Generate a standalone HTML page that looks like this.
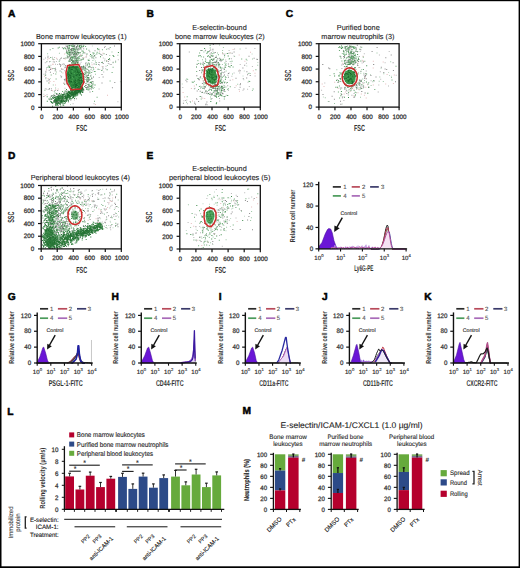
<!DOCTYPE html>
<html><head><meta charset="utf-8"><style>
html,body{margin:0;padding:0;background:#fff;width:520px;height:568px;overflow:hidden}
svg{display:block}
text{font-family:"Liberation Sans", sans-serif;stroke-width:0.1px;text-rendering:geometricPrecision}
</style></head><body>
<svg width="520" height="568" viewBox="0 0 520 568" font-family='"Liberation Sans", sans-serif'>
<rect x="0.00" y="0.00" width="520.00" height="568.00" fill="#fff"/>
<text x="7.90" y="17.30" font-size="10.2" font-weight="bold" fill="#000" stroke="#000" style="stroke-width:0.5px">A</text>
<text x="146.55" y="17.20" font-size="10.2" font-weight="bold" fill="#000" stroke="#000" style="stroke-width:0.5px">B</text>
<text x="285.70" y="17.30" font-size="10.2" font-weight="bold" fill="#000" stroke="#000" style="stroke-width:0.5px">C</text>
<text x="8.05" y="158.75" font-size="10.2" font-weight="bold" fill="#000" stroke="#000" style="stroke-width:0.5px">D</text>
<text x="146.55" y="158.75" font-size="10.2" font-weight="bold" fill="#000" stroke="#000" style="stroke-width:0.5px">E</text>
<text x="286.05" y="158.75" font-size="10.2" font-weight="bold" fill="#000" stroke="#000" style="stroke-width:0.5px">F</text>
<text x="7.80" y="299.80" font-size="10.2" font-weight="bold" fill="#000" stroke="#000" style="stroke-width:0.5px">G</text>
<text x="111.40" y="299.80" font-size="10.2" font-weight="bold" fill="#000" stroke="#000" style="stroke-width:0.5px">H</text>
<text x="218.80" y="299.80" font-size="10.2" font-weight="bold" fill="#000" stroke="#000" style="stroke-width:0.5px">I</text>
<text x="322.00" y="299.80" font-size="10.2" font-weight="bold" fill="#000" stroke="#000" style="stroke-width:0.5px">J</text>
<text x="424.20" y="299.80" font-size="10.2" font-weight="bold" fill="#000" stroke="#000" style="stroke-width:0.5px">K</text>
<text x="7.30" y="414.50" font-size="10.2" font-weight="bold" fill="#000" stroke="#000" style="stroke-width:0.5px">L</text>
<text x="242.50" y="414.40" font-size="10.2" font-weight="bold" fill="#000" stroke="#000" style="stroke-width:0.5px">M</text>
<text x="81.30" y="38.50" font-size="7.3" text-anchor="middle" fill="#222" stroke="#222" textLength="90.60" lengthAdjust="spacingAndGlyphs" >Bone marrow leukocytes (1)</text>
<path fill="#6aa874" d="M67.8 52.3h1v1h-1zM79.6 48.4h1v1h-1zM77.7 58.0h1v1h-1zM69.4 59.1h1v1h-1zM71.7 44.8h1v1h-1zM74.9 63.4h1v1h-1zM75.7 54.8h1v1h-1zM76.1 51.6h1v1h-1zM73.9 54.0h1v1h-1zM85.1 45.9h1v1h-1zM69.0 47.8h1v1h-1zM68.7 53.9h1v1h-1zM74.1 54.1h1v1h-1zM78.0 56.7h1v1h-1zM77.3 62.8h1v1h-1zM72.6 56.8h1v1h-1zM74.4 50.8h1v1h-1zM66.9 56.1h1v1h-1zM75.4 62.2h1v1h-1zM69.7 58.6h1v1h-1zM68.1 47.4h1v1h-1zM75.6 61.5h1v1h-1zM80.4 45.0h1v1h-1zM73.1 61.4h1v1h-1zM66.8 46.4h1v1h-1zM81.5 46.1h1v1h-1zM72.3 56.2h1v1h-1zM69.1 53.8h1v1h-1zM67.4 51.7h1v1h-1zM77.0 56.9h1v1h-1zM76.1 49.1h1v1h-1zM74.2 63.9h1v1h-1zM69.9 54.4h1v1h-1zM68.5 60.2h1v1h-1zM76.2 60.1h1v1h-1zM68.6 61.1h1v1h-1zM73.7 57.4h1v1h-1zM79.1 45.0h1v1h-1zM66.9 53.4h1v1h-1zM75.4 49.4h1v1h-1zM69.3 53.1h1v1h-1zM63.3 47.7h1v1h-1zM80.9 55.5h1v1h-1zM80.4 58.7h1v1h-1zM68.4 50.4h1v1h-1zM76.9 57.4h1v1h-1zM66.4 51.8h1v1h-1zM69.5 52.0h1v1h-1zM73.7 56.1h1v1h-1zM72.8 49.2h1v1h-1zM83.0 46.1h1v1h-1zM72.8 63.7h1v1h-1zM68.9 51.2h1v1h-1zM72.3 53.0h1v1h-1zM68.9 63.9h1v1h-1zM73.9 48.4h1v1h-1zM75.4 62.2h1v1h-1zM75.9 46.9h1v1h-1zM79.3 46.1h1v1h-1zM77.3 60.8h1v1h-1zM66.3 51.9h1v1h-1zM58.9 46.7h1v1h-1zM68.6 55.6h1v1h-1zM70.5 51.5h1v1h-1zM72.5 56.8h1v1h-1zM68.2 54.0h1v1h-1zM71.9 60.1h1v1h-1zM75.5 59.2h1v1h-1zM73.3 52.8h1v1h-1zM73.8 58.2h1v1h-1zM65.8 52.6h1v1h-1zM71.4 55.8h1v1h-1zM75.1 49.7h1v1h-1zM70.2 49.1h1v1h-1zM73.1 47.9h1v1h-1zM76.9 50.6h1v1h-1zM79.5 60.0h1v1h-1zM77.9 58.6h1v1h-1zM74.7 49.3h1v1h-1zM72.7 61.8h1v1h-1zM77.8 48.1h1v1h-1zM80.1 47.0h1v1h-1zM73.1 48.9h1v1h-1zM79.4 55.9h1v1h-1zM71.9 47.9h1v1h-1zM70.4 56.8h1v1h-1zM71.7 61.7h1v1h-1zM77.9 60.4h1v1h-1zM83.3 52.1h1v1h-1zM74.8 60.4h1v1h-1zM81.3 45.5h1v1h-1zM73.7 59.9h1v1h-1zM72.2 63.7h1v1h-1z"/>
<path fill="#a8a8a8" d="M67.1 47.0h1v1h-1zM83.1 47.7h1v1h-1zM77.4 50.2h1v1h-1zM72.2 61.3h1v1h-1zM68.1 52.0h1v1h-1zM72.1 56.7h1v1h-1zM73.6 60.7h1v1h-1zM71.1 63.7h1v1h-1zM71.0 49.6h1v1h-1zM73.6 55.8h1v1h-1zM65.0 47.6h1v1h-1zM75.4 61.1h1v1h-1zM73.6 55.9h1v1h-1zM73.7 51.8h1v1h-1zM78.0 48.2h1v1h-1zM73.1 49.9h1v1h-1zM75.9 47.4h1v1h-1zM72.2 52.6h1v1h-1zM80.7 44.6h1v1h-1zM77.0 54.7h1v1h-1zM74.2 63.3h1v1h-1zM73.1 53.0h1v1h-1zM73.6 48.4h1v1h-1zM75.4 48.2h1v1h-1zM77.9 61.9h1v1h-1zM81.4 47.1h1v1h-1zM75.3 57.6h1v1h-1zM74.2 55.1h1v1h-1zM74.7 47.6h1v1h-1zM76.6 49.0h1v1h-1zM72.5 50.0h1v1h-1zM67.8 55.9h1v1h-1zM70.4 57.0h1v1h-1zM78.0 53.1h1v1h-1zM74.6 50.0h1v1h-1z"/>
<path fill="#3d8a4a" d="M71.2 60.0h1v1h-1zM81.1 46.3h1v1h-1zM75.1 64.0h1v1h-1zM70.6 48.8h1v1h-1zM74.8 59.9h1v1h-1zM74.3 63.3h1v1h-1zM83.2 45.3h1v1h-1zM69.4 64.4h1v1h-1zM76.4 60.1h1v1h-1zM73.3 56.9h1v1h-1zM70.1 64.5h1v1h-1zM76.2 58.7h1v1h-1zM74.5 54.1h1v1h-1zM73.0 49.6h1v1h-1zM73.8 62.4h1v1h-1zM78.2 52.0h1v1h-1zM73.8 61.3h1v1h-1zM67.2 53.1h1v1h-1zM72.6 51.7h1v1h-1zM71.5 59.7h1v1h-1zM74.5 56.2h1v1h-1zM70.8 45.3h1v1h-1zM77.4 59.7h1v1h-1zM74.4 50.9h1v1h-1zM63.2 48.3h1v1h-1zM79.4 52.5h1v1h-1zM74.3 52.9h1v1h-1zM67.6 57.3h1v1h-1zM78.8 46.5h1v1h-1zM72.2 58.0h1v1h-1zM71.9 57.0h1v1h-1zM73.4 61.8h1v1h-1zM67.2 45.6h1v1h-1zM77.3 53.6h1v1h-1zM70.7 52.8h1v1h-1zM71.7 45.9h1v1h-1zM67.6 48.6h1v1h-1zM70.0 57.8h1v1h-1zM71.5 59.0h1v1h-1zM76.1 53.7h1v1h-1zM69.0 46.8h1v1h-1zM75.0 62.8h1v1h-1zM73.6 55.7h1v1h-1zM66.1 51.4h1v1h-1zM77.1 44.7h1v1h-1zM73.4 63.3h1v1h-1zM57.7 47.4h1v1h-1zM71.2 62.2h1v1h-1zM78.1 51.9h1v1h-1zM69.3 55.1h1v1h-1zM71.6 52.0h1v1h-1zM72.7 48.2h1v1h-1zM67.9 50.2h1v1h-1zM72.8 46.2h1v1h-1zM79.7 47.8h1v1h-1zM73.0 53.9h1v1h-1zM68.8 46.5h1v1h-1zM72.5 63.9h1v1h-1zM70.6 59.6h1v1h-1zM76.1 60.3h1v1h-1zM72.0 61.1h1v1h-1zM73.8 63.8h1v1h-1zM72.0 58.2h1v1h-1zM74.2 45.6h1v1h-1zM73.6 53.6h1v1h-1zM73.7 51.2h1v1h-1zM67.5 52.6h1v1h-1zM73.6 48.3h1v1h-1zM70.5 58.2h1v1h-1zM73.5 62.0h1v1h-1zM73.8 61.7h1v1h-1zM76.0 46.5h1v1h-1zM68.9 60.7h1v1h-1zM70.4 51.4h1v1h-1zM72.3 51.8h1v1h-1zM74.7 57.7h1v1h-1zM75.0 63.6h1v1h-1zM77.1 59.7h1v1h-1zM75.0 61.5h1v1h-1zM81.5 50.5h1v1h-1zM73.0 56.9h1v1h-1zM77.1 62.4h1v1h-1zM69.5 49.7h1v1h-1zM73.3 61.6h1v1h-1zM71.5 62.8h1v1h-1zM76.0 58.7h1v1h-1zM73.0 60.6h1v1h-1zM65.5 57.5h1v1h-1zM71.7 50.3h1v1h-1zM76.9 62.1h1v1h-1zM74.0 62.9h1v1h-1zM72.6 44.6h1v1h-1zM69.0 51.9h1v1h-1zM73.6 60.6h1v1h-1zM77.1 48.9h1v1h-1zM65.2 48.2h1v1h-1zM75.7 56.4h1v1h-1zM79.0 45.6h1v1h-1zM74.3 49.1h1v1h-1zM68.9 44.9h1v1h-1zM68.4 48.3h1v1h-1zM73.4 46.0h1v1h-1zM73.2 61.8h1v1h-1zM76.9 62.2h1v1h-1zM69.3 45.0h1v1h-1zM81.6 54.7h1v1h-1zM74.7 62.8h1v1h-1z"/>
<path fill="#9cc6a4" d="M76.0 47.8h1v1h-1zM72.9 55.0h1v1h-1zM71.9 58.4h1v1h-1zM74.2 59.2h1v1h-1zM77.6 53.9h1v1h-1zM68.0 45.0h1v1h-1zM74.8 51.8h1v1h-1zM75.1 61.0h1v1h-1zM66.7 55.0h1v1h-1zM75.4 59.2h1v1h-1zM77.2 61.0h1v1h-1zM77.1 50.8h1v1h-1zM77.3 59.2h1v1h-1zM75.1 54.9h1v1h-1zM74.3 63.7h1v1h-1zM73.9 57.4h1v1h-1zM68.8 51.1h1v1h-1zM71.5 54.1h1v1h-1zM68.8 46.6h1v1h-1zM75.2 55.3h1v1h-1zM68.3 45.2h1v1h-1zM71.2 46.1h1v1h-1zM74.3 53.9h1v1h-1zM67.9 48.7h1v1h-1zM67.4 52.3h1v1h-1zM70.2 56.6h1v1h-1zM69.7 60.5h1v1h-1zM78.6 59.6h1v1h-1zM70.5 58.4h1v1h-1zM68.3 61.0h1v1h-1zM73.3 63.1h1v1h-1zM74.1 62.0h1v1h-1zM73.9 59.2h1v1h-1zM72.7 52.6h1v1h-1zM66.2 48.8h1v1h-1zM72.3 47.4h1v1h-1zM73.2 63.3h1v1h-1zM72.6 57.6h1v1h-1zM71.0 52.0h1v1h-1zM74.3 47.1h1v1h-1zM75.5 52.7h1v1h-1zM72.9 53.1h1v1h-1zM73.5 56.8h1v1h-1zM76.0 62.5h1v1h-1zM75.4 61.5h1v1h-1zM64.1 47.0h1v1h-1zM68.4 47.1h1v1h-1zM63.6 57.7h1v1h-1zM74.0 60.6h1v1h-1zM82.4 50.8h1v1h-1zM72.3 49.3h1v1h-1zM78.3 49.6h1v1h-1zM77.7 56.4h1v1h-1zM73.0 62.0h1v1h-1zM73.6 49.4h1v1h-1zM75.5 54.7h1v1h-1z"/>
<path fill="#7a7a7a" d="M79.6 54.9h1v1h-1zM69.5 53.6h1v1h-1zM72.1 52.2h1v1h-1zM73.3 54.1h1v1h-1zM69.7 60.8h1v1h-1zM71.2 48.0h1v1h-1zM67.0 47.5h1v1h-1zM75.8 57.7h1v1h-1zM71.2 48.3h1v1h-1zM65.6 45.5h1v1h-1zM77.0 52.0h1v1h-1zM76.2 46.1h1v1h-1zM73.2 60.5h1v1h-1zM84.4 52.4h1v1h-1zM70.5 51.8h1v1h-1zM72.2 63.8h1v1h-1zM80.7 48.5h1v1h-1zM72.5 64.2h1v1h-1zM72.4 48.3h1v1h-1zM76.0 61.3h1v1h-1zM69.9 57.4h1v1h-1zM66.7 45.9h1v1h-1zM70.6 54.3h1v1h-1zM69.1 56.2h1v1h-1zM73.2 45.4h1v1h-1zM75.1 63.4h1v1h-1zM72.2 60.6h1v1h-1zM73.8 45.2h1v1h-1zM69.7 58.3h1v1h-1zM71.1 49.2h1v1h-1zM74.5 51.5h1v1h-1zM74.8 52.1h1v1h-1zM76.4 47.7h1v1h-1zM66.0 50.5h1v1h-1zM75.3 56.6h1v1h-1zM69.1 59.6h1v1h-1zM76.5 58.1h1v1h-1zM78.5 48.7h1v1h-1zM75.3 61.5h1v1h-1zM75.9 53.8h1v1h-1zM74.9 53.5h1v1h-1zM77.3 46.2h1v1h-1zM74.1 45.6h1v1h-1zM75.1 55.8h1v1h-1zM72.7 63.7h1v1h-1zM75.7 53.2h1v1h-1zM71.0 50.1h1v1h-1zM76.3 61.1h1v1h-1zM68.4 49.4h1v1h-1z"/>
<path fill="#6aa874" d="M82.7 88.9h1v1h-1zM86.6 81.7h1v1h-1zM84.8 68.3h1v1h-1zM86.7 64.8h1v1h-1zM82.5 65.9h1v1h-1zM85.1 70.2h1v1h-1zM85.6 72.7h1v1h-1zM86.2 78.4h1v1h-1zM88.5 79.9h1v1h-1zM89.5 85.7h1v1h-1zM85.6 74.6h1v1h-1zM87.4 78.6h1v1h-1zM88.4 89.5h1v1h-1zM85.7 83.3h1v1h-1zM81.0 70.6h1v1h-1zM89.5 71.4h1v1h-1zM87.3 88.4h1v1h-1zM87.1 88.8h1v1h-1zM89.6 78.9h1v1h-1zM84.0 69.8h1v1h-1zM87.1 71.9h1v1h-1zM84.5 73.4h1v1h-1zM81.8 68.8h1v1h-1zM86.4 75.9h1v1h-1zM82.8 69.2h1v1h-1zM87.6 77.2h1v1h-1zM87.8 78.1h1v1h-1zM91.0 82.1h1v1h-1zM85.1 87.1h1v1h-1zM89.3 65.7h1v1h-1zM88.4 78.7h1v1h-1zM91.4 81.2h1v1h-1zM85.7 71.3h1v1h-1zM88.3 72.0h1v1h-1zM86.5 79.6h1v1h-1zM92.0 86.7h1v1h-1zM80.6 66.4h1v1h-1zM87.8 73.2h1v1h-1zM84.9 66.9h1v1h-1zM81.1 67.3h1v1h-1zM83.6 76.6h1v1h-1zM86.2 79.5h1v1h-1zM82.1 77.9h1v1h-1zM88.4 70.8h1v1h-1zM82.6 81.4h1v1h-1zM83.8 78.4h1v1h-1zM83.4 67.4h1v1h-1zM85.0 72.6h1v1h-1z"/>
<path fill="#9cc6a4" d="M87.8 74.0h1v1h-1zM86.8 77.2h1v1h-1zM89.9 85.9h1v1h-1zM80.6 68.6h1v1h-1zM92.8 87.9h1v1h-1zM87.3 71.7h1v1h-1zM84.9 77.0h1v1h-1zM92.3 83.4h1v1h-1zM86.8 77.4h1v1h-1zM83.9 71.7h1v1h-1zM87.0 77.4h1v1h-1zM86.1 71.7h1v1h-1zM90.5 81.0h1v1h-1zM91.0 88.7h1v1h-1zM81.4 67.1h1v1h-1zM82.0 80.0h1v1h-1zM90.4 85.6h1v1h-1zM86.1 87.7h1v1h-1zM92.8 81.6h1v1h-1zM86.6 79.6h1v1h-1zM87.5 89.6h1v1h-1zM77.5 74.8h1v1h-1zM91.7 87.3h1v1h-1zM84.2 75.6h1v1h-1zM93.7 86.9h1v1h-1zM91.5 84.2h1v1h-1zM89.3 83.8h1v1h-1z"/>
<path fill="#3d8a4a" d="M88.5 88.6h1v1h-1zM86.3 68.4h1v1h-1zM83.1 67.5h1v1h-1zM87.8 66.5h1v1h-1zM84.2 86.0h1v1h-1zM84.4 68.4h1v1h-1zM88.0 74.8h1v1h-1zM89.9 82.1h1v1h-1zM85.3 84.9h1v1h-1zM90.9 86.7h1v1h-1zM82.9 66.1h1v1h-1zM87.1 76.9h1v1h-1zM89.3 72.8h1v1h-1zM92.5 83.6h1v1h-1zM86.1 88.8h1v1h-1zM91.2 77.4h1v1h-1zM86.9 81.1h1v1h-1zM82.5 73.2h1v1h-1zM87.6 83.9h1v1h-1zM91.4 85.3h1v1h-1zM88.2 84.2h1v1h-1zM86.3 80.6h1v1h-1zM88.5 84.9h1v1h-1zM88.3 76.9h1v1h-1zM82.4 77.6h1v1h-1zM89.6 86.1h1v1h-1zM87.6 79.4h1v1h-1zM83.8 73.9h1v1h-1zM83.5 81.2h1v1h-1zM88.3 86.7h1v1h-1zM88.5 84.8h1v1h-1zM90.3 75.5h1v1h-1zM79.5 69.8h1v1h-1zM81.6 73.5h1v1h-1zM91.0 85.6h1v1h-1zM79.5 69.8h1v1h-1zM94.5 84.6h1v1h-1z"/>
<path fill="#7a7a7a" d="M88.8 78.8h1v1h-1zM93.0 76.6h1v1h-1zM91.0 82.7h1v1h-1zM87.2 75.0h1v1h-1zM83.3 76.1h1v1h-1zM83.7 81.8h1v1h-1zM87.0 86.8h1v1h-1zM85.6 76.6h1v1h-1zM82.1 67.5h1v1h-1zM91.3 78.3h1v1h-1zM80.9 66.1h1v1h-1zM82.1 75.3h1v1h-1zM85.1 67.7h1v1h-1zM83.1 72.9h1v1h-1zM85.3 84.9h1v1h-1zM81.6 73.3h1v1h-1zM79.8 68.5h1v1h-1zM81.3 67.4h1v1h-1zM85.9 87.1h1v1h-1zM84.1 66.4h1v1h-1zM78.9 71.8h1v1h-1zM87.9 80.8h1v1h-1zM87.5 86.0h1v1h-1zM89.6 88.3h1v1h-1z"/>
<path fill="#a8a8a8" d="M88.0 66.6h1v1h-1zM88.6 82.2h1v1h-1zM89.9 75.2h1v1h-1zM85.8 75.1h1v1h-1zM91.2 87.7h1v1h-1zM83.3 77.2h1v1h-1zM92.4 85.4h1v1h-1zM85.2 69.6h1v1h-1zM84.7 79.1h1v1h-1zM87.6 83.7h1v1h-1zM82.2 75.6h1v1h-1zM88.8 78.7h1v1h-1zM85.1 83.1h1v1h-1zM82.8 67.1h1v1h-1z"/>
<path fill="#c0d8c6" d="M85.8 62.1h1v1h-1zM85.5 63.5h1v1h-1zM91.3 62.3h1v1h-1zM90.7 74.6h1v1h-1zM98.7 49.5h1v1h-1zM91.9 55.1h1v1h-1zM102.5 66.3h1v1h-1zM88.2 60.1h1v1h-1zM79.9 54.2h1v1h-1zM82.8 44.6h1v1h-1zM93.7 58.5h1v1h-1zM91.9 45.6h1v1h-1zM73.0 68.3h1v1h-1zM77.6 71.3h1v1h-1zM119.9 81.3h1v1h-1zM89.3 55.3h1v1h-1zM102.7 68.1h1v1h-1zM94.9 54.3h1v1h-1zM88.9 70.2h1v1h-1zM90.0 56.1h1v1h-1zM96.4 52.5h1v1h-1zM97.3 49.2h1v1h-1z"/>
<path fill="#8c8c8c" d="M60.3 64.7h1v1h-1zM81.3 75.9h1v1h-1zM85.1 62.7h1v1h-1zM82.3 57.4h1v1h-1zM89.5 66.8h1v1h-1zM87.8 79.3h1v1h-1zM102.7 62.9h1v1h-1zM101.5 73.9h1v1h-1zM91.6 57.6h1v1h-1zM81.6 59.0h1v1h-1zM114.0 45.6h1v1h-1zM85.6 56.4h1v1h-1zM98.6 61.9h1v1h-1zM85.3 65.4h1v1h-1zM95.4 57.3h1v1h-1zM107.8 60.9h1v1h-1zM100.4 54.0h1v1h-1zM105.9 54.0h1v1h-1zM98.2 64.0h1v1h-1zM110.5 64.1h1v1h-1zM79.1 70.4h1v1h-1zM112.7 61.8h1v1h-1zM78.2 67.9h1v1h-1zM93.6 63.5h1v1h-1zM108.8 58.9h1v1h-1zM92.2 81.0h1v1h-1zM102.6 76.4h1v1h-1zM101.5 54.7h1v1h-1zM108.6 48.4h1v1h-1zM93.9 55.0h1v1h-1zM101.9 61.7h1v1h-1zM94.5 50.2h1v1h-1zM88.2 70.1h1v1h-1zM89.3 51.2h1v1h-1zM79.6 63.6h1v1h-1zM78.7 71.3h1v1h-1zM90.9 67.3h1v1h-1zM81.2 70.1h1v1h-1z"/>
<path fill="#9cc6a4" d="M112.5 62.2h1v1h-1zM94.9 60.4h1v1h-1zM86.7 63.5h1v1h-1zM92.4 59.9h1v1h-1zM88.9 64.6h1v1h-1zM111.5 51.6h1v1h-1zM76.2 48.8h1v1h-1zM73.0 65.0h1v1h-1zM95.0 73.8h1v1h-1zM92.3 66.8h1v1h-1zM117.4 54.7h1v1h-1zM83.1 65.3h1v1h-1zM106.9 65.1h1v1h-1zM66.5 51.5h1v1h-1z"/>
<path fill="#6aa874" d="M95.7 63.9h1v1h-1zM91.1 55.2h1v1h-1zM96.3 53.5h1v1h-1zM94.6 71.1h1v1h-1zM96.7 51.7h1v1h-1zM78.6 56.3h1v1h-1zM109.6 80.4h1v1h-1zM81.1 59.5h1v1h-1zM93.2 68.8h1v1h-1zM82.8 58.7h1v1h-1zM88.5 49.7h1v1h-1zM79.0 57.7h1v1h-1zM79.0 68.0h1v1h-1zM109.0 58.1h1v1h-1zM89.2 66.0h1v1h-1zM92.5 52.2h1v1h-1zM111.6 72.0h1v1h-1zM91.2 72.1h1v1h-1zM88.2 62.5h1v1h-1zM82.5 52.8h1v1h-1zM101.9 49.3h1v1h-1zM112.6 66.8h1v1h-1zM92.8 67.2h1v1h-1zM93.6 52.8h1v1h-1zM79.7 51.9h1v1h-1zM85.4 71.4h1v1h-1zM93.9 70.9h1v1h-1zM103.5 53.3h1v1h-1zM93.1 57.6h1v1h-1zM109.7 47.1h1v1h-1zM87.3 69.0h1v1h-1zM83.1 58.3h1v1h-1zM82.7 50.7h1v1h-1z"/>
<path fill="#3d8a4a" d="M75.9 52.7h1v1h-1zM108.0 59.1h1v1h-1zM100.0 56.3h1v1h-1zM82.8 66.4h1v1h-1zM97.0 48.2h1v1h-1zM106.0 60.4h1v1h-1zM88.9 63.6h1v1h-1zM113.3 55.9h1v1h-1zM86.1 48.4h1v1h-1zM117.9 52.0h1v1h-1zM98.7 52.8h1v1h-1zM70.9 56.7h1v1h-1zM95.6 62.2h1v1h-1zM88.5 60.1h1v1h-1zM112.6 55.1h1v1h-1zM97.6 68.8h1v1h-1zM94.2 55.5h1v1h-1zM86.5 53.6h1v1h-1zM87.7 59.5h1v1h-1zM98.3 48.7h1v1h-1zM91.5 56.6h1v1h-1zM90.1 54.1h1v1h-1zM73.4 62.3h1v1h-1zM101.4 62.0h1v1h-1zM106.6 69.3h1v1h-1z"/>
<path fill="#b8b8b8" d="M99.2 68.9h1v1h-1zM70.7 53.6h1v1h-1zM92.9 56.0h1v1h-1zM87.5 62.7h1v1h-1zM99.7 53.6h1v1h-1zM115.1 60.5h1v1h-1zM103.2 71.5h1v1h-1zM102.2 68.5h1v1h-1zM107.7 48.0h1v1h-1zM102.8 57.4h1v1h-1zM92.3 70.2h1v1h-1zM104.4 58.4h1v1h-1zM61.8 64.1h1v1h-1zM80.6 61.8h1v1h-1zM105.2 68.2h1v1h-1zM87.8 71.6h1v1h-1zM101.6 69.7h1v1h-1zM98.7 77.0h1v1h-1zM85.1 64.6h1v1h-1zM83.3 48.6h1v1h-1z"/>
<path fill="#e6bcbc" d="M83.4 57.1h1v1h-1zM102.5 52.7h1v1h-1zM99.2 50.7h1v1h-1zM95.1 67.0h1v1h-1zM91.6 64.3h1v1h-1zM69.4 73.3h1v1h-1zM80.3 54.6h1v1h-1z"/>
<path fill="#3d8a4a" d="M58.6 101.3h1v1h-1zM55.1 98.4h1v1h-1zM61.2 98.9h1v1h-1zM67.4 93.1h1v1h-1zM81.6 90.1h1v1h-1zM70.3 93.9h1v1h-1zM64.6 98.4h1v1h-1zM56.9 100.2h1v1h-1zM77.1 92.2h1v1h-1zM72.9 94.1h1v1h-1zM80.5 88.9h1v1h-1zM68.2 95.5h1v1h-1zM56.6 97.4h1v1h-1zM66.0 89.1h1v1h-1zM57.5 105.0h1v1h-1zM82.8 89.2h1v1h-1zM64.2 96.0h1v1h-1zM74.8 95.3h1v1h-1zM78.7 90.0h1v1h-1zM61.0 100.1h1v1h-1zM56.4 97.4h1v1h-1zM60.4 100.9h1v1h-1zM75.4 89.9h1v1h-1zM73.9 94.2h1v1h-1zM57.8 100.4h1v1h-1zM57.3 99.9h1v1h-1zM80.9 89.3h1v1h-1zM77.9 90.9h1v1h-1zM71.1 91.5h1v1h-1zM78.4 90.4h1v1h-1zM76.8 94.2h1v1h-1zM59.3 102.6h1v1h-1zM69.9 97.4h1v1h-1zM74.1 89.5h1v1h-1zM61.5 100.6h1v1h-1zM57.6 101.8h1v1h-1zM57.8 95.8h1v1h-1zM68.3 96.7h1v1h-1zM71.1 91.1h1v1h-1zM67.5 93.9h1v1h-1zM63.1 94.7h1v1h-1zM73.8 91.6h1v1h-1zM62.4 95.3h1v1h-1zM65.0 96.6h1v1h-1zM79.8 93.5h1v1h-1zM66.4 98.6h1v1h-1zM75.6 92.7h1v1h-1zM75.1 89.7h1v1h-1zM80.6 86.8h1v1h-1zM66.0 100.6h1v1h-1zM81.9 87.0h1v1h-1zM77.2 94.4h1v1h-1zM67.0 92.9h1v1h-1zM65.2 97.8h1v1h-1zM76.7 92.0h1v1h-1zM81.0 89.1h1v1h-1zM80.6 89.7h1v1h-1zM65.3 97.6h1v1h-1zM78.8 87.4h1v1h-1zM61.4 101.8h1v1h-1zM70.9 94.5h1v1h-1zM62.4 97.9h1v1h-1zM75.7 90.1h1v1h-1zM71.8 94.2h1v1h-1zM75.3 90.0h1v1h-1zM57.9 96.7h1v1h-1zM66.9 92.9h1v1h-1zM80.2 88.6h1v1h-1zM79.1 89.6h1v1h-1zM79.5 88.8h1v1h-1zM60.6 96.5h1v1h-1zM61.4 97.6h1v1h-1zM81.0 88.0h1v1h-1zM67.0 98.5h1v1h-1zM70.5 92.1h1v1h-1zM79.1 90.3h1v1h-1zM72.1 96.9h1v1h-1zM81.6 87.3h1v1h-1zM56.6 98.7h1v1h-1zM60.8 101.1h1v1h-1zM59.1 97.6h1v1h-1zM77.5 88.0h1v1h-1zM55.0 101.1h1v1h-1zM55.4 98.6h1v1h-1zM74.1 88.5h1v1h-1zM75.2 88.6h1v1h-1zM81.3 87.9h1v1h-1zM74.5 94.1h1v1h-1zM63.3 95.8h1v1h-1zM80.8 88.5h1v1h-1zM81.1 86.1h1v1h-1zM55.3 100.2h1v1h-1zM58.5 102.4h1v1h-1zM64.2 98.2h1v1h-1zM80.0 87.4h1v1h-1zM72.9 93.1h1v1h-1zM74.2 91.9h1v1h-1zM59.0 101.3h1v1h-1zM62.3 96.3h1v1h-1zM78.4 91.2h1v1h-1zM78.4 84.7h1v1h-1zM56.5 102.6h1v1h-1zM60.3 94.6h1v1h-1zM61.0 102.3h1v1h-1zM59.8 96.7h1v1h-1zM62.5 99.8h1v1h-1zM68.0 97.3h1v1h-1zM61.6 97.2h1v1h-1zM62.0 96.0h1v1h-1zM57.4 98.5h1v1h-1zM79.2 88.4h1v1h-1zM72.6 92.2h1v1h-1zM68.8 98.0h1v1h-1zM63.2 99.7h1v1h-1zM54.1 99.6h1v1h-1zM58.5 99.1h1v1h-1zM67.2 94.2h1v1h-1zM78.3 88.7h1v1h-1zM79.1 88.0h1v1h-1zM78.8 89.6h1v1h-1zM62.8 98.3h1v1h-1zM61.6 99.1h1v1h-1zM79.4 90.4h1v1h-1zM66.8 95.1h1v1h-1zM71.2 95.5h1v1h-1zM61.8 100.9h1v1h-1zM69.8 96.3h1v1h-1zM57.8 101.3h1v1h-1zM72.6 93.2h1v1h-1zM68.2 90.7h1v1h-1zM58.2 100.6h1v1h-1zM77.7 89.9h1v1h-1zM77.9 89.0h1v1h-1zM55.4 101.5h1v1h-1zM67.4 91.6h1v1h-1zM70.2 90.8h1v1h-1zM72.7 91.6h1v1h-1zM62.9 101.1h1v1h-1zM53.5 95.2h1v1h-1zM72.5 92.7h1v1h-1zM73.0 96.5h1v1h-1zM54.9 100.3h1v1h-1zM71.5 92.9h1v1h-1zM73.0 95.9h1v1h-1zM76.3 95.3h1v1h-1zM76.1 95.2h1v1h-1zM72.7 94.0h1v1h-1zM55.6 102.4h1v1h-1zM55.4 99.5h1v1h-1zM78.5 88.5h1v1h-1zM61.0 101.1h1v1h-1zM53.4 94.4h1v1h-1zM61.2 97.9h1v1h-1zM72.6 96.9h1v1h-1zM72.0 93.2h1v1h-1zM70.9 90.5h1v1h-1zM61.9 94.5h1v1h-1zM60.9 102.1h1v1h-1zM75.9 91.2h1v1h-1zM70.2 93.9h1v1h-1zM69.0 95.0h1v1h-1zM69.1 91.5h1v1h-1zM60.2 105.6h1v1h-1zM72.8 92.3h1v1h-1zM65.9 98.1h1v1h-1z"/>
<path fill="#2b7a3a" d="M75.2 92.3h1v1h-1zM74.0 92.2h1v1h-1zM57.0 103.7h1v1h-1zM79.4 88.7h1v1h-1zM64.9 95.8h1v1h-1zM70.4 92.1h1v1h-1zM77.2 90.0h1v1h-1zM73.3 95.6h1v1h-1zM59.2 101.8h1v1h-1zM64.3 103.0h1v1h-1zM76.1 91.4h1v1h-1zM56.3 104.5h1v1h-1zM82.1 87.2h1v1h-1zM66.5 97.6h1v1h-1zM77.4 92.2h1v1h-1zM69.5 92.6h1v1h-1zM62.1 100.6h1v1h-1zM78.6 90.4h1v1h-1zM54.4 101.3h1v1h-1zM75.8 89.4h1v1h-1zM54.7 97.3h1v1h-1zM67.0 97.0h1v1h-1zM72.3 92.1h1v1h-1zM57.1 100.8h1v1h-1zM59.4 97.7h1v1h-1zM57.8 100.3h1v1h-1zM62.9 99.6h1v1h-1zM65.8 93.1h1v1h-1zM64.9 96.6h1v1h-1zM60.7 99.6h1v1h-1zM67.8 91.8h1v1h-1zM55.9 101.8h1v1h-1zM80.7 90.6h1v1h-1zM62.7 93.9h1v1h-1zM74.5 96.2h1v1h-1zM79.6 90.7h1v1h-1zM66.5 92.2h1v1h-1zM56.4 102.3h1v1h-1zM74.1 92.5h1v1h-1zM72.6 89.7h1v1h-1zM82.1 88.8h1v1h-1zM55.6 99.3h1v1h-1zM78.8 90.8h1v1h-1zM75.7 92.2h1v1h-1zM70.4 98.8h1v1h-1zM72.9 92.2h1v1h-1zM78.8 90.5h1v1h-1zM73.5 89.7h1v1h-1zM57.0 99.6h1v1h-1zM64.1 94.7h1v1h-1zM61.0 96.7h1v1h-1zM60.3 95.3h1v1h-1zM81.2 90.3h1v1h-1zM75.6 92.5h1v1h-1zM62.5 94.1h1v1h-1zM82.0 87.6h1v1h-1zM78.7 87.4h1v1h-1zM69.0 92.7h1v1h-1zM58.1 100.1h1v1h-1zM81.8 87.2h1v1h-1zM77.6 92.0h1v1h-1zM57.3 97.5h1v1h-1zM61.6 98.9h1v1h-1zM55.9 97.7h1v1h-1zM55.5 97.5h1v1h-1zM72.2 93.2h1v1h-1zM78.9 87.1h1v1h-1zM62.9 97.8h1v1h-1zM56.9 95.7h1v1h-1zM79.8 92.2h1v1h-1zM74.6 92.8h1v1h-1zM68.0 91.1h1v1h-1zM67.4 92.1h1v1h-1zM77.3 93.4h1v1h-1zM61.9 97.2h1v1h-1zM55.5 96.9h1v1h-1zM62.4 94.8h1v1h-1zM80.8 84.7h1v1h-1zM77.9 89.0h1v1h-1zM58.2 97.3h1v1h-1zM64.8 95.0h1v1h-1zM81.3 86.4h1v1h-1zM68.8 94.6h1v1h-1zM62.7 102.5h1v1h-1zM69.1 92.9h1v1h-1zM74.9 93.9h1v1h-1zM69.3 97.5h1v1h-1zM65.8 99.7h1v1h-1zM64.8 101.6h1v1h-1zM55.4 103.0h1v1h-1zM73.8 93.7h1v1h-1zM75.9 93.2h1v1h-1zM67.2 92.8h1v1h-1zM62.4 98.3h1v1h-1zM80.7 88.1h1v1h-1zM63.7 100.0h1v1h-1zM75.2 89.7h1v1h-1zM56.3 100.7h1v1h-1zM77.7 88.7h1v1h-1zM57.7 102.4h1v1h-1zM81.5 86.4h1v1h-1zM74.6 92.0h1v1h-1zM75.6 89.9h1v1h-1zM73.9 97.9h1v1h-1zM53.8 99.7h1v1h-1zM58.1 102.3h1v1h-1zM67.9 94.0h1v1h-1zM61.0 98.3h1v1h-1zM79.2 91.4h1v1h-1zM65.4 96.9h1v1h-1zM76.2 93.7h1v1h-1zM62.9 100.1h1v1h-1zM68.1 96.2h1v1h-1zM54.3 100.0h1v1h-1zM78.5 85.5h1v1h-1zM82.1 88.4h1v1h-1zM81.5 89.3h1v1h-1zM81.7 91.4h1v1h-1zM71.3 92.3h1v1h-1zM54.8 101.4h1v1h-1zM73.6 91.1h1v1h-1zM77.7 88.9h1v1h-1zM74.2 95.2h1v1h-1zM76.0 91.7h1v1h-1zM80.7 86.6h1v1h-1zM75.6 90.6h1v1h-1zM57.1 97.4h1v1h-1zM82.0 88.2h1v1h-1zM75.5 88.5h1v1h-1zM57.7 103.3h1v1h-1zM55.1 101.6h1v1h-1zM78.9 88.2h1v1h-1zM74.4 93.8h1v1h-1zM63.9 95.7h1v1h-1zM82.2 91.8h1v1h-1zM83.3 89.6h1v1h-1zM63.0 98.1h1v1h-1zM65.8 97.0h1v1h-1zM78.2 90.4h1v1h-1zM62.3 100.9h1v1h-1zM70.8 92.7h1v1h-1zM71.9 94.9h1v1h-1zM80.4 86.6h1v1h-1zM66.7 97.4h1v1h-1zM75.2 88.0h1v1h-1zM78.8 89.5h1v1h-1zM81.7 91.9h1v1h-1zM65.3 97.6h1v1h-1zM65.3 96.7h1v1h-1zM60.6 95.3h1v1h-1zM62.3 99.1h1v1h-1zM68.6 99.0h1v1h-1zM66.3 96.7h1v1h-1zM69.6 93.6h1v1h-1zM76.1 89.2h1v1h-1zM60.0 97.5h1v1h-1zM70.1 93.3h1v1h-1zM77.8 86.8h1v1h-1zM77.3 90.8h1v1h-1zM69.7 95.2h1v1h-1zM58.1 96.9h1v1h-1zM76.5 92.7h1v1h-1zM57.8 97.0h1v1h-1zM74.8 90.3h1v1h-1zM56.3 102.8h1v1h-1zM80.6 89.8h1v1h-1zM67.9 95.0h1v1h-1zM63.0 99.9h1v1h-1zM77.1 92.2h1v1h-1zM65.3 95.6h1v1h-1zM77.0 90.3h1v1h-1zM74.3 90.9h1v1h-1zM82.3 92.0h1v1h-1zM74.8 93.0h1v1h-1zM69.3 95.8h1v1h-1zM65.5 96.3h1v1h-1zM61.8 96.4h1v1h-1zM63.7 93.7h1v1h-1zM78.9 91.6h1v1h-1zM54.8 101.5h1v1h-1zM72.9 97.0h1v1h-1zM67.3 96.3h1v1h-1zM72.3 90.5h1v1h-1zM61.4 97.3h1v1h-1zM76.6 93.0h1v1h-1zM57.8 100.4h1v1h-1zM79.3 87.4h1v1h-1zM71.7 92.3h1v1h-1zM74.0 91.4h1v1h-1zM74.0 94.1h1v1h-1zM73.9 92.0h1v1h-1zM71.5 97.9h1v1h-1zM78.2 90.8h1v1h-1zM59.9 97.7h1v1h-1zM79.9 92.7h1v1h-1zM64.7 90.6h1v1h-1zM58.6 100.0h1v1h-1zM81.0 87.8h1v1h-1zM61.6 99.9h1v1h-1zM60.8 100.4h1v1h-1zM66.8 97.0h1v1h-1zM79.4 91.4h1v1h-1zM71.8 93.0h1v1h-1zM74.7 90.7h1v1h-1zM70.9 92.0h1v1h-1zM64.7 102.1h1v1h-1zM66.8 94.1h1v1h-1zM77.2 89.9h1v1h-1zM78.6 89.8h1v1h-1zM80.6 91.1h1v1h-1zM68.6 95.5h1v1h-1zM61.3 96.4h1v1h-1zM66.1 95.3h1v1h-1z"/>
<path fill="#1f6b2f" d="M67.8 92.0h1v1h-1zM71.3 91.6h1v1h-1zM59.2 97.2h1v1h-1zM76.3 89.6h1v1h-1zM69.4 93.3h1v1h-1zM74.6 94.8h1v1h-1zM58.6 99.0h1v1h-1zM72.8 96.1h1v1h-1zM64.4 96.6h1v1h-1zM57.0 101.5h1v1h-1zM62.9 96.7h1v1h-1zM61.4 100.9h1v1h-1zM61.2 100.5h1v1h-1zM77.9 89.9h1v1h-1zM60.0 100.0h1v1h-1zM62.2 94.5h1v1h-1zM73.5 93.1h1v1h-1zM54.6 100.5h1v1h-1zM74.1 89.6h1v1h-1zM61.7 94.3h1v1h-1zM67.4 92.6h1v1h-1zM75.9 93.3h1v1h-1zM71.8 93.9h1v1h-1zM74.4 92.6h1v1h-1zM71.8 90.7h1v1h-1zM75.4 91.7h1v1h-1zM65.0 95.5h1v1h-1zM70.7 93.5h1v1h-1zM81.3 86.1h1v1h-1zM75.0 92.0h1v1h-1zM63.2 98.9h1v1h-1zM56.6 98.4h1v1h-1zM76.8 92.0h1v1h-1zM68.2 92.5h1v1h-1zM65.3 99.9h1v1h-1zM72.5 93.2h1v1h-1zM68.7 95.0h1v1h-1zM59.5 103.4h1v1h-1zM78.1 90.6h1v1h-1zM71.6 95.5h1v1h-1zM71.0 94.6h1v1h-1zM70.0 95.6h1v1h-1zM64.2 98.1h1v1h-1zM67.1 94.2h1v1h-1zM56.3 103.5h1v1h-1zM74.8 89.9h1v1h-1zM67.4 96.5h1v1h-1zM81.0 94.5h1v1h-1zM69.4 96.0h1v1h-1zM72.8 94.1h1v1h-1zM58.0 98.2h1v1h-1zM69.3 91.1h1v1h-1zM75.9 91.9h1v1h-1zM68.8 96.9h1v1h-1zM74.3 91.1h1v1h-1zM73.2 93.1h1v1h-1zM76.3 87.2h1v1h-1zM70.1 92.8h1v1h-1zM59.1 100.6h1v1h-1zM65.9 98.9h1v1h-1zM80.1 87.4h1v1h-1zM73.8 91.2h1v1h-1zM77.2 88.4h1v1h-1zM78.4 89.1h1v1h-1zM58.4 98.3h1v1h-1zM59.0 97.9h1v1h-1zM60.6 97.1h1v1h-1zM54.8 100.9h1v1h-1zM68.3 95.6h1v1h-1zM56.1 101.5h1v1h-1zM62.9 98.0h1v1h-1zM79.1 87.5h1v1h-1zM66.8 94.9h1v1h-1zM56.8 101.9h1v1h-1zM56.0 101.3h1v1h-1zM74.9 91.6h1v1h-1zM76.4 90.4h1v1h-1zM59.6 96.4h1v1h-1zM74.9 93.0h1v1h-1zM82.4 89.7h1v1h-1zM72.5 90.1h1v1h-1zM71.2 89.9h1v1h-1zM79.0 88.1h1v1h-1zM70.1 95.9h1v1h-1zM58.7 102.3h1v1h-1zM66.2 98.4h1v1h-1zM65.4 100.1h1v1h-1zM71.5 87.7h1v1h-1zM72.9 89.4h1v1h-1zM73.6 93.5h1v1h-1zM75.2 91.0h1v1h-1zM74.8 90.1h1v1h-1zM56.8 100.4h1v1h-1zM62.7 99.7h1v1h-1zM68.5 92.4h1v1h-1zM56.5 99.5h1v1h-1zM63.3 95.5h1v1h-1zM76.5 89.2h1v1h-1zM56.4 98.6h1v1h-1zM69.1 91.8h1v1h-1zM60.8 93.5h1v1h-1zM57.1 102.5h1v1h-1zM62.8 98.1h1v1h-1zM67.1 97.2h1v1h-1zM71.9 92.1h1v1h-1zM60.0 97.2h1v1h-1zM75.4 91.9h1v1h-1zM60.4 98.1h1v1h-1zM68.1 94.1h1v1h-1zM61.4 99.1h1v1h-1zM70.3 97.8h1v1h-1zM78.6 92.5h1v1h-1zM56.6 100.4h1v1h-1zM58.1 97.1h1v1h-1zM73.1 95.1h1v1h-1zM64.2 92.3h1v1h-1zM75.1 89.7h1v1h-1zM68.5 92.5h1v1h-1zM59.1 98.9h1v1h-1zM77.9 90.7h1v1h-1zM70.2 95.9h1v1h-1zM73.3 93.8h1v1h-1zM58.9 99.9h1v1h-1zM56.2 100.6h1v1h-1zM74.7 92.0h1v1h-1zM64.5 97.7h1v1h-1zM75.7 89.6h1v1h-1zM70.2 90.1h1v1h-1zM79.0 88.1h1v1h-1zM67.9 101.3h1v1h-1zM58.9 92.9h1v1h-1zM80.1 91.9h1v1h-1zM56.2 103.4h1v1h-1zM59.3 98.7h1v1h-1zM74.5 92.4h1v1h-1zM63.5 93.5h1v1h-1zM74.6 91.6h1v1h-1zM62.0 96.1h1v1h-1zM79.3 91.2h1v1h-1zM75.4 91.2h1v1h-1zM60.8 100.8h1v1h-1zM81.2 86.3h1v1h-1zM67.4 96.6h1v1h-1zM76.9 92.4h1v1h-1zM67.5 95.2h1v1h-1zM75.4 89.9h1v1h-1zM75.1 94.3h1v1h-1zM80.5 88.2h1v1h-1zM58.0 94.8h1v1h-1zM61.7 97.9h1v1h-1zM78.2 89.7h1v1h-1zM64.0 93.4h1v1h-1zM63.0 100.1h1v1h-1zM75.3 88.8h1v1h-1zM58.1 96.8h1v1h-1zM56.8 96.7h1v1h-1zM69.9 93.2h1v1h-1zM77.7 85.8h1v1h-1zM75.1 88.2h1v1h-1zM77.7 90.0h1v1h-1zM73.7 92.7h1v1h-1zM59.6 100.8h1v1h-1zM65.7 91.2h1v1h-1zM73.8 91.4h1v1h-1zM76.0 88.5h1v1h-1zM71.9 89.9h1v1h-1zM67.8 99.9h1v1h-1zM79.4 87.3h1v1h-1zM65.7 97.6h1v1h-1zM78.8 88.1h1v1h-1zM73.8 91.8h1v1h-1zM62.5 94.2h1v1h-1zM60.7 100.6h1v1h-1zM79.8 90.7h1v1h-1zM80.2 88.8h1v1h-1zM65.1 93.6h1v1h-1zM64.5 96.9h1v1h-1zM68.0 94.5h1v1h-1zM61.3 99.8h1v1h-1zM66.6 96.0h1v1h-1zM71.6 91.7h1v1h-1zM77.1 90.1h1v1h-1zM72.0 90.4h1v1h-1zM61.5 97.8h1v1h-1zM80.4 87.4h1v1h-1zM60.1 100.3h1v1h-1zM81.6 88.6h1v1h-1zM78.7 89.9h1v1h-1zM71.0 92.2h1v1h-1zM77.4 90.3h1v1h-1zM78.1 85.7h1v1h-1zM61.4 98.4h1v1h-1zM59.1 95.8h1v1h-1zM77.4 91.3h1v1h-1zM66.4 95.9h1v1h-1zM82.5 88.5h1v1h-1zM74.5 92.1h1v1h-1zM81.9 90.5h1v1h-1zM72.8 94.3h1v1h-1zM79.7 89.7h1v1h-1zM65.6 93.9h1v1h-1zM61.7 99.2h1v1h-1zM61.7 97.9h1v1h-1zM69.2 94.8h1v1h-1zM78.0 87.3h1v1h-1zM81.4 87.8h1v1h-1zM79.8 90.4h1v1h-1zM60.7 95.7h1v1h-1zM78.1 91.8h1v1h-1zM61.7 100.7h1v1h-1zM79.0 90.8h1v1h-1zM82.4 87.8h1v1h-1zM59.1 98.5h1v1h-1zM79.7 87.7h1v1h-1zM77.7 91.5h1v1h-1zM66.8 97.4h1v1h-1zM75.9 90.4h1v1h-1zM68.9 92.0h1v1h-1zM64.4 93.4h1v1h-1zM58.9 97.0h1v1h-1z"/>
<path fill="#2b7a3a" d="M59.7 95.5h1v1h-1zM53.6 100.7h1v1h-1zM61.0 98.2h1v1h-1zM57.9 102.4h1v1h-1zM55.8 98.1h1v1h-1zM57.7 100.4h1v1h-1zM55.0 103.8h1v1h-1zM66.8 99.4h1v1h-1zM49.8 97.4h1v1h-1zM59.9 103.8h1v1h-1zM62.2 96.6h1v1h-1zM56.2 98.6h1v1h-1zM53.4 101.3h1v1h-1zM54.0 95.0h1v1h-1zM52.1 105.7h1v1h-1zM64.6 98.6h1v1h-1zM62.0 99.6h1v1h-1zM61.1 96.3h1v1h-1zM61.5 97.1h1v1h-1zM56.5 101.4h1v1h-1zM55.9 98.0h1v1h-1zM55.5 102.1h1v1h-1zM51.0 95.5h1v1h-1zM55.4 99.8h1v1h-1zM56.4 98.2h1v1h-1zM49.5 99.2h1v1h-1zM55.8 102.9h1v1h-1zM50.3 101.0h1v1h-1zM59.8 96.8h1v1h-1zM52.7 96.3h1v1h-1zM54.5 101.5h1v1h-1zM52.7 96.5h1v1h-1zM54.8 99.1h1v1h-1zM59.9 97.8h1v1h-1zM66.2 98.9h1v1h-1zM58.5 95.6h1v1h-1zM57.8 97.3h1v1h-1zM50.8 101.4h1v1h-1zM66.1 100.8h1v1h-1zM55.3 105.1h1v1h-1zM57.0 96.1h1v1h-1zM60.1 98.0h1v1h-1zM54.5 101.9h1v1h-1zM62.2 99.3h1v1h-1zM62.7 97.4h1v1h-1z"/>
<path fill="#1f6b2f" d="M52.0 97.2h1v1h-1zM62.1 98.9h1v1h-1zM55.9 101.6h1v1h-1zM48.5 98.4h1v1h-1zM58.9 100.0h1v1h-1zM59.4 98.4h1v1h-1zM60.0 103.4h1v1h-1zM54.5 98.7h1v1h-1zM51.5 102.3h1v1h-1zM61.6 97.9h1v1h-1zM59.2 103.3h1v1h-1zM58.5 99.9h1v1h-1zM58.6 96.6h1v1h-1zM58.6 97.9h1v1h-1zM59.1 102.4h1v1h-1zM55.7 96.7h1v1h-1zM62.8 94.6h1v1h-1zM58.4 100.2h1v1h-1zM56.7 97.4h1v1h-1zM60.3 102.5h1v1h-1zM54.7 97.1h1v1h-1zM60.2 101.5h1v1h-1zM54.9 95.8h1v1h-1zM59.2 94.6h1v1h-1zM62.5 104.5h1v1h-1zM63.8 100.9h1v1h-1zM58.1 97.1h1v1h-1zM58.2 99.2h1v1h-1zM57.9 101.6h1v1h-1zM60.3 99.7h1v1h-1zM59.8 100.1h1v1h-1zM62.0 100.0h1v1h-1zM55.6 99.3h1v1h-1zM64.6 101.0h1v1h-1zM56.3 92.9h1v1h-1zM58.3 101.1h1v1h-1zM58.5 98.0h1v1h-1zM61.0 99.7h1v1h-1zM57.1 101.9h1v1h-1zM55.9 100.6h1v1h-1zM62.4 99.9h1v1h-1zM57.9 98.3h1v1h-1zM53.7 97.1h1v1h-1zM53.6 100.5h1v1h-1zM51.0 101.8h1v1h-1zM52.2 102.7h1v1h-1zM55.7 99.6h1v1h-1zM57.7 96.6h1v1h-1z"/>
<path fill="#7a7a7a" d="M51.3 98.8h1v1h-1zM53.3 97.9h1v1h-1zM55.8 96.2h1v1h-1zM55.5 101.7h1v1h-1zM53.2 100.6h1v1h-1zM55.0 103.0h1v1h-1zM59.4 99.2h1v1h-1zM57.4 94.1h1v1h-1zM61.4 98.8h1v1h-1zM50.6 95.8h1v1h-1zM56.9 101.8h1v1h-1zM62.3 99.6h1v1h-1zM59.2 101.9h1v1h-1z"/>
<path fill="#3d8a4a" d="M62.4 102.8h1v1h-1zM54.5 101.1h1v1h-1zM53.7 96.7h1v1h-1zM60.6 98.1h1v1h-1zM50.8 98.8h1v1h-1zM46.8 100.8h1v1h-1zM58.9 100.1h1v1h-1zM52.9 97.9h1v1h-1zM56.1 95.9h1v1h-1zM56.0 98.5h1v1h-1zM59.4 97.4h1v1h-1zM46.7 96.3h1v1h-1zM55.1 98.0h1v1h-1zM57.5 101.5h1v1h-1zM55.3 98.6h1v1h-1zM59.9 99.7h1v1h-1zM59.1 97.0h1v1h-1zM61.9 99.3h1v1h-1zM57.0 97.4h1v1h-1zM52.5 101.9h1v1h-1zM64.4 93.8h1v1h-1zM63.2 104.8h1v1h-1zM51.3 98.3h1v1h-1zM61.4 98.5h1v1h-1zM61.8 102.3h1v1h-1zM58.6 98.9h1v1h-1zM55.6 103.3h1v1h-1zM61.2 97.2h1v1h-1zM57.6 100.1h1v1h-1zM62.5 100.4h1v1h-1zM60.4 97.0h1v1h-1zM58.6 96.5h1v1h-1zM63.0 101.1h1v1h-1zM59.4 102.4h1v1h-1z"/>
<path fill="#c0d8c6" d="M43.3 93.8h1v1h-1zM64.7 92.8h1v1h-1zM50.1 60.9h1v1h-1zM49.8 77.9h1v1h-1zM47.6 66.2h1v1h-1z"/>
<path fill="#9cc6a4" d="M60.9 93.5h1v1h-1zM55.1 87.6h1v1h-1zM64.3 91.2h1v1h-1zM55.0 69.3h1v1h-1zM53.8 90.9h1v1h-1zM46.4 61.0h1v1h-1zM46.4 67.0h1v1h-1zM64.7 94.2h1v1h-1zM46.7 67.1h1v1h-1zM63.5 92.2h1v1h-1zM52.8 84.5h1v1h-1zM45.3 78.2h1v1h-1zM64.8 79.3h1v1h-1z"/>
<path fill="#8c8c8c" d="M65.1 66.4h1v1h-1zM55.2 69.3h1v1h-1zM49.1 61.2h1v1h-1zM53.8 61.5h1v1h-1zM53.1 59.1h1v1h-1zM54.6 90.0h1v1h-1zM52.3 68.0h1v1h-1zM64.4 67.3h1v1h-1zM63.5 57.9h1v1h-1zM49.9 71.8h1v1h-1zM48.9 87.9h1v1h-1zM60.9 57.4h1v1h-1zM48.9 79.2h1v1h-1zM59.6 70.4h1v1h-1zM64.8 78.6h1v1h-1zM52.2 94.9h1v1h-1zM60.0 65.7h1v1h-1zM48.7 69.8h1v1h-1zM59.4 59.2h1v1h-1zM47.4 57.3h1v1h-1zM63.3 82.8h1v1h-1zM54.2 95.3h1v1h-1zM63.9 79.1h1v1h-1zM54.9 67.8h1v1h-1zM59.4 59.5h1v1h-1zM59.7 64.1h1v1h-1zM50.0 69.0h1v1h-1zM64.5 80.0h1v1h-1zM48.3 79.5h1v1h-1zM65.2 65.1h1v1h-1zM45.4 71.6h1v1h-1zM62.8 95.5h1v1h-1zM61.0 68.6h1v1h-1zM59.0 63.5h1v1h-1zM45.2 74.4h1v1h-1zM50.9 89.8h1v1h-1zM63.7 63.7h1v1h-1zM45.4 77.3h1v1h-1zM66.9 65.6h1v1h-1zM67.0 57.3h1v1h-1zM62.1 90.9h1v1h-1zM43.4 95.9h1v1h-1z"/>
<path fill="#6aa874" d="M44.4 89.8h1v1h-1zM48.3 82.6h1v1h-1zM48.3 66.5h1v1h-1zM52.2 58.6h1v1h-1zM49.2 66.2h1v1h-1zM50.7 74.4h1v1h-1zM54.5 92.5h1v1h-1zM58.7 60.7h1v1h-1zM55.3 73.4h1v1h-1zM55.6 78.4h1v1h-1zM49.0 66.9h1v1h-1zM64.2 95.3h1v1h-1zM53.6 67.9h1v1h-1zM44.9 74.7h1v1h-1zM62.0 90.9h1v1h-1z"/>
<path fill="#b8b8b8" d="M44.9 72.8h1v1h-1zM43.4 73.7h1v1h-1zM54.7 70.6h1v1h-1zM44.8 62.2h1v1h-1zM65.9 83.0h1v1h-1zM66.5 89.9h1v1h-1zM44.8 88.3h1v1h-1zM55.0 63.8h1v1h-1zM64.5 87.7h1v1h-1zM55.2 96.2h1v1h-1zM50.5 67.8h1v1h-1zM51.9 56.7h1v1h-1zM47.3 80.6h1v1h-1zM46.2 80.6h1v1h-1zM52.7 61.3h1v1h-1zM62.7 63.3h1v1h-1zM53.0 72.9h1v1h-1zM60.1 57.9h1v1h-1zM54.1 57.1h1v1h-1zM55.9 61.1h1v1h-1zM47.7 89.1h1v1h-1zM60.2 75.2h1v1h-1zM46.5 94.3h1v1h-1zM64.1 70.3h1v1h-1zM53.0 94.5h1v1h-1zM46.0 68.6h1v1h-1zM46.2 61.5h1v1h-1zM54.6 69.4h1v1h-1zM67.1 91.4h1v1h-1zM64.1 58.0h1v1h-1zM56.8 58.8h1v1h-1zM57.1 63.9h1v1h-1zM43.4 58.7h1v1h-1zM50.9 87.9h1v1h-1z"/>
<path fill="#e6bcbc" d="M51.9 90.3h1v1h-1zM57.7 88.6h1v1h-1zM56.0 57.8h1v1h-1zM55.3 89.3h1v1h-1zM67.2 84.2h1v1h-1zM43.9 75.8h1v1h-1zM47.2 59.2h1v1h-1zM55.0 84.5h1v1h-1zM51.4 68.7h1v1h-1zM63.4 82.7h1v1h-1zM48.8 82.4h1v1h-1zM62.4 72.4h1v1h-1zM52.9 59.3h1v1h-1zM50.1 67.6h1v1h-1zM60.9 68.1h1v1h-1zM48.7 58.0h1v1h-1zM49.5 81.1h1v1h-1zM53.4 81.1h1v1h-1zM52.1 63.7h1v1h-1zM46.1 69.5h1v1h-1zM44.7 95.1h1v1h-1z"/>
<path fill="#b8b8b8" d="M45.2 70.7h1v1h-1zM61.1 76.3h1v1h-1zM76.5 49.2h1v1h-1zM93.5 103.2h1v1h-1zM109.4 59.4h1v1h-1zM99.0 64.5h1v1h-1zM45.0 57.5h1v1h-1zM69.6 59.7h1v1h-1zM108.8 63.4h1v1h-1zM73.9 99.4h1v1h-1zM98.6 88.4h1v1h-1zM107.8 63.0h1v1h-1zM65.6 83.8h1v1h-1zM45.9 88.5h1v1h-1zM78.1 45.4h1v1h-1zM70.3 99.9h1v1h-1zM71.3 89.3h1v1h-1zM117.4 101.3h1v1h-1zM63.1 92.4h1v1h-1zM85.9 54.2h1v1h-1zM64.6 81.2h1v1h-1zM104.2 60.3h1v1h-1zM50.4 64.7h1v1h-1zM117.8 59.2h1v1h-1zM49.0 88.7h1v1h-1zM105.5 65.8h1v1h-1zM83.0 90.8h1v1h-1zM72.6 103.3h1v1h-1zM59.7 103.4h1v1h-1zM104.9 46.1h1v1h-1z"/>
<path fill="#8c8c8c" d="M60.8 76.5h1v1h-1zM101.5 82.5h1v1h-1zM102.3 66.4h1v1h-1zM104.0 46.7h1v1h-1zM66.2 50.5h1v1h-1zM61.9 47.3h1v1h-1zM56.1 94.0h1v1h-1zM82.4 89.7h1v1h-1zM89.5 91.4h1v1h-1zM62.4 68.7h1v1h-1zM47.5 55.7h1v1h-1zM57.9 100.9h1v1h-1zM71.9 71.9h1v1h-1zM114.3 81.9h1v1h-1zM57.2 89.9h1v1h-1zM75.9 98.3h1v1h-1zM111.9 87.3h1v1h-1zM48.4 65.2h1v1h-1z"/>
<path fill="#6aa874" d="M106.2 48.7h1v1h-1zM64.0 83.7h1v1h-1zM90.5 69.2h1v1h-1zM87.1 64.3h1v1h-1zM52.4 48.0h1v1h-1zM50.2 57.0h1v1h-1zM94.0 100.8h1v1h-1zM92.8 53.5h1v1h-1zM49.7 49.3h1v1h-1zM96.6 96.7h1v1h-1zM73.7 80.5h1v1h-1zM101.2 70.1h1v1h-1zM55.8 96.8h1v1h-1zM115.1 61.6h1v1h-1zM92.1 91.0h1v1h-1z"/>
<path fill="#e6bcbc" d="M106.6 60.2h1v1h-1zM101.7 66.0h1v1h-1zM94.9 104.0h1v1h-1zM64.1 53.6h1v1h-1zM47.6 77.9h1v1h-1zM107.0 94.8h1v1h-1zM52.8 63.7h1v1h-1zM86.1 55.6h1v1h-1zM64.7 58.5h1v1h-1z"/>
<path fill="#c0d8c6" d="M70.0 103.9h1v1h-1zM76.2 56.7h1v1h-1zM73.7 78.9h1v1h-1zM63.5 65.4h1v1h-1zM53.8 59.0h1v1h-1zM75.5 87.3h1v1h-1zM68.2 83.8h1v1h-1zM88.8 58.4h1v1h-1zM68.5 69.8h1v1h-1zM63.4 98.5h1v1h-1z"/>
<path fill="#9cc6a4" d="M63.8 95.1h1v1h-1zM58.9 52.7h1v1h-1zM47.1 53.2h1v1h-1zM58.8 101.5h1v1h-1zM55.9 71.4h1v1h-1zM109.3 54.9h1v1h-1zM75.4 83.6h1v1h-1zM61.0 71.5h1v1h-1z"/>
<polygon points="68.39,66.59 78.31,65.79 82.12,74.15 82.92,81.82 79.89,87.94 71.48,88.63 67.67,81.82 66.88,72.72" fill="#2f863e"/>
<path fill="#4aa656" d="M77.7 81.2h1v1h-1zM79.3 70.8h1v1h-1zM77.0 72.6h1v1h-1zM72.0 80.6h1v1h-1zM77.1 85.7h1v1h-1zM66.7 73.2h1v1h-1zM78.8 67.9h1v1h-1zM72.9 77.2h1v1h-1zM69.5 77.7h1v1h-1zM73.4 68.9h1v1h-1zM72.6 78.6h1v1h-1zM74.0 74.6h1v1h-1zM70.6 82.8h1v1h-1zM68.5 66.3h1v1h-1zM75.4 76.2h1v1h-1zM75.6 82.1h1v1h-1zM76.4 81.0h1v1h-1zM72.8 67.2h1v1h-1zM74.1 87.6h1v1h-1zM79.6 69.3h1v1h-1zM71.8 77.0h1v1h-1zM68.9 83.3h1v1h-1zM80.5 74.6h1v1h-1zM69.0 78.9h1v1h-1zM80.5 84.3h1v1h-1zM71.7 79.9h1v1h-1zM79.7 73.0h1v1h-1zM77.7 70.9h1v1h-1zM76.5 78.9h1v1h-1zM72.1 66.8h1v1h-1zM80.0 70.9h1v1h-1zM81.8 76.5h1v1h-1zM79.8 79.0h1v1h-1zM76.3 80.9h1v1h-1zM67.4 74.8h1v1h-1zM78.6 76.5h1v1h-1zM72.2 70.9h1v1h-1zM67.8 75.2h1v1h-1zM73.9 72.9h1v1h-1zM70.1 72.9h1v1h-1zM70.1 77.6h1v1h-1zM70.8 87.5h1v1h-1zM76.2 66.9h1v1h-1zM71.4 70.0h1v1h-1zM67.8 72.9h1v1h-1zM77.3 67.5h1v1h-1zM72.0 77.3h1v1h-1zM75.3 71.5h1v1h-1z"/>
<path fill="#3a9a48" d="M78.1 66.9h1v1h-1zM67.3 75.6h1v1h-1zM77.1 87.4h1v1h-1zM68.9 69.1h1v1h-1zM79.4 80.7h1v1h-1zM74.2 66.9h1v1h-1zM69.3 81.7h1v1h-1zM72.5 74.9h1v1h-1zM76.0 72.3h1v1h-1zM77.0 72.8h1v1h-1zM76.7 78.2h1v1h-1zM68.5 82.5h1v1h-1zM75.2 85.9h1v1h-1zM71.8 85.6h1v1h-1zM76.4 68.2h1v1h-1zM70.5 70.0h1v1h-1zM71.7 72.0h1v1h-1zM71.2 71.8h1v1h-1zM78.7 78.1h1v1h-1zM72.6 83.3h1v1h-1zM68.2 75.0h1v1h-1zM72.1 67.2h1v1h-1zM76.0 75.6h1v1h-1zM67.9 71.9h1v1h-1zM69.2 72.0h1v1h-1zM67.0 75.1h1v1h-1zM67.3 80.6h1v1h-1zM67.1 70.8h1v1h-1zM69.0 72.6h1v1h-1zM69.9 79.4h1v1h-1zM78.1 81.3h1v1h-1zM72.4 66.7h1v1h-1zM79.9 72.1h1v1h-1zM73.4 83.4h1v1h-1zM78.5 67.5h1v1h-1zM70.1 84.8h1v1h-1zM75.8 73.0h1v1h-1zM68.3 70.6h1v1h-1zM69.8 84.6h1v1h-1zM72.9 73.5h1v1h-1zM71.0 85.2h1v1h-1zM76.5 77.0h1v1h-1zM78.4 85.5h1v1h-1zM74.5 83.6h1v1h-1zM79.9 73.7h1v1h-1zM75.6 81.4h1v1h-1zM68.8 68.4h1v1h-1zM68.7 83.7h1v1h-1zM68.2 68.8h1v1h-1zM78.6 68.6h1v1h-1zM73.6 66.3h1v1h-1zM79.1 79.3h1v1h-1zM73.1 83.2h1v1h-1z"/>
<path fill="#1c6a2a" d="M77.0 70.5h1v1h-1zM69.1 68.1h1v1h-1zM80.8 82.5h1v1h-1zM78.9 77.7h1v1h-1zM75.6 72.3h1v1h-1zM76.7 82.9h1v1h-1zM78.7 72.0h1v1h-1zM73.1 66.7h1v1h-1zM68.0 72.3h1v1h-1zM77.8 79.5h1v1h-1zM75.1 82.1h1v1h-1zM73.3 84.4h1v1h-1zM75.4 85.3h1v1h-1zM76.7 84.9h1v1h-1zM70.9 81.4h1v1h-1zM73.2 76.4h1v1h-1zM77.5 87.4h1v1h-1zM75.9 68.4h1v1h-1zM80.0 77.3h1v1h-1zM74.2 67.1h1v1h-1zM80.9 77.0h1v1h-1zM77.3 73.9h1v1h-1zM75.0 79.5h1v1h-1zM76.9 85.0h1v1h-1zM71.1 88.0h1v1h-1zM69.2 66.3h1v1h-1zM73.0 65.9h1v1h-1zM69.8 80.7h1v1h-1zM73.9 83.2h1v1h-1zM79.1 79.8h1v1h-1zM78.4 77.2h1v1h-1zM78.2 82.2h1v1h-1zM71.7 66.8h1v1h-1zM70.5 73.0h1v1h-1zM78.4 81.2h1v1h-1zM70.8 85.5h1v1h-1zM73.8 80.8h1v1h-1zM69.1 78.6h1v1h-1zM69.6 70.4h1v1h-1zM69.6 82.4h1v1h-1zM71.5 66.9h1v1h-1zM67.8 73.5h1v1h-1zM77.8 79.0h1v1h-1zM77.0 79.4h1v1h-1zM78.1 85.9h1v1h-1zM76.5 69.2h1v1h-1zM79.3 80.1h1v1h-1zM79.4 83.8h1v1h-1zM77.8 72.7h1v1h-1zM77.1 71.9h1v1h-1zM81.8 80.7h1v1h-1zM76.6 81.1h1v1h-1zM74.5 86.9h1v1h-1zM74.8 84.3h1v1h-1zM72.3 87.2h1v1h-1zM77.1 71.2h1v1h-1zM75.7 66.8h1v1h-1zM68.5 74.5h1v1h-1zM78.7 80.6h1v1h-1zM70.3 77.1h1v1h-1zM67.4 73.0h1v1h-1zM73.9 81.3h1v1h-1zM72.5 84.7h1v1h-1zM75.3 85.9h1v1h-1z"/>
<path fill="#17602a" d="M68.5 66.9h1v1h-1zM71.0 72.9h1v1h-1zM81.6 82.6h1v1h-1zM79.9 85.8h1v1h-1zM76.2 74.4h1v1h-1zM78.9 79.8h1v1h-1zM70.0 76.5h1v1h-1zM75.1 86.1h1v1h-1zM75.3 67.5h1v1h-1zM68.5 74.6h1v1h-1zM74.9 80.2h1v1h-1zM76.2 84.9h1v1h-1zM68.5 80.4h1v1h-1zM79.6 86.4h1v1h-1zM81.4 79.9h1v1h-1zM70.5 66.3h1v1h-1zM71.7 69.1h1v1h-1zM79.3 73.9h1v1h-1zM75.9 84.1h1v1h-1zM71.9 66.2h1v1h-1zM71.0 81.0h1v1h-1zM81.3 73.4h1v1h-1zM79.1 75.0h1v1h-1zM67.9 76.1h1v1h-1zM69.1 67.1h1v1h-1zM66.7 74.4h1v1h-1zM74.8 70.7h1v1h-1zM69.7 74.9h1v1h-1zM80.8 79.5h1v1h-1zM80.1 84.0h1v1h-1zM76.6 66.9h1v1h-1zM74.9 85.8h1v1h-1zM77.9 71.6h1v1h-1zM79.9 70.7h1v1h-1zM67.6 77.2h1v1h-1zM81.4 82.0h1v1h-1zM70.7 69.3h1v1h-1zM78.8 82.6h1v1h-1zM80.4 73.1h1v1h-1zM73.5 74.5h1v1h-1zM77.2 87.3h1v1h-1zM79.9 73.2h1v1h-1zM79.8 76.9h1v1h-1zM70.4 72.2h1v1h-1zM73.1 76.6h1v1h-1zM74.8 82.1h1v1h-1zM75.7 75.3h1v1h-1zM67.4 77.7h1v1h-1zM69.8 77.7h1v1h-1zM79.6 70.8h1v1h-1zM68.6 68.5h1v1h-1zM74.8 83.8h1v1h-1zM68.7 79.7h1v1h-1zM81.5 82.3h1v1h-1zM69.4 81.2h1v1h-1z"/>
<polygon points="67.69,65.39 78.71,64.50 82.95,73.78 83.83,82.31 80.47,89.11 71.12,89.87 66.89,82.31 66.01,72.19" fill="none" stroke="#cc2a2a" stroke-width="1.5" stroke-linejoin="round"/>
<rect x="41.40" y="43.70" width="79.90" height="63.60" fill="none" stroke="#111" stroke-width="1.3"/>
<line x1="38.20" y1="107.30" x2="41.40" y2="107.30" stroke="#111" stroke-width="1.2" />
<text x="34.40" y="109.55" font-size="6.4" text-anchor="end" fill="#333" stroke="#333" textLength="3.50" lengthAdjust="spacingAndGlyphs" style="stroke-width:0.25px" >0</text>
<line x1="41.40" y1="107.30" x2="41.40" y2="110.50" stroke="#111" stroke-width="1.2" />
<text x="41.80" y="118.80" font-size="6.4" text-anchor="middle" fill="#333" stroke="#333" textLength="3.50" lengthAdjust="spacingAndGlyphs" style="stroke-width:0.25px" >0</text>
<line x1="38.20" y1="94.58" x2="41.40" y2="94.58" stroke="#111" stroke-width="1.2" />
<text x="34.40" y="96.83" font-size="6.4" text-anchor="end" fill="#333" stroke="#333" textLength="10.50" lengthAdjust="spacingAndGlyphs" style="stroke-width:0.25px" >200</text>
<line x1="57.38" y1="107.30" x2="57.38" y2="110.50" stroke="#111" stroke-width="1.2" />
<text x="57.78" y="118.80" font-size="6.4" text-anchor="middle" fill="#333" stroke="#333" textLength="10.50" lengthAdjust="spacingAndGlyphs" style="stroke-width:0.25px" >200</text>
<line x1="38.20" y1="81.86" x2="41.40" y2="81.86" stroke="#111" stroke-width="1.2" />
<text x="34.40" y="84.11" font-size="6.4" text-anchor="end" fill="#333" stroke="#333" textLength="10.50" lengthAdjust="spacingAndGlyphs" style="stroke-width:0.25px" >400</text>
<line x1="73.36" y1="107.30" x2="73.36" y2="110.50" stroke="#111" stroke-width="1.2" />
<text x="73.76" y="118.80" font-size="6.4" text-anchor="middle" fill="#333" stroke="#333" textLength="10.50" lengthAdjust="spacingAndGlyphs" style="stroke-width:0.25px" >400</text>
<line x1="38.20" y1="69.14" x2="41.40" y2="69.14" stroke="#111" stroke-width="1.2" />
<text x="34.40" y="71.39" font-size="6.4" text-anchor="end" fill="#333" stroke="#333" textLength="10.50" lengthAdjust="spacingAndGlyphs" style="stroke-width:0.25px" >600</text>
<line x1="89.34" y1="107.30" x2="89.34" y2="110.50" stroke="#111" stroke-width="1.2" />
<text x="89.74" y="118.80" font-size="6.4" text-anchor="middle" fill="#333" stroke="#333" textLength="10.50" lengthAdjust="spacingAndGlyphs" style="stroke-width:0.25px" >600</text>
<line x1="38.20" y1="56.42" x2="41.40" y2="56.42" stroke="#111" stroke-width="1.2" />
<text x="34.40" y="58.67" font-size="6.4" text-anchor="end" fill="#333" stroke="#333" textLength="10.50" lengthAdjust="spacingAndGlyphs" style="stroke-width:0.25px" >800</text>
<line x1="105.32" y1="107.30" x2="105.32" y2="110.50" stroke="#111" stroke-width="1.2" />
<text x="105.72" y="118.80" font-size="6.4" text-anchor="middle" fill="#333" stroke="#333" textLength="10.50" lengthAdjust="spacingAndGlyphs" style="stroke-width:0.25px" >800</text>
<line x1="38.20" y1="43.70" x2="41.40" y2="43.70" stroke="#111" stroke-width="1.2" />
<text x="34.40" y="45.95" font-size="6.4" text-anchor="end" fill="#333" stroke="#333" textLength="14.00" lengthAdjust="spacingAndGlyphs" style="stroke-width:0.25px" >1000</text>
<line x1="121.30" y1="107.30" x2="121.30" y2="110.50" stroke="#111" stroke-width="1.2" />
<text x="121.70" y="118.80" font-size="6.4" text-anchor="middle" fill="#333" stroke="#333" textLength="14.00" lengthAdjust="spacingAndGlyphs" style="stroke-width:0.25px" >1000</text>
<text x="81.85" y="131.10" font-size="8.8" text-anchor="middle" fill="#333" stroke="none" font-weight="bold" textLength="11.00" lengthAdjust="spacingAndGlyphs" >FSC</text>
<text x="14.00" y="75.50" font-size="8.8" text-anchor="middle" fill="#333" stroke="none" font-weight="bold" textLength="11.20" lengthAdjust="spacingAndGlyphs" transform="rotate(-90 14.00 75.50)" >SSC</text>
<text x="219.45" y="29.70" font-size="7.3" text-anchor="middle" fill="#222" stroke="#222" textLength="54.50" lengthAdjust="spacingAndGlyphs" >E-selectin-bound</text>
<text x="219.80" y="38.50" font-size="7.3" text-anchor="middle" fill="#222" stroke="#222" textLength="89.80" lengthAdjust="spacingAndGlyphs" >bone marrow leukocytes (2)</text>
<path fill="#3d8a4a" d="M225.1 66.7h1v1h-1zM201.6 92.1h1v1h-1zM213.3 87.3h1v1h-1zM218.0 84.1h1v1h-1zM209.5 75.4h1v1h-1zM208.6 71.7h1v1h-1zM210.7 58.7h1v1h-1zM215.8 103.2h1v1h-1zM209.3 56.2h1v1h-1zM201.4 50.1h1v1h-1zM211.7 55.8h1v1h-1zM217.1 86.3h1v1h-1zM209.5 71.9h1v1h-1zM215.2 69.7h1v1h-1zM212.8 63.8h1v1h-1zM210.6 76.8h1v1h-1zM214.4 69.1h1v1h-1zM212.2 77.6h1v1h-1zM213.0 66.9h1v1h-1zM207.0 51.4h1v1h-1zM219.7 59.4h1v1h-1zM215.6 70.4h1v1h-1zM215.7 57.1h1v1h-1zM212.8 87.4h1v1h-1zM200.1 76.4h1v1h-1zM213.2 74.1h1v1h-1zM204.7 73.0h1v1h-1zM196.0 66.4h1v1h-1zM213.4 72.8h1v1h-1zM219.1 76.9h1v1h-1zM217.9 61.9h1v1h-1zM224.9 76.4h1v1h-1zM224.9 78.8h1v1h-1zM216.3 59.7h1v1h-1zM209.5 60.6h1v1h-1zM207.9 63.2h1v1h-1zM214.8 62.1h1v1h-1zM221.0 86.6h1v1h-1zM219.7 66.6h1v1h-1zM209.6 44.8h1v1h-1zM214.6 64.5h1v1h-1zM216.1 102.2h1v1h-1zM212.1 75.0h1v1h-1zM217.6 63.2h1v1h-1zM208.0 92.9h1v1h-1zM229.5 66.6h1v1h-1zM202.9 66.7h1v1h-1zM203.1 64.4h1v1h-1zM229.1 58.3h1v1h-1zM213.4 52.4h1v1h-1zM210.6 98.6h1v1h-1zM209.4 94.0h1v1h-1zM203.6 86.5h1v1h-1zM214.5 87.9h1v1h-1zM215.9 85.9h1v1h-1zM211.8 62.3h1v1h-1zM214.8 66.8h1v1h-1zM202.5 88.1h1v1h-1zM226.8 52.9h1v1h-1zM209.9 83.4h1v1h-1zM211.4 58.9h1v1h-1zM203.7 76.1h1v1h-1zM211.7 86.0h1v1h-1zM199.9 76.4h1v1h-1zM208.3 89.9h1v1h-1zM199.7 96.0h1v1h-1zM214.4 71.8h1v1h-1zM227.7 55.5h1v1h-1zM221.1 85.7h1v1h-1zM198.2 55.4h1v1h-1zM206.4 52.7h1v1h-1zM210.3 101.0h1v1h-1zM208.1 67.7h1v1h-1zM220.7 87.8h1v1h-1zM220.2 58.8h1v1h-1zM200.1 63.5h1v1h-1zM199.6 54.9h1v1h-1zM208.1 51.3h1v1h-1zM230.8 65.0h1v1h-1zM204.1 48.0h1v1h-1zM219.0 75.4h1v1h-1zM219.8 67.4h1v1h-1zM219.2 64.0h1v1h-1zM213.2 68.5h1v1h-1zM215.8 92.9h1v1h-1zM214.6 70.2h1v1h-1zM216.0 78.4h1v1h-1zM221.7 76.8h1v1h-1zM201.4 86.4h1v1h-1zM221.4 67.6h1v1h-1zM211.9 82.6h1v1h-1zM213.8 66.4h1v1h-1zM219.6 81.3h1v1h-1zM215.8 94.2h1v1h-1zM204.4 82.2h1v1h-1zM196.6 63.7h1v1h-1zM208.7 68.8h1v1h-1zM215.1 78.2h1v1h-1zM205.5 70.2h1v1h-1zM210.4 85.0h1v1h-1zM214.2 68.7h1v1h-1zM216.4 75.6h1v1h-1zM202.5 69.5h1v1h-1zM204.1 78.7h1v1h-1zM227.2 95.0h1v1h-1zM211.9 70.0h1v1h-1zM224.1 54.8h1v1h-1zM221.5 76.8h1v1h-1zM220.5 73.1h1v1h-1zM212.6 68.1h1v1h-1zM219.9 94.4h1v1h-1zM207.8 55.2h1v1h-1z"/>
<path fill="#a8a8a8" d="M214.1 79.6h1v1h-1zM214.9 82.9h1v1h-1zM215.9 77.1h1v1h-1zM215.5 74.9h1v1h-1zM223.1 72.3h1v1h-1zM222.1 90.1h1v1h-1zM228.3 52.7h1v1h-1zM220.9 68.8h1v1h-1zM205.3 68.8h1v1h-1zM203.4 63.0h1v1h-1zM210.1 77.0h1v1h-1zM218.3 93.6h1v1h-1zM219.2 60.1h1v1h-1zM205.1 49.8h1v1h-1zM201.7 63.2h1v1h-1zM216.5 75.8h1v1h-1zM209.0 68.5h1v1h-1zM218.5 82.9h1v1h-1zM213.3 82.2h1v1h-1zM229.7 79.7h1v1h-1zM215.0 75.5h1v1h-1zM208.3 73.9h1v1h-1zM199.5 77.4h1v1h-1zM209.6 74.7h1v1h-1zM208.6 63.7h1v1h-1zM209.6 56.2h1v1h-1zM214.0 61.5h1v1h-1zM204.9 58.2h1v1h-1zM217.0 78.3h1v1h-1zM201.2 96.6h1v1h-1zM218.0 75.1h1v1h-1zM225.6 61.0h1v1h-1zM218.5 70.8h1v1h-1zM217.6 78.5h1v1h-1zM226.0 82.4h1v1h-1zM217.3 62.0h1v1h-1zM210.4 62.7h1v1h-1zM215.7 63.5h1v1h-1zM224.1 85.3h1v1h-1zM219.2 100.5h1v1h-1zM216.8 74.8h1v1h-1zM227.4 74.7h1v1h-1zM220.0 79.5h1v1h-1zM212.4 50.6h1v1h-1zM196.9 64.1h1v1h-1zM224.2 66.7h1v1h-1zM221.2 78.8h1v1h-1zM213.2 68.1h1v1h-1zM204.8 50.3h1v1h-1zM214.4 92.2h1v1h-1zM221.0 60.5h1v1h-1zM217.8 87.9h1v1h-1zM228.0 65.7h1v1h-1zM203.7 92.6h1v1h-1zM207.8 72.0h1v1h-1zM208.2 70.6h1v1h-1zM212.9 88.1h1v1h-1zM222.6 53.5h1v1h-1zM208.2 81.7h1v1h-1zM205.0 77.5h1v1h-1zM213.8 68.9h1v1h-1zM215.7 56.5h1v1h-1zM210.8 52.0h1v1h-1zM217.4 69.0h1v1h-1zM218.7 63.3h1v1h-1zM219.9 60.4h1v1h-1zM215.7 80.9h1v1h-1zM210.7 88.7h1v1h-1zM188.8 51.6h1v1h-1zM208.1 75.1h1v1h-1zM219.2 89.6h1v1h-1zM211.4 72.2h1v1h-1zM216.8 80.1h1v1h-1zM210.0 87.0h1v1h-1zM217.1 69.0h1v1h-1z"/>
<path fill="#6aa874" d="M211.6 55.2h1v1h-1zM203.1 56.6h1v1h-1zM217.9 54.2h1v1h-1zM216.4 70.4h1v1h-1zM204.1 79.3h1v1h-1zM216.2 70.4h1v1h-1zM220.7 78.6h1v1h-1zM207.6 71.4h1v1h-1zM205.0 82.1h1v1h-1zM214.6 84.6h1v1h-1zM195.9 84.2h1v1h-1zM211.8 75.2h1v1h-1zM204.5 77.9h1v1h-1zM204.3 68.0h1v1h-1zM223.7 68.4h1v1h-1zM206.8 73.5h1v1h-1zM212.6 75.4h1v1h-1zM227.8 88.3h1v1h-1zM208.5 68.3h1v1h-1zM208.7 63.8h1v1h-1zM210.8 78.9h1v1h-1zM203.4 71.2h1v1h-1zM209.9 61.6h1v1h-1zM217.9 64.1h1v1h-1zM218.7 95.2h1v1h-1zM214.1 83.9h1v1h-1zM204.1 63.0h1v1h-1zM200.7 98.4h1v1h-1zM214.2 72.7h1v1h-1zM213.3 59.0h1v1h-1zM224.4 62.4h1v1h-1zM197.3 78.0h1v1h-1zM205.2 59.6h1v1h-1zM212.1 59.9h1v1h-1zM213.4 72.3h1v1h-1zM206.5 64.8h1v1h-1zM216.8 73.8h1v1h-1zM213.5 58.1h1v1h-1zM214.9 68.8h1v1h-1zM223.8 98.5h1v1h-1zM222.2 81.8h1v1h-1zM207.0 73.9h1v1h-1zM209.2 76.1h1v1h-1zM222.0 52.5h1v1h-1zM211.4 53.2h1v1h-1zM211.5 53.3h1v1h-1zM200.7 56.2h1v1h-1zM196.2 71.0h1v1h-1zM198.2 63.1h1v1h-1zM199.1 52.5h1v1h-1zM209.0 79.8h1v1h-1zM216.1 68.6h1v1h-1zM209.1 68.9h1v1h-1zM208.4 65.5h1v1h-1zM207.5 77.3h1v1h-1zM202.1 69.8h1v1h-1zM209.7 71.5h1v1h-1zM207.1 56.0h1v1h-1zM209.9 64.3h1v1h-1zM203.5 79.9h1v1h-1zM215.1 78.4h1v1h-1zM215.3 61.4h1v1h-1zM205.1 80.6h1v1h-1zM210.5 73.1h1v1h-1zM225.1 64.3h1v1h-1zM211.8 73.5h1v1h-1zM212.7 79.2h1v1h-1zM210.7 81.6h1v1h-1zM211.6 81.8h1v1h-1zM208.9 62.1h1v1h-1zM205.7 90.5h1v1h-1zM206.3 64.7h1v1h-1zM210.7 54.9h1v1h-1zM211.0 72.9h1v1h-1zM190.0 101.6h1v1h-1zM226.9 82.1h1v1h-1zM216.8 91.5h1v1h-1zM217.8 64.8h1v1h-1zM222.1 59.6h1v1h-1zM213.2 62.1h1v1h-1zM198.9 85.9h1v1h-1zM209.7 47.4h1v1h-1zM214.0 78.0h1v1h-1zM205.8 84.5h1v1h-1zM214.0 64.2h1v1h-1zM213.5 66.8h1v1h-1zM213.4 71.7h1v1h-1zM212.5 73.2h1v1h-1zM222.8 58.7h1v1h-1zM208.1 81.3h1v1h-1zM201.1 72.3h1v1h-1zM209.5 59.7h1v1h-1zM211.1 89.9h1v1h-1zM208.4 61.9h1v1h-1zM219.3 75.8h1v1h-1zM217.8 66.6h1v1h-1zM207.2 62.0h1v1h-1zM209.5 71.2h1v1h-1zM204.9 60.9h1v1h-1zM204.9 78.2h1v1h-1zM205.9 61.9h1v1h-1zM203.4 83.4h1v1h-1zM214.1 74.6h1v1h-1zM215.4 95.3h1v1h-1zM228.4 66.0h1v1h-1z"/>
<path fill="#9cc6a4" d="M201.5 69.3h1v1h-1zM219.6 90.3h1v1h-1zM209.1 80.7h1v1h-1zM210.0 74.9h1v1h-1zM212.3 86.3h1v1h-1zM218.2 76.1h1v1h-1zM197.4 77.9h1v1h-1zM214.2 78.4h1v1h-1zM207.8 82.2h1v1h-1zM210.0 96.6h1v1h-1zM212.5 67.6h1v1h-1zM197.3 60.1h1v1h-1zM199.8 85.7h1v1h-1zM209.9 88.9h1v1h-1zM217.8 76.8h1v1h-1zM209.7 56.8h1v1h-1zM220.7 59.9h1v1h-1zM212.6 75.5h1v1h-1zM217.0 83.8h1v1h-1zM209.9 83.8h1v1h-1zM223.5 67.8h1v1h-1zM215.0 66.7h1v1h-1zM222.7 96.0h1v1h-1zM213.1 90.5h1v1h-1zM205.4 90.2h1v1h-1zM207.5 76.4h1v1h-1zM212.4 86.0h1v1h-1zM220.9 69.9h1v1h-1zM212.9 58.9h1v1h-1zM206.1 74.7h1v1h-1zM224.5 65.3h1v1h-1zM217.0 52.5h1v1h-1zM219.3 81.4h1v1h-1zM206.8 67.2h1v1h-1zM213.2 83.2h1v1h-1zM216.9 76.8h1v1h-1zM218.6 71.7h1v1h-1zM214.7 72.6h1v1h-1zM215.3 68.0h1v1h-1zM215.8 65.3h1v1h-1zM219.7 75.2h1v1h-1zM203.4 51.6h1v1h-1zM213.1 68.8h1v1h-1zM214.8 81.4h1v1h-1zM223.0 75.7h1v1h-1zM225.7 77.0h1v1h-1zM207.0 83.4h1v1h-1zM212.2 53.0h1v1h-1zM207.0 65.1h1v1h-1zM225.6 63.3h1v1h-1zM202.8 73.8h1v1h-1zM220.6 82.4h1v1h-1zM209.6 79.5h1v1h-1zM219.1 44.6h1v1h-1zM209.2 60.9h1v1h-1zM216.5 76.5h1v1h-1zM214.8 78.5h1v1h-1zM214.6 68.9h1v1h-1zM197.5 60.2h1v1h-1zM209.5 82.4h1v1h-1zM210.4 61.8h1v1h-1zM209.3 73.9h1v1h-1zM211.5 85.5h1v1h-1zM224.5 81.7h1v1h-1zM214.9 77.0h1v1h-1zM202.1 64.1h1v1h-1zM215.8 55.5h1v1h-1zM212.1 80.2h1v1h-1zM212.5 58.4h1v1h-1zM201.7 78.3h1v1h-1zM208.3 63.8h1v1h-1zM218.0 83.7h1v1h-1zM212.4 86.3h1v1h-1zM200.1 62.8h1v1h-1zM203.3 84.5h1v1h-1zM220.7 78.7h1v1h-1zM212.9 76.9h1v1h-1zM213.2 59.3h1v1h-1zM225.7 64.9h1v1h-1zM215.5 91.1h1v1h-1zM210.6 87.0h1v1h-1zM205.0 73.3h1v1h-1zM223.0 80.5h1v1h-1zM208.2 73.1h1v1h-1zM210.2 62.7h1v1h-1zM221.9 64.1h1v1h-1zM225.5 86.6h1v1h-1zM213.7 86.3h1v1h-1zM221.3 82.1h1v1h-1zM213.6 83.0h1v1h-1zM202.0 59.3h1v1h-1zM210.5 82.9h1v1h-1zM220.3 59.8h1v1h-1zM205.6 75.4h1v1h-1zM215.3 66.3h1v1h-1zM216.2 76.0h1v1h-1z"/>
<path fill="#7a7a7a" d="M203.9 88.3h1v1h-1zM212.2 87.4h1v1h-1zM214.7 52.0h1v1h-1zM202.7 61.8h1v1h-1zM214.8 84.9h1v1h-1zM209.9 69.4h1v1h-1zM211.4 92.9h1v1h-1zM215.3 62.0h1v1h-1zM206.4 77.9h1v1h-1zM216.8 89.6h1v1h-1zM220.8 75.5h1v1h-1zM219.8 69.9h1v1h-1zM215.6 88.2h1v1h-1zM212.4 48.8h1v1h-1zM212.1 63.4h1v1h-1zM198.0 78.4h1v1h-1zM203.8 86.2h1v1h-1zM206.6 76.0h1v1h-1zM212.9 72.2h1v1h-1zM208.9 63.6h1v1h-1zM213.5 79.5h1v1h-1zM206.7 91.3h1v1h-1zM218.1 70.5h1v1h-1zM213.6 61.9h1v1h-1zM209.4 73.6h1v1h-1zM201.5 70.4h1v1h-1zM207.4 93.3h1v1h-1zM208.7 62.3h1v1h-1zM196.3 75.3h1v1h-1zM198.8 79.2h1v1h-1zM211.5 64.7h1v1h-1zM227.9 72.9h1v1h-1zM211.1 75.8h1v1h-1zM205.0 76.9h1v1h-1zM219.2 57.7h1v1h-1zM209.6 53.4h1v1h-1zM212.6 79.2h1v1h-1zM224.0 74.6h1v1h-1zM210.2 49.6h1v1h-1zM205.9 67.3h1v1h-1zM220.5 59.5h1v1h-1zM213.4 66.1h1v1h-1zM207.3 78.6h1v1h-1zM220.6 74.0h1v1h-1zM209.0 50.4h1v1h-1zM208.6 79.6h1v1h-1zM223.4 90.6h1v1h-1zM210.3 78.7h1v1h-1zM216.2 61.0h1v1h-1zM210.9 74.3h1v1h-1zM200.4 50.1h1v1h-1zM199.2 69.9h1v1h-1zM212.5 69.9h1v1h-1zM212.9 85.2h1v1h-1zM215.7 61.4h1v1h-1zM211.3 68.6h1v1h-1zM210.1 67.6h1v1h-1zM216.0 64.2h1v1h-1zM212.8 43.9h1v1h-1zM220.2 83.1h1v1h-1zM221.3 71.7h1v1h-1zM212.0 82.5h1v1h-1zM214.8 81.4h1v1h-1zM212.9 59.2h1v1h-1zM208.9 76.6h1v1h-1zM213.1 73.3h1v1h-1zM212.7 55.5h1v1h-1zM220.4 73.4h1v1h-1zM218.6 65.2h1v1h-1zM214.3 66.2h1v1h-1zM209.7 56.9h1v1h-1zM212.0 75.7h1v1h-1zM201.8 91.7h1v1h-1zM214.2 74.1h1v1h-1zM207.7 81.2h1v1h-1zM209.4 68.2h1v1h-1zM217.3 58.3h1v1h-1zM219.7 87.3h1v1h-1zM201.0 67.1h1v1h-1zM214.9 56.9h1v1h-1zM213.9 80.0h1v1h-1zM211.9 75.3h1v1h-1zM212.8 70.8h1v1h-1zM217.6 71.6h1v1h-1zM221.5 86.2h1v1h-1zM214.1 78.5h1v1h-1z"/>
<path fill="#9cc6a4" d="M221.5 93.2h1v1h-1zM214.4 95.3h1v1h-1zM216.6 92.1h1v1h-1zM217.0 90.5h1v1h-1zM218.3 88.2h1v1h-1zM212.0 93.2h1v1h-1zM219.1 88.0h1v1h-1zM225.7 94.7h1v1h-1zM227.0 89.1h1v1h-1zM216.9 87.8h1v1h-1zM208.1 89.7h1v1h-1zM222.7 84.7h1v1h-1zM216.9 87.7h1v1h-1zM215.7 82.0h1v1h-1zM223.3 86.8h1v1h-1zM222.5 88.7h1v1h-1zM211.7 84.1h1v1h-1z"/>
<path fill="#6aa874" d="M229.8 86.3h1v1h-1zM216.1 96.1h1v1h-1zM213.8 90.4h1v1h-1zM212.8 91.9h1v1h-1zM220.1 80.9h1v1h-1zM217.7 92.3h1v1h-1zM222.4 87.2h1v1h-1zM224.4 91.1h1v1h-1zM220.9 94.8h1v1h-1zM216.1 97.1h1v1h-1zM224.2 86.8h1v1h-1zM218.3 93.4h1v1h-1zM212.5 77.8h1v1h-1zM208.2 85.3h1v1h-1zM219.0 81.6h1v1h-1zM215.2 87.5h1v1h-1zM215.5 90.1h1v1h-1zM204.8 85.9h1v1h-1zM220.7 80.6h1v1h-1zM216.8 90.9h1v1h-1zM217.2 82.8h1v1h-1zM218.5 80.3h1v1h-1zM211.6 87.0h1v1h-1zM214.3 90.0h1v1h-1zM210.8 88.9h1v1h-1zM219.6 91.8h1v1h-1zM220.8 89.1h1v1h-1zM219.2 85.4h1v1h-1zM218.0 95.9h1v1h-1zM215.5 85.7h1v1h-1zM218.5 86.4h1v1h-1zM211.0 87.0h1v1h-1zM205.1 83.1h1v1h-1zM214.1 83.6h1v1h-1z"/>
<path fill="#a8a8a8" d="M224.7 95.9h1v1h-1zM214.4 93.5h1v1h-1zM219.7 92.5h1v1h-1zM213.2 81.3h1v1h-1zM209.5 79.1h1v1h-1zM213.8 83.4h1v1h-1zM210.7 94.6h1v1h-1zM214.4 91.1h1v1h-1zM217.3 93.0h1v1h-1zM214.8 95.7h1v1h-1zM218.9 98.1h1v1h-1zM227.9 89.8h1v1h-1zM227.2 85.2h1v1h-1zM211.5 98.0h1v1h-1zM212.0 93.6h1v1h-1zM215.3 82.4h1v1h-1zM219.2 85.9h1v1h-1zM212.2 87.1h1v1h-1zM212.0 80.7h1v1h-1zM212.9 85.1h1v1h-1zM217.0 92.1h1v1h-1zM208.1 79.5h1v1h-1zM215.9 90.4h1v1h-1z"/>
<path fill="#3d8a4a" d="M211.3 94.2h1v1h-1zM214.8 85.9h1v1h-1zM216.7 89.9h1v1h-1zM224.0 82.2h1v1h-1zM216.9 88.1h1v1h-1zM217.3 92.6h1v1h-1zM214.7 95.7h1v1h-1zM214.9 88.4h1v1h-1zM217.7 92.3h1v1h-1zM215.6 84.0h1v1h-1zM221.3 82.1h1v1h-1zM217.7 92.3h1v1h-1zM216.5 93.9h1v1h-1zM220.1 80.2h1v1h-1zM212.8 87.8h1v1h-1zM219.9 94.3h1v1h-1zM223.9 96.2h1v1h-1zM223.9 89.1h1v1h-1zM222.0 87.8h1v1h-1zM214.7 84.3h1v1h-1zM221.1 90.1h1v1h-1zM212.3 82.2h1v1h-1zM221.3 95.3h1v1h-1zM221.5 85.9h1v1h-1zM220.9 91.6h1v1h-1zM211.4 94.3h1v1h-1zM218.0 86.2h1v1h-1zM210.3 85.8h1v1h-1zM217.0 85.0h1v1h-1z"/>
<path fill="#7a7a7a" d="M214.9 87.5h1v1h-1zM218.5 89.2h1v1h-1zM222.5 93.3h1v1h-1zM222.0 92.8h1v1h-1zM209.6 92.4h1v1h-1zM215.7 90.1h1v1h-1zM209.7 86.5h1v1h-1zM209.1 88.7h1v1h-1zM212.6 87.8h1v1h-1zM222.7 87.4h1v1h-1zM213.5 81.0h1v1h-1zM215.3 84.5h1v1h-1zM214.0 82.8h1v1h-1zM221.9 82.5h1v1h-1zM216.9 89.3h1v1h-1zM213.6 94.9h1v1h-1zM219.7 93.5h1v1h-1z"/>
<path fill="#b8b8b8" d="M239.7 64.0h1v1h-1zM247.5 81.8h1v1h-1zM245.9 62.7h1v1h-1zM247.1 88.8h1v1h-1zM254.6 75.4h1v1h-1zM230.7 62.8h1v1h-1zM231.4 75.8h1v1h-1zM234.4 87.1h1v1h-1zM233.6 72.4h1v1h-1zM248.7 72.7h1v1h-1zM248.6 72.8h1v1h-1zM225.2 59.6h1v1h-1zM231.0 58.2h1v1h-1zM245.5 47.7h1v1h-1zM224.5 53.5h1v1h-1zM251.9 66.1h1v1h-1zM234.1 48.4h1v1h-1zM239.2 72.5h1v1h-1zM238.6 89.0h1v1h-1zM233.5 55.6h1v1h-1zM228.7 72.4h1v1h-1zM254.4 48.0h1v1h-1zM248.8 86.0h1v1h-1zM242.5 89.7h1v1h-1zM228.6 50.1h1v1h-1z"/>
<path fill="#8c8c8c" d="M246.4 71.3h1v1h-1zM242.4 67.6h1v1h-1zM238.4 70.6h1v1h-1zM253.6 57.8h1v1h-1zM248.5 55.7h1v1h-1zM231.6 52.7h1v1h-1zM256.4 58.8h1v1h-1zM244.2 64.7h1v1h-1zM249.7 75.0h1v1h-1zM233.6 51.5h1v1h-1zM223.6 89.8h1v1h-1zM243.4 88.4h1v1h-1zM256.9 59.1h1v1h-1zM223.9 69.1h1v1h-1zM239.6 86.8h1v1h-1zM246.2 77.5h1v1h-1zM242.8 78.2h1v1h-1zM227.9 76.8h1v1h-1zM235.5 77.7h1v1h-1zM239.6 84.2h1v1h-1zM240.0 83.2h1v1h-1zM247.1 74.2h1v1h-1zM227.9 63.4h1v1h-1zM219.8 76.3h1v1h-1zM239.7 70.3h1v1h-1zM224.2 71.5h1v1h-1z"/>
<path fill="#9cc6a4" d="M222.9 47.1h1v1h-1zM225.1 76.6h1v1h-1zM257.2 64.8h1v1h-1zM234.1 56.1h1v1h-1zM224.1 56.6h1v1h-1zM223.1 75.7h1v1h-1zM252.0 58.5h1v1h-1zM229.6 52.6h1v1h-1zM228.5 58.5h1v1h-1zM225.7 70.4h1v1h-1zM222.1 50.0h1v1h-1zM229.7 61.0h1v1h-1zM239.6 48.5h1v1h-1zM219.9 72.7h1v1h-1zM232.0 73.6h1v1h-1zM246.5 59.8h1v1h-1zM247.8 73.0h1v1h-1zM249.7 73.0h1v1h-1zM237.2 83.7h1v1h-1zM251.9 89.9h1v1h-1z"/>
<path fill="#e6bcbc" d="M222.3 52.9h1v1h-1zM232.6 49.1h1v1h-1zM250.0 51.8h1v1h-1zM229.6 52.2h1v1h-1zM244.4 60.7h1v1h-1zM252.8 70.3h1v1h-1zM232.3 79.3h1v1h-1zM238.9 69.5h1v1h-1zM239.0 90.7h1v1h-1zM235.7 85.3h1v1h-1zM238.7 54.6h1v1h-1zM254.5 72.8h1v1h-1z"/>
<path fill="#c0d8c6" d="M243.3 79.3h1v1h-1zM222.0 72.1h1v1h-1zM224.3 81.3h1v1h-1zM243.8 70.6h1v1h-1zM251.6 53.4h1v1h-1zM257.3 61.9h1v1h-1zM242.5 75.5h1v1h-1zM246.3 65.5h1v1h-1zM219.8 77.5h1v1h-1z"/>
<path fill="#6aa874" d="M232.6 66.4h1v1h-1zM248.4 80.8h1v1h-1zM231.5 60.7h1v1h-1zM252.6 88.6h1v1h-1zM255.4 69.3h1v1h-1zM249.2 81.1h1v1h-1zM241.2 58.4h1v1h-1zM245.7 58.8h1v1h-1z"/>
<path fill="#9cc6a4" d="M186.0 101.8h1v1h-1zM193.6 81.1h1v1h-1zM204.5 92.2h1v1h-1zM187.2 79.1h1v1h-1zM194.0 80.8h1v1h-1z"/>
<path fill="#8c8c8c" d="M205.3 104.3h1v1h-1zM199.7 90.7h1v1h-1zM193.9 88.3h1v1h-1zM200.1 87.5h1v1h-1zM202.9 81.6h1v1h-1zM196.1 98.2h1v1h-1zM194.9 103.7h1v1h-1zM205.0 90.7h1v1h-1zM194.2 102.8h1v1h-1zM206.4 101.5h1v1h-1zM201.9 82.9h1v1h-1zM205.6 103.4h1v1h-1zM186.4 81.3h1v1h-1zM196.7 90.5h1v1h-1zM185.4 79.8h1v1h-1zM205.9 92.7h1v1h-1zM182.9 102.7h1v1h-1zM198.1 101.0h1v1h-1zM206.9 78.9h1v1h-1zM204.9 86.7h1v1h-1z"/>
<path fill="#c0d8c6" d="M194.6 87.7h1v1h-1zM181.8 83.6h1v1h-1z"/>
<path fill="#6aa874" d="M186.4 78.6h1v1h-1zM191.7 81.4h1v1h-1zM198.0 89.1h1v1h-1zM186.7 96.2h1v1h-1zM192.6 81.9h1v1h-1z"/>
<path fill="#b8b8b8" d="M183.4 100.2h1v1h-1zM207.0 78.7h1v1h-1zM189.6 100.9h1v1h-1zM186.9 103.2h1v1h-1zM185.0 100.0h1v1h-1zM182.3 86.9h1v1h-1zM186.3 99.5h1v1h-1zM194.1 101.5h1v1h-1zM196.5 98.9h1v1h-1zM206.8 104.2h1v1h-1z"/>
<path fill="#e6bcbc" d="M193.8 85.5h1v1h-1zM182.6 92.0h1v1h-1zM190.9 88.1h1v1h-1zM184.1 96.4h1v1h-1zM204.2 97.9h1v1h-1zM202.3 97.7h1v1h-1zM192.0 100.4h1v1h-1zM202.6 80.1h1v1h-1z"/>
<polygon points="206.63,69.59 212.29,68.32 215.38,70.86 217.29,77.10 216.04,82.73 212.29,83.99 207.94,81.55 205.97,76.49" fill="#2f863e"/>
<path fill="#3a9a48" d="M212.1 78.8h1v1h-1zM207.5 80.7h1v1h-1zM214.7 70.7h1v1h-1zM214.6 73.8h1v1h-1zM212.2 77.4h1v1h-1zM208.5 77.9h1v1h-1zM213.1 71.0h1v1h-1zM212.8 75.9h1v1h-1zM209.0 79.5h1v1h-1zM207.4 78.9h1v1h-1zM208.6 69.4h1v1h-1zM207.7 70.5h1v1h-1zM209.4 79.5h1v1h-1zM208.6 73.1h1v1h-1zM210.0 78.6h1v1h-1zM209.8 78.0h1v1h-1zM212.3 82.9h1v1h-1zM212.6 78.6h1v1h-1zM209.9 73.9h1v1h-1zM212.5 73.2h1v1h-1zM213.5 77.3h1v1h-1zM213.7 73.4h1v1h-1zM213.3 79.7h1v1h-1zM206.1 71.2h1v1h-1zM212.6 78.7h1v1h-1zM211.1 80.6h1v1h-1zM209.9 76.1h1v1h-1zM209.8 69.4h1v1h-1zM208.5 77.6h1v1h-1z"/>
<path fill="#17602a" d="M208.0 69.3h1v1h-1zM211.3 69.4h1v1h-1zM208.2 70.0h1v1h-1zM212.8 72.9h1v1h-1zM211.1 72.2h1v1h-1zM208.9 72.7h1v1h-1zM209.4 76.6h1v1h-1zM212.9 79.8h1v1h-1zM212.7 77.1h1v1h-1zM209.3 81.2h1v1h-1zM210.4 82.0h1v1h-1zM207.2 70.0h1v1h-1zM207.4 70.9h1v1h-1zM206.7 78.7h1v1h-1zM214.4 79.1h1v1h-1zM214.7 75.3h1v1h-1zM209.5 73.6h1v1h-1zM212.5 78.8h1v1h-1zM208.8 70.8h1v1h-1zM212.0 68.2h1v1h-1zM211.5 70.6h1v1h-1zM206.2 75.7h1v1h-1zM216.1 76.6h1v1h-1zM208.3 75.4h1v1h-1zM208.3 81.4h1v1h-1zM211.4 80.9h1v1h-1zM209.9 69.1h1v1h-1zM214.4 79.6h1v1h-1z"/>
<path fill="#1c6a2a" d="M209.3 70.3h1v1h-1zM208.3 71.8h1v1h-1zM210.2 80.2h1v1h-1zM206.7 72.4h1v1h-1zM212.3 77.5h1v1h-1zM213.9 79.4h1v1h-1zM206.5 71.7h1v1h-1zM214.6 72.8h1v1h-1zM211.5 74.3h1v1h-1zM210.9 76.5h1v1h-1zM213.0 73.2h1v1h-1zM210.5 73.1h1v1h-1zM209.6 74.6h1v1h-1zM206.4 70.0h1v1h-1zM208.8 71.8h1v1h-1zM211.7 82.6h1v1h-1zM216.0 76.0h1v1h-1zM212.0 78.6h1v1h-1zM210.7 73.9h1v1h-1z"/>
<path fill="#4aa656" d="M214.5 72.8h1v1h-1zM212.8 80.2h1v1h-1zM209.3 74.5h1v1h-1zM211.2 80.9h1v1h-1zM206.2 76.3h1v1h-1zM214.8 77.4h1v1h-1zM215.7 80.9h1v1h-1zM209.3 75.0h1v1h-1zM210.3 72.4h1v1h-1zM207.6 77.0h1v1h-1zM214.8 74.7h1v1h-1zM210.2 79.2h1v1h-1zM213.4 75.6h1v1h-1zM210.2 75.7h1v1h-1zM213.5 81.3h1v1h-1zM211.4 73.3h1v1h-1zM210.6 82.1h1v1h-1zM212.1 79.4h1v1h-1zM213.1 72.7h1v1h-1zM208.0 71.3h1v1h-1zM206.0 71.9h1v1h-1zM206.2 77.7h1v1h-1zM207.8 77.9h1v1h-1zM206.1 75.4h1v1h-1zM206.9 69.8h1v1h-1zM207.3 70.1h1v1h-1zM212.4 83.3h1v1h-1zM210.7 79.7h1v1h-1zM213.5 77.8h1v1h-1zM213.5 78.3h1v1h-1zM215.0 80.0h1v1h-1zM214.9 80.7h1v1h-1zM210.1 78.4h1v1h-1zM209.6 77.7h1v1h-1z"/>
<polygon points="204.84,67.22 212.48,65.51 216.67,68.93 219.25,77.37 217.55,84.97 212.48,86.69 206.61,83.39 203.95,76.54" fill="none" stroke="#cc2a2a" stroke-width="1.5" stroke-linejoin="round"/>
<rect x="179.80" y="43.70" width="80.50" height="63.40" fill="none" stroke="#111" stroke-width="1.3"/>
<line x1="176.60" y1="107.10" x2="179.80" y2="107.10" stroke="#111" stroke-width="1.2" />
<text x="172.80" y="109.35" font-size="6.4" text-anchor="end" fill="#333" stroke="#333" textLength="3.50" lengthAdjust="spacingAndGlyphs" style="stroke-width:0.25px" >0</text>
<line x1="179.80" y1="107.10" x2="179.80" y2="110.30" stroke="#111" stroke-width="1.2" />
<text x="180.20" y="118.60" font-size="6.4" text-anchor="middle" fill="#333" stroke="#333" textLength="3.50" lengthAdjust="spacingAndGlyphs" style="stroke-width:0.25px" >0</text>
<line x1="176.60" y1="94.42" x2="179.80" y2="94.42" stroke="#111" stroke-width="1.2" />
<text x="172.80" y="96.67" font-size="6.4" text-anchor="end" fill="#333" stroke="#333" textLength="10.50" lengthAdjust="spacingAndGlyphs" style="stroke-width:0.25px" >200</text>
<line x1="195.90" y1="107.10" x2="195.90" y2="110.30" stroke="#111" stroke-width="1.2" />
<text x="196.30" y="118.60" font-size="6.4" text-anchor="middle" fill="#333" stroke="#333" textLength="10.50" lengthAdjust="spacingAndGlyphs" style="stroke-width:0.25px" >200</text>
<line x1="176.60" y1="81.74" x2="179.80" y2="81.74" stroke="#111" stroke-width="1.2" />
<text x="172.80" y="83.99" font-size="6.4" text-anchor="end" fill="#333" stroke="#333" textLength="10.50" lengthAdjust="spacingAndGlyphs" style="stroke-width:0.25px" >400</text>
<line x1="212.00" y1="107.10" x2="212.00" y2="110.30" stroke="#111" stroke-width="1.2" />
<text x="212.40" y="118.60" font-size="6.4" text-anchor="middle" fill="#333" stroke="#333" textLength="10.50" lengthAdjust="spacingAndGlyphs" style="stroke-width:0.25px" >400</text>
<line x1="176.60" y1="69.06" x2="179.80" y2="69.06" stroke="#111" stroke-width="1.2" />
<text x="172.80" y="71.31" font-size="6.4" text-anchor="end" fill="#333" stroke="#333" textLength="10.50" lengthAdjust="spacingAndGlyphs" style="stroke-width:0.25px" >600</text>
<line x1="228.10" y1="107.10" x2="228.10" y2="110.30" stroke="#111" stroke-width="1.2" />
<text x="228.50" y="118.60" font-size="6.4" text-anchor="middle" fill="#333" stroke="#333" textLength="10.50" lengthAdjust="spacingAndGlyphs" style="stroke-width:0.25px" >600</text>
<line x1="176.60" y1="56.38" x2="179.80" y2="56.38" stroke="#111" stroke-width="1.2" />
<text x="172.80" y="58.63" font-size="6.4" text-anchor="end" fill="#333" stroke="#333" textLength="10.50" lengthAdjust="spacingAndGlyphs" style="stroke-width:0.25px" >800</text>
<line x1="244.20" y1="107.10" x2="244.20" y2="110.30" stroke="#111" stroke-width="1.2" />
<text x="244.60" y="118.60" font-size="6.4" text-anchor="middle" fill="#333" stroke="#333" textLength="10.50" lengthAdjust="spacingAndGlyphs" style="stroke-width:0.25px" >800</text>
<line x1="176.60" y1="43.70" x2="179.80" y2="43.70" stroke="#111" stroke-width="1.2" />
<text x="172.80" y="45.95" font-size="6.4" text-anchor="end" fill="#333" stroke="#333" textLength="14.00" lengthAdjust="spacingAndGlyphs" style="stroke-width:0.25px" >1000</text>
<line x1="260.30" y1="107.10" x2="260.30" y2="110.30" stroke="#111" stroke-width="1.2" />
<text x="260.70" y="118.60" font-size="6.4" text-anchor="middle" fill="#333" stroke="#333" textLength="14.00" lengthAdjust="spacingAndGlyphs" style="stroke-width:0.25px" >1000</text>
<text x="220.55" y="130.90" font-size="8.8" text-anchor="middle" fill="#333" stroke="none" font-weight="bold" textLength="11.00" lengthAdjust="spacingAndGlyphs" >FSC</text>
<text x="152.40" y="75.40" font-size="8.8" text-anchor="middle" fill="#333" stroke="none" font-weight="bold" textLength="11.20" lengthAdjust="spacingAndGlyphs" transform="rotate(-90 152.40 75.40)" >SSC</text>
<text x="358.25" y="29.70" font-size="7.3" text-anchor="middle" fill="#222" stroke="#222" textLength="42.90" lengthAdjust="spacingAndGlyphs" >Purified bone</text>
<text x="357.90" y="38.50" font-size="7.3" text-anchor="middle" fill="#222" stroke="#222" textLength="73.20" lengthAdjust="spacingAndGlyphs" >marrow neutrophils (3)</text>
<path fill="#9cc6a4" d="M350.8 62.4h1v1h-1zM349.2 51.8h1v1h-1zM350.0 62.3h1v1h-1zM350.7 54.9h1v1h-1zM347.3 57.0h1v1h-1zM349.4 61.0h1v1h-1zM346.2 51.0h1v1h-1zM353.7 56.9h1v1h-1zM353.2 47.2h1v1h-1zM357.2 63.3h1v1h-1zM357.5 56.2h1v1h-1zM341.8 53.1h1v1h-1zM349.1 56.8h1v1h-1zM349.4 59.8h1v1h-1zM350.9 53.8h1v1h-1zM348.9 48.3h1v1h-1zM353.3 60.3h1v1h-1zM350.7 45.4h1v1h-1zM349.0 62.8h1v1h-1zM346.6 45.9h1v1h-1zM350.7 50.1h1v1h-1zM349.2 56.8h1v1h-1zM350.9 56.5h1v1h-1zM349.3 63.4h1v1h-1zM352.8 46.2h1v1h-1zM348.7 62.7h1v1h-1zM352.5 53.3h1v1h-1zM346.6 62.3h1v1h-1zM344.3 54.3h1v1h-1zM352.1 46.8h1v1h-1zM350.8 52.0h1v1h-1zM340.6 57.9h1v1h-1zM351.8 55.7h1v1h-1zM347.6 48.4h1v1h-1zM340.4 47.4h1v1h-1zM344.1 54.2h1v1h-1zM348.5 53.1h1v1h-1zM352.0 59.6h1v1h-1zM348.4 52.8h1v1h-1z"/>
<path fill="#7a7a7a" d="M350.2 51.4h1v1h-1zM342.9 50.6h1v1h-1zM349.6 58.9h1v1h-1zM350.4 60.8h1v1h-1zM357.0 51.3h1v1h-1zM352.0 61.0h1v1h-1zM343.9 57.1h1v1h-1zM351.2 51.2h1v1h-1zM352.3 63.8h1v1h-1zM356.8 44.8h1v1h-1zM352.6 56.0h1v1h-1zM348.2 49.2h1v1h-1zM345.0 47.6h1v1h-1zM353.7 63.5h1v1h-1zM351.9 55.5h1v1h-1zM346.5 50.6h1v1h-1zM348.8 58.7h1v1h-1zM345.8 61.7h1v1h-1zM350.6 57.9h1v1h-1zM350.7 46.8h1v1h-1zM349.3 54.6h1v1h-1zM350.9 51.8h1v1h-1zM350.0 60.4h1v1h-1zM342.7 63.7h1v1h-1zM340.3 56.5h1v1h-1zM347.5 47.6h1v1h-1zM358.4 58.9h1v1h-1zM348.3 55.7h1v1h-1zM353.9 60.7h1v1h-1zM345.2 46.8h1v1h-1zM350.9 56.8h1v1h-1zM350.2 63.5h1v1h-1zM356.0 48.5h1v1h-1zM343.2 56.0h1v1h-1zM347.8 55.9h1v1h-1zM350.3 47.6h1v1h-1zM351.6 59.4h1v1h-1zM349.8 62.3h1v1h-1zM358.1 61.0h1v1h-1zM354.0 57.5h1v1h-1zM348.0 61.2h1v1h-1zM349.8 59.0h1v1h-1zM353.0 52.8h1v1h-1zM355.5 50.9h1v1h-1zM350.1 45.9h1v1h-1zM344.0 62.8h1v1h-1zM351.2 62.8h1v1h-1z"/>
<path fill="#a8a8a8" d="M353.4 51.3h1v1h-1zM351.0 49.0h1v1h-1zM338.9 49.9h1v1h-1zM345.0 59.7h1v1h-1zM351.2 62.7h1v1h-1zM345.5 49.4h1v1h-1zM348.8 46.5h1v1h-1zM348.1 61.8h1v1h-1zM344.0 56.1h1v1h-1zM348.3 47.7h1v1h-1zM349.1 45.3h1v1h-1zM347.9 59.1h1v1h-1zM355.8 47.3h1v1h-1zM349.1 49.3h1v1h-1zM347.3 64.0h1v1h-1zM349.5 45.7h1v1h-1zM346.8 61.2h1v1h-1zM360.0 46.6h1v1h-1zM349.3 49.6h1v1h-1zM347.9 49.2h1v1h-1zM346.7 64.3h1v1h-1zM348.0 53.7h1v1h-1zM341.3 64.4h1v1h-1zM350.4 58.1h1v1h-1zM347.1 45.4h1v1h-1z"/>
<path fill="#3d8a4a" d="M350.4 51.5h1v1h-1zM348.0 64.1h1v1h-1zM345.2 63.4h1v1h-1zM353.8 55.0h1v1h-1zM348.0 60.3h1v1h-1zM354.8 61.8h1v1h-1zM354.9 55.3h1v1h-1zM353.2 62.2h1v1h-1zM345.3 49.7h1v1h-1zM352.9 56.2h1v1h-1zM343.5 51.5h1v1h-1zM341.0 48.1h1v1h-1zM354.7 47.6h1v1h-1zM351.6 46.1h1v1h-1zM357.7 59.0h1v1h-1zM354.1 60.0h1v1h-1zM353.5 52.0h1v1h-1zM353.4 58.6h1v1h-1zM343.9 60.6h1v1h-1zM339.2 46.2h1v1h-1zM343.2 50.4h1v1h-1zM352.8 61.0h1v1h-1zM354.7 53.7h1v1h-1zM353.5 52.4h1v1h-1zM350.7 53.0h1v1h-1zM349.6 45.8h1v1h-1zM351.8 57.5h1v1h-1zM349.3 62.0h1v1h-1zM352.2 52.9h1v1h-1zM349.2 63.8h1v1h-1zM351.2 56.0h1v1h-1zM347.6 61.9h1v1h-1zM351.0 58.1h1v1h-1zM339.6 55.8h1v1h-1zM353.1 46.7h1v1h-1zM351.0 61.4h1v1h-1zM345.9 57.5h1v1h-1zM347.5 48.6h1v1h-1zM347.8 51.0h1v1h-1zM356.8 60.2h1v1h-1zM352.3 58.4h1v1h-1zM345.8 46.1h1v1h-1zM359.4 48.8h1v1h-1zM341.0 45.5h1v1h-1zM344.5 62.5h1v1h-1zM344.4 60.2h1v1h-1zM350.3 52.4h1v1h-1zM349.3 53.4h1v1h-1zM357.1 54.1h1v1h-1zM342.9 53.6h1v1h-1zM349.3 56.3h1v1h-1zM343.5 53.6h1v1h-1zM353.5 47.7h1v1h-1zM345.6 54.1h1v1h-1zM362.8 56.6h1v1h-1zM353.0 57.1h1v1h-1zM338.4 47.1h1v1h-1zM342.1 46.8h1v1h-1zM348.8 60.4h1v1h-1zM342.1 47.3h1v1h-1zM358.0 57.8h1v1h-1zM357.2 60.2h1v1h-1zM354.7 62.5h1v1h-1zM349.5 56.7h1v1h-1z"/>
<path fill="#6aa874" d="M355.6 58.0h1v1h-1zM354.6 57.5h1v1h-1zM341.4 60.6h1v1h-1zM345.0 48.3h1v1h-1zM345.3 63.7h1v1h-1zM340.5 47.0h1v1h-1zM343.9 47.5h1v1h-1zM347.7 62.5h1v1h-1zM348.1 47.4h1v1h-1zM351.4 62.0h1v1h-1zM352.8 57.6h1v1h-1zM352.2 49.3h1v1h-1zM351.7 46.5h1v1h-1zM351.0 60.4h1v1h-1zM345.5 59.7h1v1h-1zM347.2 63.9h1v1h-1zM353.5 46.3h1v1h-1zM352.7 63.7h1v1h-1zM353.7 47.9h1v1h-1zM350.9 62.6h1v1h-1zM352.1 61.6h1v1h-1zM351.1 55.6h1v1h-1zM345.8 48.7h1v1h-1zM347.8 47.1h1v1h-1zM357.2 51.1h1v1h-1zM355.6 50.7h1v1h-1zM346.8 48.2h1v1h-1zM349.6 63.6h1v1h-1zM344.2 55.0h1v1h-1zM350.9 58.2h1v1h-1zM345.8 52.4h1v1h-1zM349.7 56.8h1v1h-1zM350.0 57.6h1v1h-1zM351.5 57.3h1v1h-1zM348.7 62.0h1v1h-1zM351.3 50.9h1v1h-1zM352.2 58.6h1v1h-1zM354.7 46.8h1v1h-1zM339.0 49.9h1v1h-1zM349.2 47.2h1v1h-1zM355.4 49.6h1v1h-1zM352.9 56.5h1v1h-1zM353.5 55.6h1v1h-1zM347.9 49.8h1v1h-1zM361.2 46.7h1v1h-1zM351.5 60.8h1v1h-1zM350.9 61.4h1v1h-1zM345.3 46.0h1v1h-1zM349.0 46.4h1v1h-1zM348.0 52.1h1v1h-1zM352.8 53.7h1v1h-1zM355.7 56.4h1v1h-1zM347.6 57.2h1v1h-1zM347.2 60.2h1v1h-1zM350.8 60.3h1v1h-1z"/>
<path fill="#6aa874" d="M363.0 69.1h1v1h-1zM344.0 88.5h1v1h-1zM340.2 81.0h1v1h-1zM339.8 73.5h1v1h-1zM354.6 75.9h1v1h-1zM344.1 60.6h1v1h-1zM358.9 79.6h1v1h-1zM350.3 72.6h1v1h-1zM350.4 87.7h1v1h-1zM349.6 76.1h1v1h-1zM345.6 70.8h1v1h-1zM352.3 86.1h1v1h-1zM349.3 81.6h1v1h-1zM359.3 82.9h1v1h-1zM360.1 87.6h1v1h-1zM353.6 89.9h1v1h-1zM347.3 86.8h1v1h-1zM350.6 85.0h1v1h-1zM352.9 84.7h1v1h-1zM343.9 66.1h1v1h-1zM355.8 75.4h1v1h-1zM349.0 80.4h1v1h-1zM338.0 80.1h1v1h-1zM338.9 85.5h1v1h-1zM360.3 60.4h1v1h-1zM338.3 81.3h1v1h-1zM350.3 90.2h1v1h-1zM340.6 93.2h1v1h-1zM341.0 73.4h1v1h-1zM348.6 89.3h1v1h-1zM350.4 81.4h1v1h-1zM350.9 57.0h1v1h-1zM356.1 85.1h1v1h-1zM338.3 75.3h1v1h-1zM362.5 85.4h1v1h-1zM353.9 81.2h1v1h-1zM352.3 72.8h1v1h-1zM339.1 97.4h1v1h-1zM346.0 72.0h1v1h-1zM360.5 70.7h1v1h-1zM337.9 91.5h1v1h-1zM352.6 80.0h1v1h-1zM354.4 72.6h1v1h-1zM344.4 46.3h1v1h-1zM354.6 95.2h1v1h-1zM354.9 67.1h1v1h-1zM348.0 69.8h1v1h-1zM364.3 60.7h1v1h-1zM367.3 83.7h1v1h-1zM350.1 88.0h1v1h-1zM355.0 94.2h1v1h-1zM351.8 88.0h1v1h-1zM357.8 72.4h1v1h-1zM344.6 77.1h1v1h-1zM361.4 83.9h1v1h-1zM344.7 86.7h1v1h-1zM352.4 76.0h1v1h-1zM352.3 79.6h1v1h-1zM352.1 84.4h1v1h-1zM374.3 88.9h1v1h-1z"/>
<path fill="#7a7a7a" d="M355.6 73.3h1v1h-1zM357.3 64.9h1v1h-1zM356.5 85.5h1v1h-1zM328.2 67.4h1v1h-1zM350.9 79.1h1v1h-1zM365.7 78.2h1v1h-1zM351.4 76.1h1v1h-1zM356.2 88.5h1v1h-1zM364.6 92.5h1v1h-1zM348.0 82.8h1v1h-1zM354.4 68.3h1v1h-1zM344.3 87.2h1v1h-1zM363.2 86.8h1v1h-1zM351.6 83.2h1v1h-1zM322.3 64.0h1v1h-1zM373.2 64.1h1v1h-1zM341.2 94.0h1v1h-1zM354.4 84.5h1v1h-1zM361.1 88.0h1v1h-1zM329.3 68.2h1v1h-1zM364.7 75.7h1v1h-1zM365.2 74.9h1v1h-1zM351.2 72.8h1v1h-1zM350.6 88.6h1v1h-1zM350.7 74.6h1v1h-1zM368.0 86.8h1v1h-1zM354.1 71.1h1v1h-1zM359.7 81.1h1v1h-1zM364.1 76.4h1v1h-1zM345.8 71.2h1v1h-1zM360.8 79.8h1v1h-1zM356.0 83.9h1v1h-1zM337.5 82.0h1v1h-1zM349.9 75.4h1v1h-1zM351.4 86.2h1v1h-1zM351.2 66.2h1v1h-1zM356.1 87.0h1v1h-1zM359.4 80.0h1v1h-1zM356.0 81.2h1v1h-1zM354.3 59.4h1v1h-1zM347.0 82.4h1v1h-1zM354.0 84.7h1v1h-1zM344.2 83.9h1v1h-1zM360.4 86.4h1v1h-1zM340.4 103.7h1v1h-1zM350.3 81.2h1v1h-1zM354.1 79.8h1v1h-1zM351.7 85.5h1v1h-1zM354.1 96.6h1v1h-1zM356.4 74.9h1v1h-1zM361.3 91.0h1v1h-1zM346.4 76.3h1v1h-1zM356.4 73.1h1v1h-1zM364.9 73.2h1v1h-1z"/>
<path fill="#9cc6a4" d="M363.3 72.7h1v1h-1zM358.6 87.3h1v1h-1zM336.3 69.3h1v1h-1zM352.5 77.6h1v1h-1zM362.2 78.6h1v1h-1zM359.8 79.8h1v1h-1zM363.7 82.2h1v1h-1zM350.8 68.3h1v1h-1zM357.5 82.9h1v1h-1zM364.0 79.9h1v1h-1zM337.9 81.9h1v1h-1zM358.7 89.2h1v1h-1zM356.7 73.6h1v1h-1zM355.5 69.1h1v1h-1zM370.6 84.9h1v1h-1zM355.7 80.7h1v1h-1zM350.7 89.8h1v1h-1zM360.0 96.7h1v1h-1zM355.0 76.6h1v1h-1zM356.4 83.4h1v1h-1zM359.2 67.1h1v1h-1zM360.3 72.8h1v1h-1zM357.4 74.0h1v1h-1zM351.7 83.7h1v1h-1zM360.7 84.5h1v1h-1zM354.8 86.6h1v1h-1zM353.4 81.5h1v1h-1zM356.6 73.5h1v1h-1zM343.3 58.3h1v1h-1zM329.5 75.0h1v1h-1zM347.5 90.6h1v1h-1zM348.5 73.2h1v1h-1zM351.1 78.3h1v1h-1zM356.9 75.7h1v1h-1zM361.3 69.1h1v1h-1zM344.4 67.8h1v1h-1zM362.5 87.8h1v1h-1zM378.7 80.7h1v1h-1zM348.6 80.4h1v1h-1zM372.3 81.2h1v1h-1zM346.1 84.9h1v1h-1zM360.1 88.4h1v1h-1zM355.7 59.2h1v1h-1zM346.7 68.0h1v1h-1zM349.6 76.9h1v1h-1zM356.1 92.3h1v1h-1zM351.1 70.8h1v1h-1zM340.1 88.8h1v1h-1zM350.7 79.9h1v1h-1zM349.2 78.6h1v1h-1zM338.9 74.4h1v1h-1zM339.3 72.0h1v1h-1zM350.9 80.8h1v1h-1z"/>
<path fill="#e6bcbc" d="M353.5 88.8h1v1h-1zM349.6 90.9h1v1h-1zM344.9 91.6h1v1h-1zM345.3 67.0h1v1h-1zM358.4 89.0h1v1h-1zM365.7 97.5h1v1h-1zM349.1 88.8h1v1h-1zM362.5 55.7h1v1h-1zM354.5 70.1h1v1h-1zM352.9 95.5h1v1h-1zM341.9 62.7h1v1h-1zM364.9 77.4h1v1h-1zM367.0 84.2h1v1h-1zM348.6 79.8h1v1h-1zM362.8 83.2h1v1h-1zM355.1 82.2h1v1h-1zM353.2 82.9h1v1h-1zM345.7 72.0h1v1h-1zM358.3 88.5h1v1h-1zM357.5 92.2h1v1h-1zM351.3 88.2h1v1h-1zM351.6 71.9h1v1h-1zM343.7 93.4h1v1h-1zM362.6 60.7h1v1h-1zM341.9 72.2h1v1h-1zM352.0 87.3h1v1h-1zM350.8 74.8h1v1h-1zM357.6 62.7h1v1h-1zM360.8 93.5h1v1h-1zM346.5 84.7h1v1h-1zM363.9 94.7h1v1h-1zM357.4 81.8h1v1h-1zM358.2 67.1h1v1h-1z"/>
<path fill="#a8a8a8" d="M339.5 80.7h1v1h-1zM342.1 80.5h1v1h-1zM365.7 70.4h1v1h-1zM344.1 83.1h1v1h-1zM354.1 80.7h1v1h-1zM337.7 81.6h1v1h-1zM350.5 75.2h1v1h-1zM350.2 75.3h1v1h-1zM358.1 84.2h1v1h-1zM350.2 80.0h1v1h-1zM357.0 63.5h1v1h-1zM377.7 91.4h1v1h-1zM343.8 71.4h1v1h-1zM341.4 68.0h1v1h-1zM346.6 85.9h1v1h-1zM342.2 72.3h1v1h-1zM353.6 92.9h1v1h-1zM352.9 86.2h1v1h-1zM362.3 82.3h1v1h-1zM348.3 86.9h1v1h-1zM347.7 72.2h1v1h-1zM353.2 71.5h1v1h-1zM348.5 84.6h1v1h-1zM351.5 82.1h1v1h-1zM346.9 79.8h1v1h-1zM355.4 73.8h1v1h-1zM350.9 78.6h1v1h-1zM350.1 79.2h1v1h-1zM358.5 81.7h1v1h-1zM351.4 94.7h1v1h-1zM345.9 77.0h1v1h-1zM344.5 78.2h1v1h-1zM359.5 82.6h1v1h-1zM340.1 78.6h1v1h-1zM345.4 69.7h1v1h-1zM353.4 96.9h1v1h-1zM347.8 94.4h1v1h-1zM354.9 84.3h1v1h-1zM353.9 71.9h1v1h-1zM364.0 78.1h1v1h-1zM359.8 80.0h1v1h-1zM346.6 81.6h1v1h-1zM336.7 79.0h1v1h-1zM342.6 77.9h1v1h-1zM356.0 61.8h1v1h-1zM360.5 84.6h1v1h-1z"/>
<path fill="#3d8a4a" d="M345.7 65.9h1v1h-1zM354.7 75.4h1v1h-1zM337.1 86.8h1v1h-1zM356.5 87.4h1v1h-1zM366.1 73.4h1v1h-1zM343.1 76.7h1v1h-1zM340.5 72.5h1v1h-1zM345.3 84.7h1v1h-1zM359.0 84.4h1v1h-1zM352.8 71.6h1v1h-1zM356.4 75.5h1v1h-1zM343.0 76.1h1v1h-1zM350.9 86.4h1v1h-1zM348.0 96.9h1v1h-1zM351.0 71.6h1v1h-1zM336.2 79.9h1v1h-1zM353.2 68.0h1v1h-1zM348.1 92.3h1v1h-1zM340.4 95.3h1v1h-1zM368.4 86.8h1v1h-1zM351.5 75.4h1v1h-1zM365.9 81.6h1v1h-1zM354.7 91.7h1v1h-1zM346.7 72.4h1v1h-1zM352.6 64.3h1v1h-1zM347.4 86.8h1v1h-1zM350.4 63.0h1v1h-1zM351.6 72.1h1v1h-1zM367.3 92.8h1v1h-1zM340.0 78.4h1v1h-1zM338.6 75.4h1v1h-1zM346.7 65.8h1v1h-1zM352.6 74.5h1v1h-1zM354.1 67.2h1v1h-1zM339.5 78.0h1v1h-1zM360.9 80.7h1v1h-1zM334.1 75.6h1v1h-1zM358.6 82.5h1v1h-1zM343.9 96.8h1v1h-1zM349.6 68.2h1v1h-1zM348.6 71.0h1v1h-1zM340.9 90.9h1v1h-1zM335.4 86.8h1v1h-1zM366.2 65.2h1v1h-1zM349.2 63.9h1v1h-1zM345.5 83.4h1v1h-1zM351.5 78.7h1v1h-1zM348.8 79.4h1v1h-1zM333.6 73.3h1v1h-1zM351.7 68.3h1v1h-1zM344.8 80.7h1v1h-1zM354.9 60.4h1v1h-1z"/>
<path fill="#8c8c8c" d="M392.6 62.2h1v1h-1zM373.6 80.6h1v1h-1zM360.3 49.2h1v1h-1zM363.0 61.6h1v1h-1zM363.5 74.4h1v1h-1zM383.3 72.1h1v1h-1zM392.9 70.1h1v1h-1zM375.5 76.5h1v1h-1zM384.6 68.4h1v1h-1zM371.6 51.0h1v1h-1zM380.8 66.8h1v1h-1zM385.3 57.3h1v1h-1zM370.4 75.1h1v1h-1zM390.7 54.6h1v1h-1zM363.1 85.4h1v1h-1zM386.2 69.1h1v1h-1zM395.0 81.3h1v1h-1zM376.6 46.9h1v1h-1z"/>
<path fill="#b8b8b8" d="M361.6 62.5h1v1h-1zM378.9 54.5h1v1h-1zM363.8 53.3h1v1h-1zM380.2 78.7h1v1h-1zM388.7 50.9h1v1h-1zM384.6 62.3h1v1h-1zM360.1 71.1h1v1h-1zM359.7 51.1h1v1h-1zM370.6 80.3h1v1h-1zM388.0 85.5h1v1h-1zM395.7 74.7h1v1h-1zM379.8 71.2h1v1h-1zM359.0 55.9h1v1h-1zM378.3 84.5h1v1h-1z"/>
<path fill="#9cc6a4" d="M390.2 61.2h1v1h-1zM382.8 80.9h1v1h-1zM379.3 76.6h1v1h-1zM383.3 73.3h1v1h-1zM391.0 77.1h1v1h-1zM367.7 83.4h1v1h-1zM376.5 52.6h1v1h-1z"/>
<path fill="#c0d8c6" d="M390.9 75.8h1v1h-1zM361.5 59.7h1v1h-1zM380.6 68.1h1v1h-1zM388.1 71.9h1v1h-1zM370.0 74.1h1v1h-1zM360.3 60.9h1v1h-1zM389.0 74.9h1v1h-1z"/>
<path fill="#e6bcbc" d="M386.6 74.0h1v1h-1zM385.2 83.6h1v1h-1zM362.3 60.2h1v1h-1zM372.7 67.4h1v1h-1zM392.9 82.9h1v1h-1zM382.7 61.6h1v1h-1zM372.8 84.6h1v1h-1zM372.8 60.8h1v1h-1zM393.8 74.5h1v1h-1zM365.3 86.8h1v1h-1z"/>
<path fill="#6aa874" d="M368.2 82.2h1v1h-1zM373.2 79.9h1v1h-1zM395.5 65.8h1v1h-1zM391.5 79.5h1v1h-1z"/>
<path fill="#8c8c8c" d="M322.5 94.0h1v1h-1zM345.4 88.4h1v1h-1zM341.9 97.2h1v1h-1zM333.9 98.8h1v1h-1zM346.3 92.9h1v1h-1zM345.9 90.3h1v1h-1zM339.7 87.6h1v1h-1zM340.0 100.8h1v1h-1zM328.4 100.9h1v1h-1zM331.6 95.8h1v1h-1zM333.7 91.3h1v1h-1zM341.2 87.6h1v1h-1z"/>
<path fill="#e6bcbc" d="M323.5 86.0h1v1h-1zM321.7 83.5h1v1h-1zM337.6 88.1h1v1h-1zM334.2 81.7h1v1h-1z"/>
<path fill="#b8b8b8" d="M321.1 89.8h1v1h-1zM343.4 100.0h1v1h-1zM324.3 82.4h1v1h-1zM342.3 95.9h1v1h-1z"/>
<path fill="#9cc6a4" d="M334.0 102.9h1v1h-1zM327.8 101.1h1v1h-1zM324.8 97.2h1v1h-1z"/>
<path fill="#c0d8c6" d="M341.8 103.4h1v1h-1zM322.9 96.5h1v1h-1z"/>
<polygon points="355.58,77.05 355.29,79.28 354.45,81.29 353.15,82.89 351.51,83.92 349.70,84.27 347.88,83.92 346.24,82.89 344.94,81.29 344.10,79.28 343.82,77.05 344.10,74.82 344.94,72.80 346.24,71.21 347.88,70.18 349.70,69.83 351.51,70.18 353.15,71.21 354.45,72.80 355.29,74.82" fill="#3a8e48"/>
<path fill="#1c6a2a" d="M347.5 70.9h1v1h-1zM343.8 78.3h1v1h-1zM348.5 80.2h1v1h-1zM347.6 74.2h1v1h-1zM350.7 70.5h1v1h-1zM353.8 74.1h1v1h-1zM352.0 79.0h1v1h-1zM352.1 82.7h1v1h-1zM346.4 73.3h1v1h-1zM351.1 80.8h1v1h-1zM350.9 73.8h1v1h-1zM344.5 74.2h1v1h-1zM348.9 79.2h1v1h-1zM347.6 71.7h1v1h-1zM344.2 73.9h1v1h-1zM345.5 72.8h1v1h-1zM347.2 80.0h1v1h-1zM350.0 74.8h1v1h-1zM351.2 83.1h1v1h-1zM346.3 80.6h1v1h-1zM347.8 80.7h1v1h-1zM353.5 72.3h1v1h-1zM348.2 80.5h1v1h-1z"/>
<path fill="#4aa656" d="M352.0 75.0h1v1h-1zM345.4 78.9h1v1h-1zM351.7 78.3h1v1h-1zM346.3 72.0h1v1h-1zM345.8 75.7h1v1h-1zM352.2 82.5h1v1h-1zM351.0 70.5h1v1h-1zM353.2 74.5h1v1h-1zM346.7 80.5h1v1h-1zM352.8 71.3h1v1h-1zM354.3 79.4h1v1h-1zM353.4 79.9h1v1h-1zM346.4 71.1h1v1h-1zM346.2 81.3h1v1h-1zM347.2 78.1h1v1h-1zM345.2 71.5h1v1h-1zM347.7 77.9h1v1h-1zM348.4 69.9h1v1h-1zM350.6 80.4h1v1h-1zM348.8 70.8h1v1h-1zM347.4 75.1h1v1h-1zM345.7 71.7h1v1h-1zM349.1 70.9h1v1h-1zM354.5 78.4h1v1h-1zM344.3 72.8h1v1h-1z"/>
<path fill="#3a9a48" d="M352.1 80.2h1v1h-1zM350.9 75.3h1v1h-1zM349.4 75.3h1v1h-1zM349.2 71.2h1v1h-1zM350.3 72.9h1v1h-1zM351.2 75.7h1v1h-1zM348.9 73.7h1v1h-1zM352.9 79.5h1v1h-1zM349.3 82.4h1v1h-1zM350.2 81.8h1v1h-1zM346.0 78.1h1v1h-1zM352.7 78.4h1v1h-1zM346.8 80.2h1v1h-1zM352.0 79.4h1v1h-1zM350.8 82.0h1v1h-1zM350.9 70.6h1v1h-1zM345.7 71.2h1v1h-1zM353.3 81.1h1v1h-1zM349.3 75.0h1v1h-1zM349.2 80.0h1v1h-1z"/>
<path fill="#17602a" d="M352.1 75.5h1v1h-1zM352.5 81.6h1v1h-1zM347.6 80.3h1v1h-1zM349.9 78.3h1v1h-1zM351.0 78.4h1v1h-1zM345.4 73.1h1v1h-1zM354.9 75.6h1v1h-1zM348.8 71.9h1v1h-1zM347.3 73.4h1v1h-1zM351.6 80.5h1v1h-1zM350.0 72.9h1v1h-1zM352.5 82.1h1v1h-1zM348.0 75.7h1v1h-1zM353.7 72.1h1v1h-1zM352.1 81.7h1v1h-1zM347.7 70.0h1v1h-1zM345.7 77.9h1v1h-1zM347.6 77.0h1v1h-1zM352.0 82.6h1v1h-1zM349.1 79.6h1v1h-1zM348.6 69.5h1v1h-1zM350.2 78.4h1v1h-1z"/>
<polygon points="357.24,77.05 356.87,79.91 355.80,82.49 354.13,84.54 352.03,85.85 349.70,86.30 347.37,85.85 345.27,84.54 343.60,82.49 342.53,79.91 342.16,77.05 342.53,74.19 343.60,71.61 345.27,69.56 347.37,68.25 349.70,67.79 352.03,68.25 354.13,69.56 355.80,71.61 356.87,74.19" fill="none" stroke="#cc2a2a" stroke-width="1.5" stroke-linejoin="round"/>
<rect x="318.90" y="43.70" width="80.20" height="63.40" fill="none" stroke="#111" stroke-width="1.3"/>
<line x1="315.70" y1="107.10" x2="318.90" y2="107.10" stroke="#111" stroke-width="1.2" />
<text x="311.90" y="109.35" font-size="6.4" text-anchor="end" fill="#333" stroke="#333" textLength="3.50" lengthAdjust="spacingAndGlyphs" style="stroke-width:0.25px" >0</text>
<line x1="318.90" y1="107.10" x2="318.90" y2="110.30" stroke="#111" stroke-width="1.2" />
<text x="319.30" y="118.60" font-size="6.4" text-anchor="middle" fill="#333" stroke="#333" textLength="3.50" lengthAdjust="spacingAndGlyphs" style="stroke-width:0.25px" >0</text>
<line x1="315.70" y1="94.42" x2="318.90" y2="94.42" stroke="#111" stroke-width="1.2" />
<text x="311.90" y="96.67" font-size="6.4" text-anchor="end" fill="#333" stroke="#333" textLength="10.50" lengthAdjust="spacingAndGlyphs" style="stroke-width:0.25px" >200</text>
<line x1="334.94" y1="107.10" x2="334.94" y2="110.30" stroke="#111" stroke-width="1.2" />
<text x="335.34" y="118.60" font-size="6.4" text-anchor="middle" fill="#333" stroke="#333" textLength="10.50" lengthAdjust="spacingAndGlyphs" style="stroke-width:0.25px" >200</text>
<line x1="315.70" y1="81.74" x2="318.90" y2="81.74" stroke="#111" stroke-width="1.2" />
<text x="311.90" y="83.99" font-size="6.4" text-anchor="end" fill="#333" stroke="#333" textLength="10.50" lengthAdjust="spacingAndGlyphs" style="stroke-width:0.25px" >400</text>
<line x1="350.98" y1="107.10" x2="350.98" y2="110.30" stroke="#111" stroke-width="1.2" />
<text x="351.38" y="118.60" font-size="6.4" text-anchor="middle" fill="#333" stroke="#333" textLength="10.50" lengthAdjust="spacingAndGlyphs" style="stroke-width:0.25px" >400</text>
<line x1="315.70" y1="69.06" x2="318.90" y2="69.06" stroke="#111" stroke-width="1.2" />
<text x="311.90" y="71.31" font-size="6.4" text-anchor="end" fill="#333" stroke="#333" textLength="10.50" lengthAdjust="spacingAndGlyphs" style="stroke-width:0.25px" >600</text>
<line x1="367.02" y1="107.10" x2="367.02" y2="110.30" stroke="#111" stroke-width="1.2" />
<text x="367.42" y="118.60" font-size="6.4" text-anchor="middle" fill="#333" stroke="#333" textLength="10.50" lengthAdjust="spacingAndGlyphs" style="stroke-width:0.25px" >600</text>
<line x1="315.70" y1="56.38" x2="318.90" y2="56.38" stroke="#111" stroke-width="1.2" />
<text x="311.90" y="58.63" font-size="6.4" text-anchor="end" fill="#333" stroke="#333" textLength="10.50" lengthAdjust="spacingAndGlyphs" style="stroke-width:0.25px" >800</text>
<line x1="383.06" y1="107.10" x2="383.06" y2="110.30" stroke="#111" stroke-width="1.2" />
<text x="383.46" y="118.60" font-size="6.4" text-anchor="middle" fill="#333" stroke="#333" textLength="10.50" lengthAdjust="spacingAndGlyphs" style="stroke-width:0.25px" >800</text>
<line x1="315.70" y1="43.70" x2="318.90" y2="43.70" stroke="#111" stroke-width="1.2" />
<text x="311.90" y="45.95" font-size="6.4" text-anchor="end" fill="#333" stroke="#333" textLength="14.00" lengthAdjust="spacingAndGlyphs" style="stroke-width:0.25px" >1000</text>
<line x1="399.10" y1="107.10" x2="399.10" y2="110.30" stroke="#111" stroke-width="1.2" />
<text x="399.50" y="118.60" font-size="6.4" text-anchor="middle" fill="#333" stroke="#333" textLength="14.00" lengthAdjust="spacingAndGlyphs" style="stroke-width:0.25px" >1000</text>
<text x="359.50" y="130.90" font-size="8.8" text-anchor="middle" fill="#333" stroke="none" font-weight="bold" textLength="11.00" lengthAdjust="spacingAndGlyphs" >FSC</text>
<text x="291.50" y="75.40" font-size="8.8" text-anchor="middle" fill="#333" stroke="none" font-weight="bold" textLength="11.20" lengthAdjust="spacingAndGlyphs" transform="rotate(-90 291.50 75.40)" >SSC</text>
<text x="80.30" y="179.80" font-size="7.3" text-anchor="middle" fill="#222" stroke="#222" textLength="99.20" lengthAdjust="spacingAndGlyphs" >Peripheral blood leukocytes (4)</text>
<path fill="#6aa874" d="M76.1 201.7h1v1h-1zM69.4 194.6h1v1h-1zM59.6 205.6h1v1h-1zM72.7 202.5h1v1h-1zM72.9 223.3h1v1h-1zM57.1 202.6h1v1h-1zM78.7 202.4h1v1h-1zM61.7 217.6h1v1h-1zM74.6 206.9h1v1h-1zM60.9 210.0h1v1h-1zM51.2 211.3h1v1h-1zM89.7 204.0h1v1h-1zM63.3 192.1h1v1h-1zM61.7 187.3h1v1h-1zM74.6 213.6h1v1h-1zM71.5 211.5h1v1h-1zM88.8 217.3h1v1h-1zM66.7 218.7h1v1h-1zM54.7 218.2h1v1h-1zM59.0 198.5h1v1h-1zM43.9 190.8h1v1h-1zM63.9 191.5h1v1h-1zM59.2 206.9h1v1h-1zM44.4 209.6h1v1h-1zM80.0 204.0h1v1h-1zM66.4 207.3h1v1h-1zM72.6 210.2h1v1h-1zM62.3 208.6h1v1h-1zM76.5 227.8h1v1h-1zM79.6 227.3h1v1h-1zM62.8 197.3h1v1h-1zM45.8 215.8h1v1h-1zM72.4 208.7h1v1h-1zM60.6 208.7h1v1h-1zM71.2 207.3h1v1h-1zM68.0 206.3h1v1h-1zM45.3 233.3h1v1h-1zM85.2 204.8h1v1h-1zM50.0 204.5h1v1h-1zM55.7 218.8h1v1h-1zM75.1 216.2h1v1h-1zM84.0 219.8h1v1h-1zM71.3 204.6h1v1h-1zM59.8 201.9h1v1h-1zM67.3 208.5h1v1h-1zM60.0 200.7h1v1h-1zM60.4 203.8h1v1h-1zM92.7 221.4h1v1h-1zM74.4 225.5h1v1h-1zM56.4 188.9h1v1h-1zM61.6 205.7h1v1h-1zM59.8 224.0h1v1h-1zM60.2 211.1h1v1h-1zM47.8 201.7h1v1h-1zM42.6 199.6h1v1h-1zM42.4 217.4h1v1h-1zM76.2 225.2h1v1h-1zM67.3 192.7h1v1h-1zM75.4 217.2h1v1h-1zM51.5 202.1h1v1h-1zM84.4 221.6h1v1h-1zM61.4 192.0h1v1h-1zM65.1 202.7h1v1h-1zM65.8 225.7h1v1h-1zM67.1 190.1h1v1h-1zM61.8 212.4h1v1h-1zM66.2 209.4h1v1h-1zM64.7 190.3h1v1h-1zM66.8 201.1h1v1h-1zM55.4 208.2h1v1h-1zM67.2 195.9h1v1h-1zM70.3 191.3h1v1h-1zM82.8 204.4h1v1h-1zM52.6 192.7h1v1h-1zM75.9 196.9h1v1h-1zM51.6 206.4h1v1h-1zM63.3 210.2h1v1h-1zM87.7 194.0h1v1h-1zM70.4 225.6h1v1h-1zM48.7 228.1h1v1h-1zM68.3 219.8h1v1h-1zM52.7 204.2h1v1h-1zM48.5 233.1h1v1h-1zM51.6 211.4h1v1h-1zM77.6 200.6h1v1h-1zM67.1 210.5h1v1h-1zM77.2 216.4h1v1h-1zM54.5 206.1h1v1h-1zM68.1 213.7h1v1h-1zM66.2 242.7h1v1h-1zM53.7 210.9h1v1h-1zM54.2 203.2h1v1h-1z"/>
<path fill="#7a7a7a" d="M55.9 215.6h1v1h-1zM52.5 201.7h1v1h-1zM64.5 224.6h1v1h-1zM51.7 212.4h1v1h-1zM60.0 207.7h1v1h-1zM48.5 207.5h1v1h-1zM57.6 211.8h1v1h-1zM45.7 208.1h1v1h-1zM77.6 193.8h1v1h-1zM71.4 199.4h1v1h-1zM78.1 220.0h1v1h-1zM57.1 210.2h1v1h-1zM77.0 212.7h1v1h-1zM47.6 219.8h1v1h-1zM44.7 203.1h1v1h-1zM51.1 200.4h1v1h-1zM59.9 201.6h1v1h-1zM64.4 198.1h1v1h-1zM66.6 205.0h1v1h-1zM84.0 210.7h1v1h-1zM77.9 212.3h1v1h-1zM55.0 201.0h1v1h-1zM61.3 212.0h1v1h-1zM69.1 209.1h1v1h-1zM56.7 219.6h1v1h-1zM68.1 202.1h1v1h-1zM70.7 203.9h1v1h-1zM44.7 199.9h1v1h-1zM63.1 197.3h1v1h-1zM67.6 212.2h1v1h-1zM44.4 223.0h1v1h-1zM66.7 199.4h1v1h-1zM58.4 200.8h1v1h-1zM51.8 203.4h1v1h-1zM60.9 204.3h1v1h-1zM58.1 213.0h1v1h-1zM70.1 224.3h1v1h-1zM46.7 203.1h1v1h-1zM68.2 196.9h1v1h-1zM56.8 230.9h1v1h-1zM60.2 228.2h1v1h-1zM58.9 200.9h1v1h-1zM64.4 210.1h1v1h-1zM70.0 188.4h1v1h-1zM78.4 223.1h1v1h-1zM83.8 217.6h1v1h-1zM71.4 203.2h1v1h-1zM57.1 207.0h1v1h-1zM66.8 204.3h1v1h-1zM91.8 193.8h1v1h-1zM47.5 208.6h1v1h-1zM70.3 196.3h1v1h-1zM51.5 206.9h1v1h-1zM54.9 205.5h1v1h-1zM50.9 186.8h1v1h-1zM71.3 212.6h1v1h-1zM55.2 192.6h1v1h-1zM81.3 204.4h1v1h-1zM74.5 208.3h1v1h-1zM62.2 193.1h1v1h-1zM65.3 209.3h1v1h-1zM59.0 202.6h1v1h-1zM79.2 197.2h1v1h-1zM44.7 209.0h1v1h-1zM59.8 213.9h1v1h-1zM43.4 200.3h1v1h-1zM86.9 214.8h1v1h-1zM77.2 230.3h1v1h-1zM74.2 213.1h1v1h-1zM55.0 203.3h1v1h-1zM55.9 202.7h1v1h-1zM71.4 211.7h1v1h-1zM60.7 222.1h1v1h-1zM57.7 214.7h1v1h-1zM56.4 196.4h1v1h-1zM65.5 228.2h1v1h-1zM61.6 194.9h1v1h-1zM80.6 231.3h1v1h-1zM70.4 197.4h1v1h-1zM61.1 218.9h1v1h-1zM64.0 200.6h1v1h-1zM73.3 214.0h1v1h-1zM72.6 212.7h1v1h-1zM92.0 195.7h1v1h-1zM63.6 221.5h1v1h-1zM53.4 221.4h1v1h-1zM68.5 209.6h1v1h-1zM69.8 208.5h1v1h-1zM56.5 203.9h1v1h-1zM61.6 187.8h1v1h-1zM77.4 213.8h1v1h-1zM60.6 198.6h1v1h-1zM49.4 203.2h1v1h-1zM63.4 226.1h1v1h-1zM46.3 195.1h1v1h-1zM72.7 191.3h1v1h-1zM58.5 199.3h1v1h-1zM67.1 207.0h1v1h-1zM51.9 199.9h1v1h-1zM66.9 212.4h1v1h-1zM69.0 223.8h1v1h-1zM64.4 195.4h1v1h-1zM67.0 216.8h1v1h-1zM67.9 211.6h1v1h-1zM58.2 197.6h1v1h-1zM59.9 208.5h1v1h-1zM57.4 207.3h1v1h-1zM73.3 188.1h1v1h-1z"/>
<path fill="#3d8a4a" d="M58.5 205.6h1v1h-1zM71.1 217.9h1v1h-1zM48.5 229.1h1v1h-1zM46.4 220.1h1v1h-1zM63.4 211.8h1v1h-1zM54.2 230.3h1v1h-1zM63.6 196.0h1v1h-1zM66.3 216.0h1v1h-1zM48.3 216.2h1v1h-1zM60.5 213.1h1v1h-1zM77.2 218.6h1v1h-1zM69.4 205.3h1v1h-1zM84.0 203.7h1v1h-1zM58.1 208.8h1v1h-1zM84.4 201.1h1v1h-1zM61.7 225.6h1v1h-1zM65.7 203.9h1v1h-1zM78.3 191.7h1v1h-1zM62.7 213.3h1v1h-1zM53.0 211.6h1v1h-1zM46.4 209.8h1v1h-1zM56.4 190.5h1v1h-1zM69.1 209.6h1v1h-1zM55.2 185.8h1v1h-1zM66.4 225.3h1v1h-1zM55.3 206.0h1v1h-1zM51.8 197.9h1v1h-1zM60.0 196.2h1v1h-1zM41.8 215.3h1v1h-1zM46.6 220.3h1v1h-1zM73.9 194.4h1v1h-1zM74.4 230.0h1v1h-1zM65.6 193.1h1v1h-1zM52.7 197.0h1v1h-1zM75.2 220.8h1v1h-1zM72.2 215.1h1v1h-1zM65.1 210.4h1v1h-1zM61.6 217.7h1v1h-1zM53.0 200.5h1v1h-1zM58.2 205.8h1v1h-1zM62.0 208.6h1v1h-1zM80.2 193.7h1v1h-1zM58.1 204.2h1v1h-1zM81.6 211.9h1v1h-1zM76.8 203.0h1v1h-1zM56.8 211.4h1v1h-1zM83.0 209.9h1v1h-1zM67.7 212.5h1v1h-1zM82.5 221.3h1v1h-1zM48.3 188.1h1v1h-1zM58.3 196.3h1v1h-1zM65.5 218.3h1v1h-1zM63.9 198.3h1v1h-1zM77.2 195.7h1v1h-1zM64.1 216.8h1v1h-1zM60.5 193.4h1v1h-1zM56.0 208.0h1v1h-1zM62.9 206.6h1v1h-1zM64.3 217.0h1v1h-1zM48.9 210.4h1v1h-1zM81.6 201.8h1v1h-1zM60.2 197.8h1v1h-1zM58.5 209.9h1v1h-1zM66.3 200.8h1v1h-1zM52.9 206.8h1v1h-1zM92.4 225.3h1v1h-1zM61.8 198.2h1v1h-1zM58.9 198.2h1v1h-1zM63.4 210.9h1v1h-1zM62.8 212.4h1v1h-1zM71.6 201.0h1v1h-1zM54.9 198.0h1v1h-1zM61.0 193.8h1v1h-1zM66.1 208.8h1v1h-1zM69.1 223.2h1v1h-1zM51.6 203.9h1v1h-1zM56.5 218.0h1v1h-1zM58.8 207.7h1v1h-1zM46.1 197.2h1v1h-1z"/>
<path fill="#a8a8a8" d="M58.0 213.5h1v1h-1zM68.9 213.5h1v1h-1zM70.3 202.5h1v1h-1zM62.7 200.7h1v1h-1zM53.2 198.6h1v1h-1zM88.7 213.7h1v1h-1zM77.1 207.6h1v1h-1zM59.3 213.1h1v1h-1zM64.7 207.9h1v1h-1zM53.3 199.7h1v1h-1zM69.2 228.2h1v1h-1zM83.3 217.9h1v1h-1zM66.9 186.1h1v1h-1zM47.1 193.5h1v1h-1zM103.7 208.3h1v1h-1zM41.8 222.4h1v1h-1zM62.6 221.9h1v1h-1zM80.1 197.8h1v1h-1zM78.5 196.1h1v1h-1zM77.9 223.3h1v1h-1zM65.8 201.2h1v1h-1zM66.7 216.5h1v1h-1zM51.2 218.2h1v1h-1zM106.8 212.1h1v1h-1zM72.8 193.8h1v1h-1zM69.6 198.2h1v1h-1zM57.9 206.2h1v1h-1zM63.2 192.2h1v1h-1zM56.5 202.9h1v1h-1zM79.1 232.2h1v1h-1zM57.1 201.9h1v1h-1zM63.1 188.9h1v1h-1zM80.9 193.0h1v1h-1zM53.7 228.1h1v1h-1zM50.0 216.3h1v1h-1zM61.1 206.6h1v1h-1zM74.3 206.0h1v1h-1zM49.6 199.0h1v1h-1zM43.1 192.6h1v1h-1zM45.5 213.9h1v1h-1zM61.3 224.9h1v1h-1zM74.6 194.2h1v1h-1zM43.6 203.7h1v1h-1zM66.6 217.6h1v1h-1zM77.8 189.4h1v1h-1zM88.0 214.4h1v1h-1zM72.7 197.2h1v1h-1zM59.5 228.3h1v1h-1zM58.2 208.0h1v1h-1zM52.9 213.7h1v1h-1zM65.0 196.2h1v1h-1zM50.4 187.2h1v1h-1z"/>
<path fill="#9cc6a4" d="M65.7 208.0h1v1h-1zM81.4 203.6h1v1h-1zM76.5 217.7h1v1h-1zM49.7 196.5h1v1h-1zM46.5 196.9h1v1h-1zM75.2 224.5h1v1h-1zM78.1 233.1h1v1h-1zM60.3 197.4h1v1h-1zM72.7 202.8h1v1h-1zM60.0 188.2h1v1h-1zM61.0 205.9h1v1h-1zM61.5 211.3h1v1h-1zM63.8 192.6h1v1h-1zM68.8 208.8h1v1h-1zM75.0 200.6h1v1h-1zM63.8 204.2h1v1h-1zM64.2 209.0h1v1h-1zM49.2 211.6h1v1h-1zM61.2 208.9h1v1h-1zM64.2 210.0h1v1h-1zM70.5 190.2h1v1h-1zM80.9 209.0h1v1h-1zM73.5 190.5h1v1h-1zM55.8 226.4h1v1h-1zM45.5 210.7h1v1h-1zM65.0 206.7h1v1h-1zM70.3 205.2h1v1h-1zM61.7 222.0h1v1h-1zM70.2 221.1h1v1h-1zM74.3 211.6h1v1h-1zM64.8 197.8h1v1h-1zM75.8 238.7h1v1h-1zM56.9 223.5h1v1h-1zM76.6 213.4h1v1h-1zM47.0 214.5h1v1h-1zM59.6 198.7h1v1h-1zM79.4 221.9h1v1h-1zM68.8 190.9h1v1h-1zM72.3 197.1h1v1h-1zM51.9 195.3h1v1h-1zM79.9 217.8h1v1h-1zM60.1 222.9h1v1h-1zM76.6 216.2h1v1h-1zM42.1 202.8h1v1h-1zM75.0 199.8h1v1h-1zM59.0 195.0h1v1h-1zM85.9 201.0h1v1h-1zM57.0 214.6h1v1h-1zM47.3 196.6h1v1h-1zM59.1 193.7h1v1h-1zM73.1 221.6h1v1h-1zM65.2 199.1h1v1h-1zM59.3 200.5h1v1h-1zM79.3 216.1h1v1h-1z"/>
<path fill="#6aa874" d="M55.6 195.8h1v1h-1zM43.0 201.5h1v1h-1zM51.0 228.0h1v1h-1zM60.7 204.5h1v1h-1zM47.3 205.9h1v1h-1zM49.9 218.5h1v1h-1zM42.4 195.0h1v1h-1zM47.9 212.3h1v1h-1zM56.9 196.6h1v1h-1zM57.0 221.0h1v1h-1zM44.9 215.1h1v1h-1zM55.2 197.1h1v1h-1z"/>
<path fill="#7a7a7a" d="M48.4 190.4h1v1h-1zM46.3 227.7h1v1h-1zM59.9 214.8h1v1h-1zM47.3 213.1h1v1h-1zM52.0 195.3h1v1h-1zM59.7 189.2h1v1h-1zM53.1 219.6h1v1h-1zM48.2 195.1h1v1h-1zM54.2 208.8h1v1h-1zM47.0 192.8h1v1h-1zM53.7 212.1h1v1h-1zM60.4 219.4h1v1h-1zM57.4 217.0h1v1h-1zM53.8 227.8h1v1h-1zM47.7 195.2h1v1h-1zM56.3 229.1h1v1h-1zM49.3 194.5h1v1h-1zM52.4 221.3h1v1h-1zM49.3 210.6h1v1h-1zM53.4 220.7h1v1h-1zM58.2 220.9h1v1h-1zM52.8 194.0h1v1h-1zM56.4 189.5h1v1h-1zM43.1 193.3h1v1h-1zM49.2 196.4h1v1h-1zM59.3 214.9h1v1h-1zM60.2 216.6h1v1h-1zM60.5 230.5h1v1h-1zM51.0 189.5h1v1h-1zM58.1 218.5h1v1h-1zM44.7 214.2h1v1h-1zM49.6 224.3h1v1h-1zM57.6 210.1h1v1h-1z"/>
<path fill="#a8a8a8" d="M53.6 226.7h1v1h-1zM56.1 189.2h1v1h-1zM52.1 205.6h1v1h-1zM57.3 202.0h1v1h-1zM45.0 210.1h1v1h-1zM47.0 199.9h1v1h-1zM56.6 215.4h1v1h-1zM42.7 209.8h1v1h-1zM59.6 226.9h1v1h-1zM59.1 205.4h1v1h-1zM48.2 205.0h1v1h-1zM59.0 198.3h1v1h-1zM59.6 216.9h1v1h-1zM55.4 219.7h1v1h-1zM44.1 211.1h1v1h-1zM48.8 232.2h1v1h-1zM52.8 224.4h1v1h-1zM51.8 202.8h1v1h-1zM56.8 227.4h1v1h-1zM60.7 228.5h1v1h-1zM55.7 209.9h1v1h-1zM53.0 188.8h1v1h-1zM58.3 219.6h1v1h-1zM46.5 226.5h1v1h-1zM46.0 220.8h1v1h-1zM46.3 228.0h1v1h-1zM59.0 201.2h1v1h-1zM50.5 196.2h1v1h-1zM59.9 212.9h1v1h-1zM50.3 222.4h1v1h-1zM46.9 194.9h1v1h-1z"/>
<path fill="#3d8a4a" d="M46.5 205.7h1v1h-1zM45.2 213.9h1v1h-1zM51.4 228.2h1v1h-1zM45.7 229.2h1v1h-1zM48.0 196.0h1v1h-1zM52.9 198.8h1v1h-1zM50.2 207.5h1v1h-1zM43.9 195.5h1v1h-1zM56.7 189.6h1v1h-1zM56.6 211.1h1v1h-1zM50.9 198.7h1v1h-1zM47.6 230.9h1v1h-1zM49.9 230.0h1v1h-1zM48.2 216.7h1v1h-1zM58.9 230.3h1v1h-1zM46.5 206.7h1v1h-1zM47.0 215.5h1v1h-1zM60.5 199.6h1v1h-1zM43.4 226.4h1v1h-1zM49.6 205.1h1v1h-1z"/>
<path fill="#9cc6a4" d="M51.2 194.6h1v1h-1zM51.9 229.0h1v1h-1zM55.5 192.7h1v1h-1zM44.9 219.1h1v1h-1zM49.4 221.9h1v1h-1zM44.0 224.4h1v1h-1zM57.9 191.7h1v1h-1zM57.1 207.0h1v1h-1zM54.9 207.8h1v1h-1zM49.6 211.6h1v1h-1zM44.9 215.5h1v1h-1zM56.6 198.8h1v1h-1zM49.5 232.5h1v1h-1zM47.7 215.3h1v1h-1zM46.5 210.1h1v1h-1zM47.5 195.1h1v1h-1zM46.4 214.6h1v1h-1zM46.3 200.4h1v1h-1zM59.1 221.3h1v1h-1zM52.5 193.4h1v1h-1zM44.6 198.6h1v1h-1zM50.1 230.7h1v1h-1zM54.2 213.1h1v1h-1zM44.1 209.1h1v1h-1z"/>
<path fill="#1f6b2f" d="M52.7 216.2h1v1h-1zM52.1 226.6h1v1h-1zM49.1 212.1h1v1h-1zM49.4 207.6h1v1h-1zM46.3 244.1h1v1h-1zM55.5 212.0h1v1h-1zM49.9 237.3h1v1h-1zM50.2 232.9h1v1h-1zM55.5 216.5h1v1h-1zM46.7 243.9h1v1h-1zM47.6 217.3h1v1h-1zM51.8 222.7h1v1h-1zM53.0 232.0h1v1h-1zM53.6 206.5h1v1h-1zM50.9 212.9h1v1h-1zM50.6 212.3h1v1h-1zM49.1 221.4h1v1h-1zM58.0 215.9h1v1h-1zM49.2 214.3h1v1h-1zM51.4 239.8h1v1h-1zM48.2 239.5h1v1h-1zM53.3 238.6h1v1h-1zM46.5 229.7h1v1h-1zM45.8 221.9h1v1h-1zM50.4 228.9h1v1h-1zM48.6 228.3h1v1h-1zM52.2 206.3h1v1h-1zM48.5 229.7h1v1h-1zM49.5 218.2h1v1h-1zM45.7 242.1h1v1h-1zM53.3 206.6h1v1h-1zM54.3 214.0h1v1h-1zM50.3 214.9h1v1h-1zM45.9 244.8h1v1h-1zM46.8 225.9h1v1h-1zM46.5 229.3h1v1h-1zM46.0 205.6h1v1h-1zM50.0 219.8h1v1h-1zM52.0 219.1h1v1h-1zM49.0 229.9h1v1h-1zM52.2 210.7h1v1h-1zM55.6 213.4h1v1h-1zM48.6 237.6h1v1h-1zM48.2 215.7h1v1h-1zM52.3 239.6h1v1h-1zM54.4 234.2h1v1h-1zM44.3 229.3h1v1h-1zM47.3 209.7h1v1h-1zM48.8 231.6h1v1h-1zM42.7 210.8h1v1h-1zM48.2 228.7h1v1h-1zM50.2 224.7h1v1h-1zM62.5 204.7h1v1h-1zM55.8 209.9h1v1h-1zM50.9 215.4h1v1h-1zM52.0 226.9h1v1h-1zM51.9 228.9h1v1h-1zM49.3 235.9h1v1h-1zM54.7 233.9h1v1h-1zM52.8 238.3h1v1h-1zM52.3 214.4h1v1h-1zM51.9 223.1h1v1h-1zM49.9 222.9h1v1h-1zM50.7 243.8h1v1h-1zM48.6 203.9h1v1h-1zM48.3 217.6h1v1h-1zM54.9 226.9h1v1h-1zM47.4 207.6h1v1h-1zM48.8 240.3h1v1h-1zM51.5 242.8h1v1h-1zM43.7 220.0h1v1h-1zM52.1 231.1h1v1h-1zM50.3 242.9h1v1h-1zM49.7 241.4h1v1h-1zM48.5 223.5h1v1h-1zM47.2 234.5h1v1h-1zM47.0 212.3h1v1h-1zM50.1 208.6h1v1h-1zM44.4 219.2h1v1h-1zM55.6 237.2h1v1h-1zM52.8 221.2h1v1h-1zM54.0 241.0h1v1h-1zM51.5 205.6h1v1h-1zM47.3 235.6h1v1h-1zM49.3 234.5h1v1h-1zM51.3 239.5h1v1h-1zM44.9 207.2h1v1h-1zM51.4 212.8h1v1h-1zM46.6 237.2h1v1h-1zM55.0 208.1h1v1h-1zM53.9 216.7h1v1h-1zM51.8 217.4h1v1h-1zM46.6 232.9h1v1h-1zM47.3 234.1h1v1h-1zM48.8 235.6h1v1h-1zM47.7 222.5h1v1h-1zM50.6 219.3h1v1h-1zM52.2 219.8h1v1h-1zM53.6 222.9h1v1h-1zM51.0 207.7h1v1h-1zM50.6 241.6h1v1h-1zM52.3 205.1h1v1h-1zM52.2 227.9h1v1h-1zM48.5 223.2h1v1h-1zM49.6 210.0h1v1h-1zM52.3 223.8h1v1h-1zM50.3 216.2h1v1h-1zM48.8 205.0h1v1h-1zM41.7 234.4h1v1h-1zM50.0 240.0h1v1h-1zM49.1 218.8h1v1h-1zM51.1 241.5h1v1h-1zM50.7 218.4h1v1h-1zM51.0 233.7h1v1h-1z"/>
<path fill="#6aa874" d="M51.4 240.3h1v1h-1zM46.9 214.3h1v1h-1zM50.1 221.2h1v1h-1zM48.4 241.9h1v1h-1zM50.2 235.8h1v1h-1zM47.7 224.0h1v1h-1zM47.7 235.9h1v1h-1zM49.6 232.3h1v1h-1zM52.9 217.3h1v1h-1zM48.8 239.3h1v1h-1zM49.7 225.2h1v1h-1zM44.0 222.7h1v1h-1zM44.5 235.2h1v1h-1zM50.5 219.3h1v1h-1zM49.1 220.4h1v1h-1zM52.9 229.0h1v1h-1zM50.7 205.7h1v1h-1zM48.0 207.2h1v1h-1zM45.2 205.6h1v1h-1zM53.0 230.8h1v1h-1zM50.9 217.5h1v1h-1zM53.1 216.6h1v1h-1zM48.1 220.2h1v1h-1zM51.4 242.4h1v1h-1zM47.2 209.5h1v1h-1zM50.2 243.7h1v1h-1zM48.1 244.3h1v1h-1zM53.7 206.4h1v1h-1zM50.6 207.6h1v1h-1zM46.5 213.4h1v1h-1zM55.9 210.0h1v1h-1zM53.4 244.7h1v1h-1zM50.8 243.0h1v1h-1zM56.5 205.1h1v1h-1zM49.8 216.9h1v1h-1zM56.8 213.9h1v1h-1zM52.5 233.3h1v1h-1zM48.3 230.1h1v1h-1zM48.2 241.9h1v1h-1zM46.1 240.7h1v1h-1zM47.5 229.8h1v1h-1zM49.0 229.9h1v1h-1zM51.2 215.9h1v1h-1zM51.1 233.8h1v1h-1zM47.3 227.8h1v1h-1zM49.2 239.1h1v1h-1zM52.2 212.8h1v1h-1zM43.2 221.5h1v1h-1zM48.1 211.9h1v1h-1zM52.1 237.4h1v1h-1zM46.9 217.0h1v1h-1zM51.4 222.4h1v1h-1zM48.5 225.9h1v1h-1zM50.1 237.2h1v1h-1zM47.0 232.9h1v1h-1zM43.6 211.9h1v1h-1zM49.4 209.0h1v1h-1zM50.5 235.9h1v1h-1zM50.0 236.6h1v1h-1zM53.3 213.9h1v1h-1zM53.3 211.4h1v1h-1zM48.8 208.4h1v1h-1zM55.7 211.7h1v1h-1zM47.6 241.1h1v1h-1zM48.9 240.5h1v1h-1zM54.5 221.5h1v1h-1zM48.6 236.5h1v1h-1zM50.7 220.9h1v1h-1zM50.2 206.9h1v1h-1zM53.0 209.9h1v1h-1zM53.1 229.1h1v1h-1zM51.0 236.8h1v1h-1zM53.6 212.2h1v1h-1zM43.4 243.2h1v1h-1zM53.3 226.3h1v1h-1zM50.1 218.6h1v1h-1zM52.8 226.2h1v1h-1zM51.4 244.2h1v1h-1zM49.7 214.8h1v1h-1zM54.6 212.9h1v1h-1z"/>
<path fill="#2b7a3a" d="M44.4 242.0h1v1h-1zM48.2 211.9h1v1h-1zM54.6 204.7h1v1h-1zM54.7 220.7h1v1h-1zM51.4 228.6h1v1h-1zM50.2 213.9h1v1h-1zM47.7 225.3h1v1h-1zM44.7 207.1h1v1h-1zM51.2 240.2h1v1h-1zM46.0 230.8h1v1h-1zM52.7 212.3h1v1h-1zM51.2 215.6h1v1h-1zM46.0 231.3h1v1h-1zM47.7 227.6h1v1h-1zM47.4 244.5h1v1h-1zM51.4 220.1h1v1h-1zM55.6 205.2h1v1h-1zM47.3 229.9h1v1h-1zM47.7 239.5h1v1h-1zM55.4 213.0h1v1h-1zM50.1 217.2h1v1h-1zM46.8 221.5h1v1h-1zM48.5 218.5h1v1h-1zM50.4 223.8h1v1h-1zM53.9 206.2h1v1h-1zM44.9 223.9h1v1h-1zM50.7 212.7h1v1h-1zM51.6 212.8h1v1h-1zM47.3 230.0h1v1h-1zM50.5 245.3h1v1h-1zM51.8 207.8h1v1h-1zM50.8 229.4h1v1h-1zM55.6 214.9h1v1h-1zM51.3 239.5h1v1h-1zM47.9 207.8h1v1h-1zM45.3 244.7h1v1h-1zM51.0 222.8h1v1h-1zM48.0 245.1h1v1h-1zM51.8 233.0h1v1h-1zM47.1 228.1h1v1h-1zM47.0 229.0h1v1h-1zM48.9 236.2h1v1h-1zM49.9 216.0h1v1h-1zM50.2 244.1h1v1h-1zM53.3 222.1h1v1h-1zM49.5 235.5h1v1h-1zM51.7 214.9h1v1h-1zM51.9 218.6h1v1h-1zM49.0 219.7h1v1h-1zM49.7 225.9h1v1h-1zM52.6 240.5h1v1h-1zM47.7 238.8h1v1h-1zM50.5 244.9h1v1h-1zM54.6 215.9h1v1h-1zM50.7 229.1h1v1h-1zM51.1 216.7h1v1h-1zM52.0 237.9h1v1h-1zM45.8 219.9h1v1h-1zM47.5 222.2h1v1h-1zM45.5 209.7h1v1h-1zM53.4 204.8h1v1h-1zM44.3 215.4h1v1h-1zM48.3 224.0h1v1h-1zM52.0 217.3h1v1h-1zM50.8 236.7h1v1h-1zM54.9 211.0h1v1h-1zM52.9 217.3h1v1h-1zM53.4 216.1h1v1h-1zM50.2 205.0h1v1h-1zM52.7 214.7h1v1h-1zM49.1 229.9h1v1h-1zM51.6 228.8h1v1h-1zM53.2 206.9h1v1h-1zM50.9 232.0h1v1h-1zM50.6 230.2h1v1h-1zM52.7 243.9h1v1h-1zM52.9 219.3h1v1h-1zM48.3 233.5h1v1h-1zM50.6 226.3h1v1h-1zM45.3 231.2h1v1h-1zM48.6 244.1h1v1h-1zM45.8 240.9h1v1h-1zM53.9 209.4h1v1h-1zM52.1 230.1h1v1h-1zM51.5 210.6h1v1h-1zM46.4 208.8h1v1h-1zM50.0 242.1h1v1h-1zM46.6 227.8h1v1h-1zM49.4 230.9h1v1h-1zM46.4 244.0h1v1h-1zM48.4 211.3h1v1h-1zM48.9 213.1h1v1h-1zM57.4 214.5h1v1h-1zM50.4 236.9h1v1h-1zM53.3 205.8h1v1h-1zM50.9 227.0h1v1h-1zM41.6 236.3h1v1h-1zM45.9 225.0h1v1h-1z"/>
<path fill="#3d8a4a" d="M52.8 205.6h1v1h-1zM52.2 243.7h1v1h-1zM49.1 217.2h1v1h-1zM45.5 241.5h1v1h-1zM48.1 240.6h1v1h-1zM49.0 230.9h1v1h-1zM47.3 222.1h1v1h-1zM57.4 214.4h1v1h-1zM50.7 240.6h1v1h-1zM50.2 228.5h1v1h-1zM47.5 244.0h1v1h-1zM44.8 214.7h1v1h-1zM44.8 218.0h1v1h-1zM45.0 230.8h1v1h-1zM54.9 233.4h1v1h-1zM52.6 239.9h1v1h-1zM50.8 231.1h1v1h-1zM51.9 237.1h1v1h-1zM56.6 214.7h1v1h-1zM52.6 208.8h1v1h-1zM59.9 206.4h1v1h-1zM55.6 210.3h1v1h-1zM48.4 233.2h1v1h-1zM50.2 220.3h1v1h-1zM52.3 240.1h1v1h-1zM47.9 222.4h1v1h-1zM51.2 221.1h1v1h-1zM51.3 220.1h1v1h-1zM46.1 233.7h1v1h-1zM48.1 219.3h1v1h-1zM46.0 232.6h1v1h-1zM49.4 243.8h1v1h-1zM43.8 226.3h1v1h-1zM51.4 244.5h1v1h-1zM50.5 230.1h1v1h-1zM49.5 232.2h1v1h-1zM46.5 216.2h1v1h-1zM48.4 242.7h1v1h-1zM52.5 234.0h1v1h-1zM53.3 232.8h1v1h-1zM48.1 219.2h1v1h-1zM54.5 206.4h1v1h-1zM50.2 212.1h1v1h-1zM46.8 243.6h1v1h-1zM53.5 215.8h1v1h-1zM42.3 227.5h1v1h-1zM52.3 220.3h1v1h-1zM51.5 235.3h1v1h-1zM50.4 215.8h1v1h-1zM47.7 244.9h1v1h-1zM48.2 230.7h1v1h-1zM50.8 230.9h1v1h-1zM48.0 224.9h1v1h-1zM48.6 236.7h1v1h-1zM56.3 207.8h1v1h-1zM46.2 215.7h1v1h-1zM48.1 225.5h1v1h-1zM50.1 222.1h1v1h-1zM50.3 230.4h1v1h-1zM50.5 235.0h1v1h-1zM53.1 212.7h1v1h-1zM49.7 233.4h1v1h-1zM51.5 242.5h1v1h-1zM50.3 234.4h1v1h-1zM56.4 230.0h1v1h-1zM44.7 215.8h1v1h-1zM50.2 233.8h1v1h-1zM46.9 240.1h1v1h-1zM48.1 235.7h1v1h-1zM44.7 243.9h1v1h-1zM48.8 227.6h1v1h-1zM49.1 210.5h1v1h-1zM48.7 209.0h1v1h-1zM49.1 230.0h1v1h-1zM51.2 223.4h1v1h-1zM54.2 208.5h1v1h-1zM49.4 230.7h1v1h-1zM50.7 228.6h1v1h-1zM52.4 213.0h1v1h-1zM49.7 235.3h1v1h-1zM49.7 236.6h1v1h-1zM45.3 232.0h1v1h-1zM47.3 244.0h1v1h-1zM52.0 228.5h1v1h-1zM57.6 205.1h1v1h-1zM52.6 225.5h1v1h-1zM49.5 229.8h1v1h-1zM53.6 242.0h1v1h-1zM50.9 209.3h1v1h-1zM47.4 233.1h1v1h-1zM49.1 243.2h1v1h-1zM47.0 211.4h1v1h-1zM50.2 206.3h1v1h-1zM54.5 209.9h1v1h-1zM47.1 231.8h1v1h-1zM47.3 205.8h1v1h-1zM50.6 227.0h1v1h-1zM49.9 216.5h1v1h-1zM50.8 211.4h1v1h-1zM51.2 223.9h1v1h-1zM55.8 222.7h1v1h-1zM49.3 228.2h1v1h-1zM56.7 204.9h1v1h-1zM53.4 208.2h1v1h-1zM48.5 213.3h1v1h-1zM56.0 217.9h1v1h-1zM48.5 212.8h1v1h-1zM49.6 219.8h1v1h-1zM54.8 206.5h1v1h-1zM53.4 221.0h1v1h-1zM48.4 233.4h1v1h-1zM50.6 242.2h1v1h-1zM47.9 217.2h1v1h-1zM46.3 234.3h1v1h-1zM52.3 229.3h1v1h-1zM52.3 233.3h1v1h-1zM51.9 235.6h1v1h-1zM49.4 242.6h1v1h-1zM53.4 207.0h1v1h-1zM44.9 224.7h1v1h-1zM53.3 233.8h1v1h-1zM53.4 242.3h1v1h-1zM47.3 242.0h1v1h-1zM55.9 210.9h1v1h-1zM47.2 234.7h1v1h-1zM51.3 214.2h1v1h-1zM48.7 244.3h1v1h-1zM48.2 211.2h1v1h-1z"/>
<path fill="#2b7a3a" d="M44.4 231.4h1v1h-1zM49.5 240.1h1v1h-1zM52.0 231.2h1v1h-1zM56.7 238.5h1v1h-1zM44.2 237.1h1v1h-1zM54.5 238.4h1v1h-1zM46.7 234.3h1v1h-1zM45.2 237.9h1v1h-1zM48.7 237.7h1v1h-1zM46.2 234.6h1v1h-1zM57.1 237.4h1v1h-1zM48.8 235.2h1v1h-1zM52.7 236.2h1v1h-1zM49.3 237.5h1v1h-1zM50.6 228.6h1v1h-1zM48.6 237.9h1v1h-1zM50.3 230.4h1v1h-1zM46.7 232.0h1v1h-1zM48.4 241.8h1v1h-1zM44.3 237.4h1v1h-1zM48.6 234.8h1v1h-1zM50.6 242.7h1v1h-1zM43.3 236.8h1v1h-1zM54.0 234.5h1v1h-1zM53.3 236.2h1v1h-1zM49.5 244.0h1v1h-1zM47.6 239.0h1v1h-1zM49.8 237.1h1v1h-1zM48.9 227.5h1v1h-1zM47.4 240.5h1v1h-1zM49.7 232.4h1v1h-1zM60.4 236.7h1v1h-1zM55.6 240.2h1v1h-1zM48.9 227.0h1v1h-1zM43.9 243.2h1v1h-1zM49.3 231.3h1v1h-1zM51.9 222.7h1v1h-1zM49.7 239.3h1v1h-1zM44.3 238.6h1v1h-1zM47.5 241.7h1v1h-1zM51.7 239.0h1v1h-1zM46.6 235.0h1v1h-1zM47.7 235.3h1v1h-1zM45.6 226.5h1v1h-1zM46.8 239.1h1v1h-1zM50.1 232.7h1v1h-1zM45.5 239.2h1v1h-1zM49.8 232.0h1v1h-1zM52.8 236.4h1v1h-1zM49.6 238.8h1v1h-1zM48.7 239.7h1v1h-1zM49.2 229.0h1v1h-1zM47.4 237.3h1v1h-1zM52.8 239.2h1v1h-1zM53.5 237.4h1v1h-1zM50.1 236.4h1v1h-1zM50.7 231.5h1v1h-1zM45.6 233.3h1v1h-1zM46.5 229.4h1v1h-1zM45.0 232.6h1v1h-1zM46.7 236.4h1v1h-1zM48.0 229.0h1v1h-1zM46.8 245.7h1v1h-1zM50.9 237.0h1v1h-1zM54.7 235.0h1v1h-1zM55.9 240.7h1v1h-1zM48.6 235.9h1v1h-1zM58.3 242.4h1v1h-1zM41.7 236.5h1v1h-1zM49.2 235.7h1v1h-1zM46.7 239.0h1v1h-1zM44.7 238.4h1v1h-1zM48.3 238.3h1v1h-1zM44.7 237.8h1v1h-1zM44.8 229.4h1v1h-1zM55.8 239.6h1v1h-1zM48.4 245.0h1v1h-1zM44.8 234.5h1v1h-1zM50.6 239.6h1v1h-1zM43.9 234.0h1v1h-1zM44.5 232.9h1v1h-1zM46.6 233.3h1v1h-1zM47.4 241.0h1v1h-1zM47.0 233.4h1v1h-1zM47.7 242.8h1v1h-1zM52.2 232.1h1v1h-1zM50.5 235.3h1v1h-1zM49.1 242.3h1v1h-1zM48.1 239.1h1v1h-1zM48.8 234.0h1v1h-1zM49.3 241.4h1v1h-1zM47.0 242.6h1v1h-1zM47.1 243.1h1v1h-1zM51.9 233.3h1v1h-1zM50.5 234.3h1v1h-1zM43.4 242.4h1v1h-1zM44.9 241.1h1v1h-1zM53.7 240.1h1v1h-1zM52.9 236.9h1v1h-1zM48.5 235.9h1v1h-1zM55.5 246.7h1v1h-1zM47.9 242.0h1v1h-1zM49.3 241.2h1v1h-1zM52.5 225.8h1v1h-1zM44.2 229.6h1v1h-1zM52.5 235.9h1v1h-1zM54.1 230.8h1v1h-1zM48.6 236.4h1v1h-1zM54.7 237.6h1v1h-1zM56.4 241.9h1v1h-1zM48.0 240.6h1v1h-1zM42.8 238.5h1v1h-1zM45.2 233.6h1v1h-1zM46.5 233.0h1v1h-1zM52.8 244.2h1v1h-1zM49.1 227.6h1v1h-1zM46.9 241.6h1v1h-1zM56.7 243.7h1v1h-1zM59.2 242.7h1v1h-1zM44.4 233.6h1v1h-1zM43.2 241.9h1v1h-1zM50.6 233.7h1v1h-1zM47.2 239.9h1v1h-1zM46.9 232.6h1v1h-1zM51.7 232.7h1v1h-1zM51.6 237.7h1v1h-1zM45.5 239.6h1v1h-1zM50.1 237.5h1v1h-1zM46.8 236.3h1v1h-1zM52.5 242.1h1v1h-1zM52.2 236.8h1v1h-1zM49.4 241.5h1v1h-1zM50.5 237.7h1v1h-1zM48.6 238.3h1v1h-1zM56.4 241.2h1v1h-1zM51.3 236.4h1v1h-1zM48.3 243.2h1v1h-1zM46.7 234.9h1v1h-1zM43.3 235.2h1v1h-1zM48.0 232.0h1v1h-1zM49.7 226.8h1v1h-1zM47.4 234.1h1v1h-1zM47.0 236.9h1v1h-1zM45.0 242.2h1v1h-1zM50.0 246.4h1v1h-1zM48.6 233.5h1v1h-1zM50.2 241.0h1v1h-1zM56.3 236.8h1v1h-1zM51.9 231.7h1v1h-1zM45.1 230.1h1v1h-1zM52.1 234.5h1v1h-1zM53.6 242.8h1v1h-1zM48.2 237.8h1v1h-1zM46.2 229.0h1v1h-1z"/>
<path fill="#1f6b2f" d="M48.8 241.6h1v1h-1zM50.4 247.5h1v1h-1zM51.0 230.5h1v1h-1zM48.9 235.7h1v1h-1zM51.0 238.2h1v1h-1zM45.2 240.2h1v1h-1zM45.7 234.6h1v1h-1zM48.5 237.1h1v1h-1zM44.1 240.1h1v1h-1zM50.6 239.2h1v1h-1zM46.4 234.9h1v1h-1zM50.6 235.2h1v1h-1zM52.5 237.0h1v1h-1zM45.5 241.5h1v1h-1zM46.5 238.7h1v1h-1zM42.6 234.8h1v1h-1zM52.2 235.7h1v1h-1zM47.9 236.3h1v1h-1zM42.7 247.2h1v1h-1zM45.3 241.6h1v1h-1zM51.9 247.8h1v1h-1zM50.4 244.9h1v1h-1zM48.8 233.9h1v1h-1zM47.0 235.3h1v1h-1zM43.0 245.9h1v1h-1zM49.0 240.4h1v1h-1zM48.6 243.6h1v1h-1zM51.1 237.4h1v1h-1zM54.5 244.6h1v1h-1zM53.0 236.1h1v1h-1zM51.9 237.7h1v1h-1zM53.4 242.2h1v1h-1zM48.0 241.1h1v1h-1zM54.5 232.2h1v1h-1zM44.8 247.3h1v1h-1zM50.4 235.4h1v1h-1zM52.6 240.0h1v1h-1zM46.5 235.1h1v1h-1zM50.2 235.1h1v1h-1zM47.5 236.3h1v1h-1zM47.3 235.4h1v1h-1zM51.8 240.5h1v1h-1zM49.5 238.9h1v1h-1zM49.2 243.6h1v1h-1zM47.1 243.4h1v1h-1zM51.5 243.6h1v1h-1zM47.4 231.1h1v1h-1zM50.5 247.4h1v1h-1zM50.4 236.3h1v1h-1zM52.3 230.2h1v1h-1zM51.0 241.5h1v1h-1zM46.9 234.1h1v1h-1zM48.3 232.8h1v1h-1zM44.4 237.8h1v1h-1zM49.4 242.5h1v1h-1zM48.7 236.3h1v1h-1zM46.7 244.0h1v1h-1zM49.1 234.4h1v1h-1zM54.0 234.4h1v1h-1zM52.7 237.0h1v1h-1zM53.2 234.8h1v1h-1zM50.6 245.2h1v1h-1zM45.0 231.1h1v1h-1zM57.6 241.5h1v1h-1zM50.7 232.2h1v1h-1zM46.2 217.7h1v1h-1zM44.2 237.6h1v1h-1zM54.2 237.8h1v1h-1zM48.4 230.4h1v1h-1zM43.0 236.9h1v1h-1zM49.4 242.5h1v1h-1zM44.6 244.4h1v1h-1zM46.0 230.1h1v1h-1zM45.4 232.2h1v1h-1zM49.9 237.7h1v1h-1zM47.0 236.1h1v1h-1zM53.5 242.9h1v1h-1zM43.6 239.8h1v1h-1zM53.9 243.2h1v1h-1zM52.1 242.8h1v1h-1zM51.9 229.4h1v1h-1zM50.5 240.9h1v1h-1zM48.3 232.9h1v1h-1zM51.3 239.9h1v1h-1zM41.8 236.3h1v1h-1zM48.8 239.2h1v1h-1zM46.1 242.2h1v1h-1zM48.6 237.5h1v1h-1zM46.2 242.5h1v1h-1zM54.4 242.4h1v1h-1zM43.4 238.4h1v1h-1zM46.4 243.9h1v1h-1zM48.5 246.8h1v1h-1zM50.0 229.6h1v1h-1zM56.4 236.2h1v1h-1zM55.9 237.8h1v1h-1zM45.9 243.5h1v1h-1zM48.9 247.7h1v1h-1zM49.5 233.4h1v1h-1zM42.1 239.9h1v1h-1zM50.2 236.4h1v1h-1zM42.0 236.2h1v1h-1zM54.5 233.8h1v1h-1zM50.2 233.4h1v1h-1zM52.5 240.8h1v1h-1zM50.2 230.6h1v1h-1zM53.3 240.3h1v1h-1zM47.9 240.9h1v1h-1zM49.7 226.7h1v1h-1zM46.2 233.6h1v1h-1zM42.9 228.2h1v1h-1zM45.5 235.6h1v1h-1zM53.6 246.0h1v1h-1zM45.4 221.9h1v1h-1zM48.4 240.3h1v1h-1zM47.7 235.4h1v1h-1zM51.4 233.4h1v1h-1zM49.0 235.4h1v1h-1zM47.9 244.1h1v1h-1zM49.3 226.6h1v1h-1zM48.0 230.1h1v1h-1zM51.4 236.6h1v1h-1zM55.4 226.2h1v1h-1zM48.9 231.3h1v1h-1zM45.8 240.4h1v1h-1zM49.4 238.5h1v1h-1zM53.3 244.6h1v1h-1zM43.3 245.0h1v1h-1zM48.2 233.3h1v1h-1zM53.6 242.7h1v1h-1zM49.6 238.7h1v1h-1zM52.2 236.3h1v1h-1zM51.0 239.4h1v1h-1zM42.0 244.6h1v1h-1zM51.6 238.4h1v1h-1zM50.5 235.0h1v1h-1zM52.4 233.3h1v1h-1zM51.2 244.3h1v1h-1zM48.7 245.6h1v1h-1zM45.3 229.8h1v1h-1zM50.1 241.3h1v1h-1zM50.6 237.2h1v1h-1zM47.5 232.1h1v1h-1zM51.4 229.4h1v1h-1z"/>
<path fill="#3d8a4a" d="M49.1 242.4h1v1h-1zM43.3 237.1h1v1h-1zM52.3 237.8h1v1h-1zM50.7 245.4h1v1h-1zM46.6 239.4h1v1h-1zM52.0 237.4h1v1h-1zM50.9 241.5h1v1h-1zM49.5 246.4h1v1h-1zM47.0 243.3h1v1h-1zM54.7 243.7h1v1h-1zM48.6 242.7h1v1h-1zM45.8 237.4h1v1h-1zM49.3 234.5h1v1h-1zM46.4 245.9h1v1h-1zM56.0 243.1h1v1h-1zM49.5 233.0h1v1h-1zM47.8 232.1h1v1h-1zM43.0 232.8h1v1h-1zM46.2 227.5h1v1h-1zM48.6 232.4h1v1h-1zM45.8 238.1h1v1h-1zM44.2 239.5h1v1h-1zM51.6 229.9h1v1h-1zM46.9 230.8h1v1h-1zM49.9 228.8h1v1h-1zM43.1 236.1h1v1h-1zM44.2 237.8h1v1h-1zM48.8 236.3h1v1h-1zM52.0 242.5h1v1h-1zM51.4 242.0h1v1h-1zM47.2 236.3h1v1h-1zM52.0 241.4h1v1h-1zM46.1 240.3h1v1h-1zM56.5 237.1h1v1h-1zM43.7 240.2h1v1h-1zM47.9 241.8h1v1h-1zM46.8 239.5h1v1h-1zM52.7 235.7h1v1h-1zM43.9 244.4h1v1h-1zM46.4 236.4h1v1h-1zM51.0 247.2h1v1h-1zM50.1 242.2h1v1h-1zM47.9 231.1h1v1h-1zM56.1 246.6h1v1h-1zM44.8 231.3h1v1h-1zM49.0 235.0h1v1h-1zM49.9 230.3h1v1h-1zM45.5 244.3h1v1h-1zM47.5 228.7h1v1h-1zM51.2 238.5h1v1h-1zM43.5 226.1h1v1h-1zM48.8 240.8h1v1h-1zM42.9 240.7h1v1h-1zM49.4 244.4h1v1h-1zM47.1 235.4h1v1h-1zM53.3 237.3h1v1h-1zM55.3 243.3h1v1h-1zM44.8 236.7h1v1h-1zM47.9 246.3h1v1h-1zM43.8 235.8h1v1h-1zM46.3 244.0h1v1h-1zM54.4 239.1h1v1h-1zM52.4 239.1h1v1h-1zM51.1 235.9h1v1h-1zM46.5 230.5h1v1h-1zM57.2 235.8h1v1h-1zM46.2 234.7h1v1h-1zM49.9 234.7h1v1h-1zM53.1 223.8h1v1h-1zM55.2 234.7h1v1h-1zM49.5 230.3h1v1h-1zM54.8 236.8h1v1h-1zM46.4 238.6h1v1h-1zM43.3 246.0h1v1h-1zM44.1 236.5h1v1h-1zM46.8 232.1h1v1h-1zM46.1 232.1h1v1h-1zM48.2 242.7h1v1h-1zM52.2 231.2h1v1h-1zM50.4 244.7h1v1h-1zM45.0 232.0h1v1h-1zM43.5 241.9h1v1h-1zM53.0 239.6h1v1h-1zM51.4 239.2h1v1h-1zM44.1 244.2h1v1h-1zM50.8 237.5h1v1h-1zM47.9 238.5h1v1h-1zM49.0 247.7h1v1h-1zM52.9 239.4h1v1h-1zM50.6 233.3h1v1h-1zM52.3 240.5h1v1h-1zM52.7 239.5h1v1h-1zM43.8 234.4h1v1h-1zM47.9 240.6h1v1h-1zM53.5 224.5h1v1h-1zM47.4 235.8h1v1h-1zM48.7 230.5h1v1h-1zM51.4 231.0h1v1h-1zM48.9 240.0h1v1h-1zM52.4 243.8h1v1h-1zM49.5 247.4h1v1h-1zM46.9 236.9h1v1h-1zM47.2 236.3h1v1h-1zM45.2 235.5h1v1h-1zM49.3 243.0h1v1h-1zM53.5 238.8h1v1h-1zM47.4 233.6h1v1h-1zM44.7 232.2h1v1h-1zM46.9 243.7h1v1h-1zM51.8 241.8h1v1h-1zM53.4 241.6h1v1h-1zM48.9 239.0h1v1h-1zM45.8 242.6h1v1h-1zM48.3 239.8h1v1h-1zM48.6 236.4h1v1h-1zM49.3 235.1h1v1h-1zM50.7 240.9h1v1h-1zM53.5 230.1h1v1h-1zM48.3 227.8h1v1h-1z"/>
<path fill="#3d8a4a" d="M66.7 237.0h1v1h-1zM53.0 237.0h1v1h-1zM76.5 221.8h1v1h-1zM66.9 230.9h1v1h-1zM62.5 231.2h1v1h-1zM54.1 239.0h1v1h-1zM48.1 234.7h1v1h-1zM64.2 221.7h1v1h-1zM65.6 227.3h1v1h-1zM64.6 221.7h1v1h-1zM63.7 222.0h1v1h-1zM54.3 230.9h1v1h-1zM55.8 228.8h1v1h-1zM67.4 233.6h1v1h-1zM56.1 229.9h1v1h-1zM69.3 219.2h1v1h-1zM44.3 225.3h1v1h-1zM64.4 229.2h1v1h-1zM53.2 227.5h1v1h-1zM64.9 223.1h1v1h-1zM62.6 224.2h1v1h-1zM56.7 229.9h1v1h-1zM59.7 228.4h1v1h-1zM58.1 231.9h1v1h-1zM64.0 225.0h1v1h-1zM62.5 221.6h1v1h-1zM59.2 235.6h1v1h-1zM69.1 227.7h1v1h-1zM65.9 226.3h1v1h-1zM68.4 225.7h1v1h-1zM74.9 222.0h1v1h-1zM54.2 220.5h1v1h-1zM61.1 230.5h1v1h-1zM51.7 229.2h1v1h-1zM55.3 226.7h1v1h-1zM62.8 227.9h1v1h-1zM54.3 223.3h1v1h-1zM64.2 224.4h1v1h-1zM55.7 225.5h1v1h-1zM63.5 230.3h1v1h-1zM67.8 229.7h1v1h-1zM62.9 232.0h1v1h-1zM55.2 225.8h1v1h-1zM56.7 235.6h1v1h-1zM66.0 226.2h1v1h-1zM70.9 227.5h1v1h-1zM47.0 229.7h1v1h-1zM61.5 226.7h1v1h-1zM59.6 226.5h1v1h-1zM49.3 225.9h1v1h-1zM56.7 231.9h1v1h-1zM48.2 232.6h1v1h-1zM62.5 222.6h1v1h-1zM67.4 221.3h1v1h-1zM66.0 233.6h1v1h-1zM51.9 217.6h1v1h-1zM59.4 227.2h1v1h-1zM62.7 228.2h1v1h-1zM60.7 231.3h1v1h-1zM64.3 228.3h1v1h-1zM62.7 229.1h1v1h-1zM63.2 233.2h1v1h-1zM63.7 225.4h1v1h-1zM56.7 228.9h1v1h-1z"/>
<path fill="#a8a8a8" d="M47.9 211.8h1v1h-1zM65.8 221.1h1v1h-1zM62.5 224.1h1v1h-1zM62.6 230.5h1v1h-1zM62.6 229.6h1v1h-1zM57.0 218.2h1v1h-1zM58.9 228.2h1v1h-1zM71.9 230.3h1v1h-1zM50.1 225.0h1v1h-1zM59.9 234.8h1v1h-1zM60.2 221.2h1v1h-1zM63.1 220.2h1v1h-1zM58.2 221.4h1v1h-1zM50.4 236.2h1v1h-1zM51.1 225.6h1v1h-1zM65.1 224.7h1v1h-1z"/>
<path fill="#9cc6a4" d="M62.8 231.7h1v1h-1zM56.2 222.0h1v1h-1zM52.1 229.1h1v1h-1zM73.0 231.1h1v1h-1zM66.1 229.6h1v1h-1zM70.7 226.2h1v1h-1zM55.4 233.9h1v1h-1zM51.8 228.7h1v1h-1zM63.7 222.5h1v1h-1zM61.2 226.6h1v1h-1zM63.8 222.3h1v1h-1zM53.6 235.0h1v1h-1zM54.1 227.2h1v1h-1zM56.7 220.8h1v1h-1zM48.0 237.0h1v1h-1zM59.9 233.4h1v1h-1zM55.4 222.9h1v1h-1zM55.8 218.1h1v1h-1zM42.7 222.0h1v1h-1zM60.1 231.9h1v1h-1zM63.1 238.9h1v1h-1zM66.4 225.6h1v1h-1zM54.6 233.6h1v1h-1zM58.3 226.9h1v1h-1zM60.2 216.9h1v1h-1zM61.7 229.1h1v1h-1zM59.0 224.6h1v1h-1zM52.6 228.0h1v1h-1zM63.5 224.1h1v1h-1zM65.5 225.7h1v1h-1zM60.9 225.6h1v1h-1zM53.5 219.3h1v1h-1zM55.5 231.0h1v1h-1zM53.9 228.6h1v1h-1zM69.6 223.5h1v1h-1zM58.8 229.5h1v1h-1zM66.9 227.1h1v1h-1zM48.7 226.2h1v1h-1zM66.5 227.5h1v1h-1zM59.4 220.3h1v1h-1zM64.4 221.2h1v1h-1zM59.3 228.9h1v1h-1zM69.0 234.7h1v1h-1zM63.2 225.4h1v1h-1zM59.1 229.3h1v1h-1z"/>
<path fill="#6aa874" d="M65.5 222.7h1v1h-1zM72.9 222.3h1v1h-1zM62.4 227.7h1v1h-1zM60.8 225.7h1v1h-1zM53.0 228.3h1v1h-1zM58.7 226.5h1v1h-1zM57.9 229.5h1v1h-1zM59.5 220.4h1v1h-1zM57.7 223.8h1v1h-1zM62.6 222.2h1v1h-1zM61.3 229.0h1v1h-1zM62.0 222.4h1v1h-1zM65.5 222.8h1v1h-1zM42.7 227.6h1v1h-1zM46.2 233.8h1v1h-1zM61.3 220.2h1v1h-1zM63.9 232.1h1v1h-1zM46.2 226.2h1v1h-1zM60.9 219.6h1v1h-1zM56.9 223.3h1v1h-1zM58.6 220.9h1v1h-1zM59.8 223.0h1v1h-1zM66.3 225.8h1v1h-1zM69.8 237.0h1v1h-1zM61.8 225.2h1v1h-1zM75.1 224.5h1v1h-1zM64.6 221.0h1v1h-1zM60.0 225.4h1v1h-1zM65.6 229.1h1v1h-1zM65.6 227.1h1v1h-1zM64.2 226.0h1v1h-1zM61.7 217.0h1v1h-1zM57.7 226.4h1v1h-1zM55.5 223.8h1v1h-1zM55.7 228.4h1v1h-1zM58.0 233.0h1v1h-1zM56.3 234.5h1v1h-1zM57.2 221.8h1v1h-1zM58.4 233.9h1v1h-1zM53.2 223.2h1v1h-1zM65.6 231.1h1v1h-1zM59.4 226.5h1v1h-1zM66.3 218.5h1v1h-1zM70.4 224.5h1v1h-1zM67.4 228.7h1v1h-1zM63.4 226.2h1v1h-1zM70.0 222.1h1v1h-1zM64.7 226.1h1v1h-1zM68.7 220.9h1v1h-1zM66.1 236.3h1v1h-1zM53.0 232.4h1v1h-1zM65.7 230.4h1v1h-1zM60.5 234.8h1v1h-1zM72.8 227.3h1v1h-1z"/>
<path fill="#7a7a7a" d="M56.1 232.2h1v1h-1zM67.2 223.3h1v1h-1zM55.5 225.2h1v1h-1zM65.2 216.0h1v1h-1zM62.0 224.0h1v1h-1zM60.6 227.9h1v1h-1zM67.5 224.6h1v1h-1zM54.2 222.1h1v1h-1zM60.9 230.4h1v1h-1zM59.1 222.0h1v1h-1zM56.5 225.7h1v1h-1zM62.2 227.3h1v1h-1zM56.6 223.2h1v1h-1zM66.0 220.6h1v1h-1zM66.9 225.5h1v1h-1zM53.5 228.3h1v1h-1zM68.0 232.9h1v1h-1zM57.7 223.2h1v1h-1zM64.7 222.1h1v1h-1zM50.0 222.5h1v1h-1zM60.3 227.9h1v1h-1zM64.3 222.6h1v1h-1zM57.1 224.2h1v1h-1zM66.7 225.6h1v1h-1zM61.1 225.5h1v1h-1zM61.3 225.1h1v1h-1zM62.6 233.2h1v1h-1zM73.1 235.7h1v1h-1zM56.1 233.4h1v1h-1zM62.3 217.6h1v1h-1zM62.0 226.5h1v1h-1zM68.2 235.4h1v1h-1zM58.3 225.0h1v1h-1zM62.5 228.3h1v1h-1zM53.7 231.6h1v1h-1zM60.8 221.9h1v1h-1zM57.5 228.5h1v1h-1zM53.6 226.7h1v1h-1zM59.9 230.4h1v1h-1zM56.8 215.7h1v1h-1z"/>
<path fill="#3d8a4a" d="M94.1 226.7h1v1h-1zM47.8 246.1h1v1h-1zM96.3 228.8h1v1h-1zM97.7 225.2h1v1h-1zM81.2 232.6h1v1h-1zM71.4 239.0h1v1h-1zM60.4 244.7h1v1h-1zM88.9 230.7h1v1h-1zM71.8 232.6h1v1h-1zM92.8 223.7h1v1h-1zM98.2 223.1h1v1h-1zM92.3 227.8h1v1h-1zM81.0 230.7h1v1h-1zM64.9 237.4h1v1h-1zM76.2 237.0h1v1h-1zM70.6 242.3h1v1h-1zM81.0 234.7h1v1h-1zM63.3 235.6h1v1h-1zM64.7 237.7h1v1h-1zM87.4 230.4h1v1h-1zM76.9 233.1h1v1h-1zM83.4 235.1h1v1h-1zM85.9 235.8h1v1h-1zM88.5 230.5h1v1h-1zM67.8 237.8h1v1h-1zM85.7 239.1h1v1h-1zM65.1 236.4h1v1h-1zM82.4 233.8h1v1h-1zM73.0 238.8h1v1h-1zM96.0 230.1h1v1h-1zM70.1 239.8h1v1h-1zM57.0 237.9h1v1h-1zM67.6 239.3h1v1h-1zM54.4 234.8h1v1h-1zM90.7 232.3h1v1h-1zM65.3 237.9h1v1h-1zM49.4 245.0h1v1h-1zM67.2 234.9h1v1h-1zM48.2 246.7h1v1h-1zM69.6 235.2h1v1h-1zM92.4 226.3h1v1h-1zM54.2 240.1h1v1h-1zM73.8 232.4h1v1h-1zM56.1 245.2h1v1h-1zM93.2 226.9h1v1h-1zM54.3 237.6h1v1h-1zM76.9 237.3h1v1h-1zM75.2 234.3h1v1h-1zM93.8 231.2h1v1h-1zM54.8 238.2h1v1h-1zM84.5 231.8h1v1h-1zM67.4 240.1h1v1h-1zM75.4 232.2h1v1h-1zM66.6 241.4h1v1h-1zM80.1 230.7h1v1h-1zM87.5 232.2h1v1h-1zM93.8 228.4h1v1h-1zM68.8 229.4h1v1h-1zM70.1 241.5h1v1h-1zM70.7 239.5h1v1h-1zM57.1 244.3h1v1h-1zM83.1 232.7h1v1h-1zM85.4 231.4h1v1h-1zM61.2 241.8h1v1h-1zM99.8 228.6h1v1h-1zM66.2 238.9h1v1h-1zM72.2 236.3h1v1h-1zM81.9 230.1h1v1h-1zM96.7 227.3h1v1h-1zM81.7 239.6h1v1h-1zM100.3 226.4h1v1h-1zM86.3 231.4h1v1h-1zM58.7 241.3h1v1h-1zM94.8 225.3h1v1h-1zM79.9 229.3h1v1h-1zM78.0 235.3h1v1h-1zM48.0 240.7h1v1h-1zM63.3 234.6h1v1h-1zM56.5 244.3h1v1h-1zM56.9 246.9h1v1h-1zM63.1 236.3h1v1h-1zM84.2 228.7h1v1h-1zM81.8 234.5h1v1h-1zM91.5 232.1h1v1h-1zM45.1 237.6h1v1h-1zM59.4 237.3h1v1h-1zM46.3 241.2h1v1h-1zM66.9 240.3h1v1h-1zM91.2 229.0h1v1h-1zM76.1 236.9h1v1h-1zM53.9 235.2h1v1h-1zM100.1 224.5h1v1h-1zM83.6 229.8h1v1h-1zM78.9 233.1h1v1h-1zM97.4 224.6h1v1h-1zM55.8 241.6h1v1h-1zM98.9 227.0h1v1h-1zM98.9 226.3h1v1h-1zM77.1 237.4h1v1h-1zM66.1 240.7h1v1h-1zM64.0 237.4h1v1h-1zM86.7 229.6h1v1h-1zM89.9 228.4h1v1h-1zM76.5 239.7h1v1h-1zM62.8 238.9h1v1h-1zM90.3 229.3h1v1h-1zM79.6 232.7h1v1h-1zM61.1 240.4h1v1h-1zM65.6 237.7h1v1h-1zM89.7 225.3h1v1h-1zM50.7 241.5h1v1h-1zM49.0 247.5h1v1h-1zM48.8 247.7h1v1h-1zM94.2 227.0h1v1h-1zM76.0 235.4h1v1h-1zM90.1 231.9h1v1h-1zM50.4 243.2h1v1h-1zM52.6 236.6h1v1h-1zM64.5 239.2h1v1h-1zM71.0 240.0h1v1h-1zM55.5 241.3h1v1h-1zM69.5 231.0h1v1h-1zM52.1 244.9h1v1h-1zM53.6 247.6h1v1h-1zM81.9 236.2h1v1h-1zM86.3 225.9h1v1h-1zM72.5 232.2h1v1h-1zM68.3 243.9h1v1h-1zM65.8 241.3h1v1h-1zM73.1 234.3h1v1h-1zM89.5 232.6h1v1h-1zM75.9 232.8h1v1h-1zM59.3 237.1h1v1h-1zM79.9 232.2h1v1h-1zM80.8 231.5h1v1h-1zM81.7 232.0h1v1h-1zM64.8 236.1h1v1h-1zM91.4 229.6h1v1h-1zM86.1 229.0h1v1h-1zM72.4 233.2h1v1h-1zM54.9 241.2h1v1h-1zM91.5 230.9h1v1h-1zM69.3 237.5h1v1h-1zM99.1 228.7h1v1h-1zM61.6 238.0h1v1h-1zM87.4 226.7h1v1h-1zM56.6 235.3h1v1h-1zM71.1 233.8h1v1h-1zM53.9 247.7h1v1h-1zM86.8 230.1h1v1h-1zM72.7 236.2h1v1h-1zM98.8 225.1h1v1h-1zM58.5 242.5h1v1h-1zM77.2 234.1h1v1h-1zM75.4 235.7h1v1h-1zM77.1 228.2h1v1h-1zM76.2 242.3h1v1h-1zM69.4 239.2h1v1h-1zM94.8 222.7h1v1h-1zM53.1 240.1h1v1h-1zM67.2 244.1h1v1h-1zM78.6 235.5h1v1h-1zM50.5 243.4h1v1h-1zM96.7 223.8h1v1h-1zM84.3 231.8h1v1h-1zM99.5 226.6h1v1h-1zM55.5 246.4h1v1h-1zM77.7 238.9h1v1h-1zM63.1 246.1h1v1h-1zM56.4 236.8h1v1h-1zM76.3 232.6h1v1h-1zM52.5 242.5h1v1h-1zM83.7 233.0h1v1h-1zM49.0 243.9h1v1h-1zM97.3 230.2h1v1h-1zM96.4 225.3h1v1h-1zM57.0 243.8h1v1h-1zM74.2 236.6h1v1h-1zM94.6 227.2h1v1h-1zM99.8 223.6h1v1h-1zM67.9 233.6h1v1h-1zM84.9 233.2h1v1h-1zM82.8 234.9h1v1h-1zM67.7 229.7h1v1h-1zM64.2 234.3h1v1h-1zM87.5 233.4h1v1h-1zM69.1 239.2h1v1h-1zM59.8 236.2h1v1h-1zM99.5 225.5h1v1h-1zM88.5 226.0h1v1h-1zM67.7 239.0h1v1h-1zM95.8 224.8h1v1h-1zM64.4 233.9h1v1h-1zM77.3 230.3h1v1h-1zM92.9 230.4h1v1h-1zM72.4 238.2h1v1h-1zM88.8 225.8h1v1h-1zM48.6 245.0h1v1h-1zM77.0 237.2h1v1h-1zM47.1 236.3h1v1h-1zM97.0 229.5h1v1h-1zM97.5 225.1h1v1h-1zM87.9 231.1h1v1h-1zM80.9 231.4h1v1h-1zM88.7 229.8h1v1h-1zM49.3 247.7h1v1h-1zM53.0 236.8h1v1h-1zM80.3 233.2h1v1h-1zM91.7 227.1h1v1h-1zM67.9 236.9h1v1h-1zM64.2 238.5h1v1h-1zM80.6 230.2h1v1h-1zM57.3 237.2h1v1h-1zM80.3 228.2h1v1h-1zM58.9 238.4h1v1h-1zM100.0 225.7h1v1h-1zM57.7 240.4h1v1h-1zM75.8 236.0h1v1h-1zM91.6 231.3h1v1h-1zM96.7 225.5h1v1h-1zM66.2 234.3h1v1h-1zM49.0 240.4h1v1h-1zM84.1 231.0h1v1h-1zM61.3 242.5h1v1h-1zM96.1 224.8h1v1h-1zM101.4 226.0h1v1h-1zM95.3 224.9h1v1h-1zM89.5 230.7h1v1h-1zM100.7 226.2h1v1h-1zM78.9 233.1h1v1h-1zM77.9 237.5h1v1h-1zM90.8 229.6h1v1h-1zM86.2 233.4h1v1h-1zM62.1 240.8h1v1h-1zM69.8 233.4h1v1h-1zM58.3 246.0h1v1h-1zM73.0 233.7h1v1h-1zM49.8 242.7h1v1h-1zM97.8 223.8h1v1h-1zM70.8 240.7h1v1h-1zM72.8 233.7h1v1h-1zM55.1 238.9h1v1h-1zM77.3 237.8h1v1h-1zM66.9 235.6h1v1h-1zM82.5 228.7h1v1h-1zM88.4 234.9h1v1h-1zM88.3 231.4h1v1h-1zM68.0 238.2h1v1h-1zM63.5 241.8h1v1h-1zM95.6 223.1h1v1h-1zM100.8 225.1h1v1h-1zM93.7 225.8h1v1h-1zM81.0 234.6h1v1h-1zM91.2 227.5h1v1h-1zM71.7 243.4h1v1h-1zM98.7 225.9h1v1h-1zM78.3 230.0h1v1h-1zM59.7 247.0h1v1h-1zM98.3 223.9h1v1h-1zM95.6 226.9h1v1h-1zM63.0 235.6h1v1h-1zM73.3 232.3h1v1h-1zM87.2 227.2h1v1h-1zM66.4 237.8h1v1h-1zM50.0 246.5h1v1h-1zM99.2 224.5h1v1h-1zM72.1 234.8h1v1h-1zM67.2 236.9h1v1h-1zM99.5 227.6h1v1h-1zM59.6 237.4h1v1h-1zM76.4 232.8h1v1h-1zM50.4 240.0h1v1h-1zM70.8 234.7h1v1h-1zM87.5 230.3h1v1h-1zM76.4 236.8h1v1h-1zM92.1 227.8h1v1h-1zM78.2 232.3h1v1h-1zM99.0 225.1h1v1h-1z"/>
<path fill="#1f6b2f" d="M67.7 237.6h1v1h-1zM87.0 233.6h1v1h-1zM96.8 222.0h1v1h-1zM59.7 240.1h1v1h-1zM82.9 232.5h1v1h-1zM53.7 242.3h1v1h-1zM51.7 243.1h1v1h-1zM92.1 227.0h1v1h-1zM85.3 228.1h1v1h-1zM90.8 232.2h1v1h-1zM97.1 226.6h1v1h-1zM101.6 228.3h1v1h-1zM91.3 228.8h1v1h-1zM89.0 225.3h1v1h-1zM50.0 241.8h1v1h-1zM58.4 240.9h1v1h-1zM73.1 237.8h1v1h-1zM91.0 225.9h1v1h-1zM69.9 236.9h1v1h-1zM101.6 228.4h1v1h-1zM85.6 230.7h1v1h-1zM83.0 230.1h1v1h-1zM88.0 230.4h1v1h-1zM53.1 243.2h1v1h-1zM101.4 225.9h1v1h-1zM51.4 245.2h1v1h-1zM66.8 240.0h1v1h-1zM87.3 225.5h1v1h-1zM61.6 243.3h1v1h-1zM70.2 233.9h1v1h-1zM99.9 226.9h1v1h-1zM90.5 229.1h1v1h-1zM71.9 237.7h1v1h-1zM64.7 238.6h1v1h-1zM67.1 236.0h1v1h-1zM72.2 238.6h1v1h-1zM85.1 230.6h1v1h-1zM70.0 237.5h1v1h-1zM99.4 226.5h1v1h-1zM56.2 239.0h1v1h-1zM77.6 228.3h1v1h-1zM64.6 243.7h1v1h-1zM85.0 229.9h1v1h-1zM96.7 227.5h1v1h-1zM92.4 232.5h1v1h-1zM57.8 241.0h1v1h-1zM65.9 245.7h1v1h-1zM64.3 242.0h1v1h-1zM47.1 244.1h1v1h-1zM53.9 247.3h1v1h-1zM47.4 243.0h1v1h-1zM75.8 241.2h1v1h-1zM70.9 239.8h1v1h-1zM87.9 234.8h1v1h-1zM70.0 234.6h1v1h-1zM62.6 235.0h1v1h-1zM77.3 235.0h1v1h-1zM52.8 240.1h1v1h-1zM99.7 225.5h1v1h-1zM72.5 237.8h1v1h-1zM75.6 234.3h1v1h-1zM93.4 229.0h1v1h-1zM59.5 242.1h1v1h-1zM77.2 231.6h1v1h-1zM57.0 244.8h1v1h-1zM89.7 227.2h1v1h-1zM71.5 230.6h1v1h-1zM67.0 239.2h1v1h-1zM84.0 234.4h1v1h-1zM61.8 242.1h1v1h-1zM97.5 226.1h1v1h-1zM63.0 233.8h1v1h-1zM58.7 241.4h1v1h-1zM67.8 245.3h1v1h-1zM91.8 230.0h1v1h-1zM100.3 223.9h1v1h-1zM61.9 237.5h1v1h-1zM66.4 237.2h1v1h-1zM61.7 237.5h1v1h-1zM60.7 245.5h1v1h-1zM99.1 226.8h1v1h-1zM47.9 239.0h1v1h-1zM85.4 229.4h1v1h-1zM66.6 238.0h1v1h-1zM51.5 244.6h1v1h-1zM80.3 235.3h1v1h-1zM85.4 235.3h1v1h-1zM92.5 226.5h1v1h-1zM71.7 238.4h1v1h-1zM69.2 236.7h1v1h-1zM56.6 243.5h1v1h-1zM62.8 235.8h1v1h-1zM78.5 232.2h1v1h-1zM74.4 231.9h1v1h-1zM82.5 233.5h1v1h-1zM78.3 234.6h1v1h-1zM48.3 241.0h1v1h-1zM63.2 235.0h1v1h-1zM53.8 239.4h1v1h-1zM93.8 225.8h1v1h-1zM93.0 227.5h1v1h-1zM96.1 226.6h1v1h-1zM59.8 237.5h1v1h-1zM95.5 229.9h1v1h-1zM96.4 226.0h1v1h-1zM72.9 228.5h1v1h-1zM52.2 241.7h1v1h-1zM64.2 233.9h1v1h-1zM72.8 236.6h1v1h-1zM81.8 231.6h1v1h-1zM72.4 237.8h1v1h-1zM85.3 227.9h1v1h-1zM85.8 230.3h1v1h-1zM83.0 230.4h1v1h-1zM49.5 237.9h1v1h-1zM95.3 227.5h1v1h-1zM83.5 228.4h1v1h-1zM69.8 233.2h1v1h-1zM74.7 242.5h1v1h-1zM52.4 244.7h1v1h-1zM56.4 241.2h1v1h-1zM81.4 233.0h1v1h-1zM64.5 241.1h1v1h-1zM94.6 227.5h1v1h-1zM92.1 229.4h1v1h-1zM55.3 243.7h1v1h-1zM63.7 243.6h1v1h-1zM82.9 231.5h1v1h-1zM93.1 229.3h1v1h-1zM53.3 236.5h1v1h-1zM58.4 234.6h1v1h-1zM100.5 222.8h1v1h-1zM100.3 224.4h1v1h-1zM54.9 239.9h1v1h-1zM65.2 243.2h1v1h-1zM67.1 238.8h1v1h-1zM70.8 235.1h1v1h-1zM47.5 236.7h1v1h-1zM88.8 231.6h1v1h-1zM89.0 230.6h1v1h-1zM83.1 233.1h1v1h-1zM85.4 229.7h1v1h-1zM61.7 244.6h1v1h-1zM75.4 237.0h1v1h-1zM100.3 227.4h1v1h-1zM47.2 236.7h1v1h-1zM91.2 230.9h1v1h-1zM69.5 239.2h1v1h-1zM76.2 231.8h1v1h-1zM74.3 233.9h1v1h-1zM80.3 232.9h1v1h-1zM66.8 240.1h1v1h-1zM62.9 245.5h1v1h-1zM69.1 235.3h1v1h-1zM65.0 245.1h1v1h-1zM83.6 231.5h1v1h-1zM100.6 225.7h1v1h-1zM54.4 242.1h1v1h-1zM74.2 234.8h1v1h-1zM49.3 240.1h1v1h-1zM82.4 232.4h1v1h-1zM83.3 234.3h1v1h-1zM50.0 237.1h1v1h-1zM69.9 235.3h1v1h-1zM62.6 240.8h1v1h-1zM73.0 239.1h1v1h-1zM49.8 245.5h1v1h-1zM47.2 243.5h1v1h-1zM63.2 241.8h1v1h-1zM97.1 226.2h1v1h-1zM94.3 228.4h1v1h-1zM68.2 235.6h1v1h-1zM86.4 229.2h1v1h-1zM51.9 242.8h1v1h-1zM61.3 247.4h1v1h-1zM87.3 226.7h1v1h-1zM98.9 223.1h1v1h-1zM54.2 236.4h1v1h-1zM95.0 228.1h1v1h-1zM46.4 240.7h1v1h-1zM79.1 234.3h1v1h-1zM101.3 224.8h1v1h-1zM77.6 237.3h1v1h-1zM82.9 225.4h1v1h-1zM99.4 222.1h1v1h-1zM48.7 245.4h1v1h-1zM69.1 236.0h1v1h-1zM80.2 227.3h1v1h-1zM56.3 246.4h1v1h-1zM100.6 227.0h1v1h-1zM63.4 240.9h1v1h-1zM79.9 236.5h1v1h-1zM50.5 245.5h1v1h-1zM85.3 232.7h1v1h-1zM94.6 227.4h1v1h-1zM56.8 239.4h1v1h-1zM79.5 237.2h1v1h-1zM68.2 234.1h1v1h-1zM85.2 232.7h1v1h-1zM51.3 244.1h1v1h-1zM51.0 243.8h1v1h-1zM70.2 241.7h1v1h-1zM91.5 226.7h1v1h-1zM102.1 227.7h1v1h-1zM51.7 245.4h1v1h-1zM94.3 229.9h1v1h-1zM73.4 235.4h1v1h-1zM100.4 224.5h1v1h-1zM77.6 238.0h1v1h-1zM90.5 231.1h1v1h-1zM97.5 226.3h1v1h-1zM82.7 228.0h1v1h-1zM91.3 231.4h1v1h-1zM60.7 237.2h1v1h-1zM92.3 229.5h1v1h-1zM87.3 226.4h1v1h-1zM60.0 242.3h1v1h-1zM77.5 233.3h1v1h-1zM62.3 243.9h1v1h-1zM61.6 242.7h1v1h-1zM60.1 239.2h1v1h-1zM54.0 239.8h1v1h-1zM99.9 224.6h1v1h-1zM72.7 236.8h1v1h-1zM89.8 229.5h1v1h-1zM76.5 234.2h1v1h-1zM53.8 243.7h1v1h-1zM95.6 225.7h1v1h-1zM54.0 246.3h1v1h-1zM91.5 230.4h1v1h-1zM55.9 244.7h1v1h-1zM74.4 236.2h1v1h-1zM76.2 235.0h1v1h-1zM59.5 245.2h1v1h-1zM69.8 233.6h1v1h-1zM99.1 226.2h1v1h-1zM82.2 232.1h1v1h-1zM75.7 241.3h1v1h-1zM53.4 246.4h1v1h-1zM90.0 233.9h1v1h-1zM81.5 233.5h1v1h-1zM94.8 227.7h1v1h-1zM91.1 227.5h1v1h-1zM57.5 241.1h1v1h-1zM78.2 233.1h1v1h-1zM71.9 234.6h1v1h-1zM59.5 247.6h1v1h-1zM86.4 230.7h1v1h-1zM57.6 243.9h1v1h-1zM86.6 231.0h1v1h-1zM57.5 238.7h1v1h-1zM52.7 243.9h1v1h-1zM86.0 232.7h1v1h-1zM96.3 226.1h1v1h-1zM101.3 225.6h1v1h-1zM82.5 229.7h1v1h-1zM47.0 244.7h1v1h-1zM87.2 229.8h1v1h-1zM67.3 242.0h1v1h-1zM85.6 229.5h1v1h-1zM90.1 228.2h1v1h-1zM69.9 232.5h1v1h-1zM62.3 237.6h1v1h-1zM72.4 240.2h1v1h-1zM62.6 234.9h1v1h-1zM86.3 232.6h1v1h-1zM58.4 246.6h1v1h-1zM55.8 234.3h1v1h-1zM61.4 235.9h1v1h-1zM81.1 234.1h1v1h-1zM58.0 241.1h1v1h-1zM62.2 237.4h1v1h-1zM97.8 229.6h1v1h-1zM56.6 240.2h1v1h-1zM68.7 234.7h1v1h-1zM77.2 230.2h1v1h-1zM71.3 232.8h1v1h-1zM92.0 227.9h1v1h-1zM64.6 244.4h1v1h-1zM89.8 228.4h1v1h-1zM89.4 228.9h1v1h-1zM93.4 226.8h1v1h-1zM61.0 243.4h1v1h-1zM91.4 228.5h1v1h-1zM73.5 228.4h1v1h-1zM74.4 233.4h1v1h-1zM65.6 236.9h1v1h-1zM95.9 225.5h1v1h-1zM100.2 225.2h1v1h-1zM93.2 228.6h1v1h-1zM83.4 226.1h1v1h-1zM54.3 238.5h1v1h-1zM86.7 232.0h1v1h-1zM85.7 230.9h1v1h-1zM76.9 235.2h1v1h-1zM52.4 236.2h1v1h-1zM66.5 239.8h1v1h-1zM75.8 234.7h1v1h-1zM90.5 227.0h1v1h-1zM77.9 231.0h1v1h-1zM84.0 232.0h1v1h-1zM77.4 231.5h1v1h-1zM57.0 247.5h1v1h-1zM69.7 238.3h1v1h-1zM95.0 225.4h1v1h-1zM76.8 235.7h1v1h-1zM63.9 246.1h1v1h-1zM70.5 235.2h1v1h-1zM63.9 244.1h1v1h-1zM64.7 242.5h1v1h-1zM61.4 238.4h1v1h-1zM68.8 235.3h1v1h-1zM81.2 233.4h1v1h-1zM53.7 242.2h1v1h-1zM81.6 229.7h1v1h-1zM53.1 246.0h1v1h-1zM88.5 232.5h1v1h-1zM82.9 228.6h1v1h-1zM67.3 242.5h1v1h-1zM49.3 242.4h1v1h-1zM90.6 229.5h1v1h-1zM52.2 247.6h1v1h-1zM100.0 224.8h1v1h-1zM90.3 236.5h1v1h-1zM68.2 236.3h1v1h-1zM70.5 235.9h1v1h-1zM47.3 239.3h1v1h-1zM65.0 238.4h1v1h-1zM73.2 232.5h1v1h-1zM91.8 230.2h1v1h-1zM65.1 238.0h1v1h-1zM92.5 226.5h1v1h-1zM48.7 241.1h1v1h-1zM89.5 228.2h1v1h-1zM98.9 224.1h1v1h-1zM60.9 237.4h1v1h-1zM93.3 222.3h1v1h-1zM75.6 233.2h1v1h-1zM56.4 245.5h1v1h-1zM80.3 231.0h1v1h-1zM50.3 246.1h1v1h-1zM100.5 226.7h1v1h-1zM53.8 241.6h1v1h-1zM49.8 243.0h1v1h-1zM94.1 227.6h1v1h-1zM70.3 235.9h1v1h-1zM100.7 228.2h1v1h-1zM76.3 233.7h1v1h-1zM91.2 227.6h1v1h-1zM59.5 243.5h1v1h-1zM88.1 232.1h1v1h-1zM62.8 227.7h1v1h-1zM58.7 246.3h1v1h-1zM70.0 237.2h1v1h-1zM78.5 238.5h1v1h-1zM68.9 231.0h1v1h-1zM90.9 228.9h1v1h-1zM55.1 238.1h1v1h-1zM74.5 237.1h1v1h-1zM58.9 241.1h1v1h-1zM64.0 238.0h1v1h-1zM88.7 227.9h1v1h-1zM86.4 228.8h1v1h-1zM73.2 230.2h1v1h-1zM57.4 243.6h1v1h-1zM97.6 224.4h1v1h-1zM84.3 233.1h1v1h-1zM77.5 235.5h1v1h-1zM97.4 225.9h1v1h-1zM69.7 233.3h1v1h-1zM52.9 244.1h1v1h-1zM94.5 230.6h1v1h-1zM60.0 237.8h1v1h-1zM58.7 241.8h1v1h-1zM57.5 241.0h1v1h-1zM76.5 234.1h1v1h-1zM70.3 236.1h1v1h-1zM63.9 232.6h1v1h-1zM67.5 230.3h1v1h-1zM76.7 233.0h1v1h-1zM61.0 234.0h1v1h-1zM85.1 230.6h1v1h-1zM87.0 231.4h1v1h-1zM92.7 228.9h1v1h-1zM86.7 229.4h1v1h-1zM52.7 236.8h1v1h-1zM84.8 236.6h1v1h-1z"/>
<path fill="#2b7a3a" d="M79.3 232.9h1v1h-1zM99.6 225.0h1v1h-1zM65.5 241.2h1v1h-1zM79.8 228.6h1v1h-1zM91.7 228.4h1v1h-1zM67.8 238.9h1v1h-1zM75.7 238.0h1v1h-1zM94.1 225.2h1v1h-1zM68.3 242.8h1v1h-1zM81.8 233.7h1v1h-1zM54.2 242.9h1v1h-1zM96.8 225.5h1v1h-1zM60.0 239.5h1v1h-1zM52.2 241.1h1v1h-1zM95.4 225.7h1v1h-1zM85.0 225.2h1v1h-1zM99.0 225.6h1v1h-1zM57.0 245.2h1v1h-1zM85.1 235.4h1v1h-1zM63.8 241.6h1v1h-1zM67.5 241.0h1v1h-1zM47.0 244.2h1v1h-1zM58.9 246.2h1v1h-1zM80.0 232.0h1v1h-1zM101.0 227.0h1v1h-1zM102.0 227.6h1v1h-1zM97.4 225.3h1v1h-1zM61.4 234.3h1v1h-1zM87.9 231.1h1v1h-1zM77.5 231.9h1v1h-1zM52.8 239.3h1v1h-1zM66.2 234.8h1v1h-1zM68.5 228.3h1v1h-1zM90.9 227.8h1v1h-1zM89.3 228.3h1v1h-1zM51.6 241.3h1v1h-1zM83.6 230.7h1v1h-1zM85.1 232.5h1v1h-1zM58.5 235.4h1v1h-1zM79.5 234.8h1v1h-1zM89.9 227.6h1v1h-1zM63.2 231.7h1v1h-1zM90.6 225.3h1v1h-1zM71.1 244.1h1v1h-1zM79.6 230.3h1v1h-1zM88.7 231.0h1v1h-1zM58.0 242.0h1v1h-1zM95.5 232.8h1v1h-1zM94.9 225.4h1v1h-1zM81.8 238.1h1v1h-1zM97.5 229.0h1v1h-1zM88.1 234.2h1v1h-1zM62.6 242.4h1v1h-1zM82.4 234.0h1v1h-1zM76.3 228.9h1v1h-1zM66.3 234.4h1v1h-1zM93.7 231.5h1v1h-1zM101.1 225.7h1v1h-1zM74.6 238.0h1v1h-1zM82.5 233.5h1v1h-1zM91.8 231.9h1v1h-1zM46.4 241.4h1v1h-1zM88.0 229.9h1v1h-1zM88.9 229.3h1v1h-1zM86.6 234.2h1v1h-1zM68.5 235.4h1v1h-1zM52.2 246.3h1v1h-1zM82.4 233.6h1v1h-1zM67.8 237.5h1v1h-1zM84.2 228.1h1v1h-1zM75.9 239.8h1v1h-1zM71.5 235.5h1v1h-1zM72.8 239.2h1v1h-1zM58.5 244.3h1v1h-1zM50.6 244.5h1v1h-1zM96.1 225.8h1v1h-1zM60.1 241.8h1v1h-1zM57.8 239.5h1v1h-1zM70.9 233.4h1v1h-1zM92.7 226.9h1v1h-1zM68.0 235.7h1v1h-1zM48.7 245.7h1v1h-1zM47.3 244.9h1v1h-1zM55.4 242.3h1v1h-1zM62.9 231.6h1v1h-1zM68.9 232.1h1v1h-1zM48.7 243.1h1v1h-1zM52.5 246.3h1v1h-1zM70.8 236.1h1v1h-1zM72.8 234.0h1v1h-1zM46.7 236.5h1v1h-1zM48.1 247.3h1v1h-1zM94.4 228.4h1v1h-1zM79.4 233.1h1v1h-1zM63.1 236.3h1v1h-1zM96.0 229.4h1v1h-1zM80.6 229.3h1v1h-1zM74.4 230.6h1v1h-1zM94.9 231.0h1v1h-1zM93.7 228.7h1v1h-1zM64.8 243.0h1v1h-1zM61.4 239.1h1v1h-1zM64.0 239.1h1v1h-1zM92.2 230.3h1v1h-1zM81.6 232.9h1v1h-1zM92.8 224.0h1v1h-1zM78.8 230.8h1v1h-1zM60.7 243.0h1v1h-1zM73.8 238.1h1v1h-1zM83.4 236.3h1v1h-1zM69.7 240.3h1v1h-1zM92.2 232.7h1v1h-1zM81.0 229.5h1v1h-1zM46.9 239.1h1v1h-1zM64.3 243.2h1v1h-1zM81.1 228.9h1v1h-1zM84.0 231.3h1v1h-1zM81.9 232.2h1v1h-1zM80.9 235.1h1v1h-1zM61.8 238.0h1v1h-1zM55.9 246.9h1v1h-1zM87.2 227.3h1v1h-1zM82.0 234.9h1v1h-1zM53.3 239.8h1v1h-1zM53.4 246.2h1v1h-1zM48.5 239.3h1v1h-1zM89.7 225.8h1v1h-1zM69.1 235.2h1v1h-1zM97.4 223.3h1v1h-1zM76.5 231.3h1v1h-1zM95.2 226.8h1v1h-1zM79.7 234.8h1v1h-1zM79.8 233.7h1v1h-1zM79.6 232.1h1v1h-1zM72.0 236.0h1v1h-1zM73.0 233.8h1v1h-1zM82.3 232.2h1v1h-1zM76.2 233.0h1v1h-1zM91.5 230.3h1v1h-1zM69.2 236.6h1v1h-1zM100.0 225.9h1v1h-1zM71.5 240.5h1v1h-1zM71.5 240.1h1v1h-1zM101.5 225.3h1v1h-1zM55.4 240.6h1v1h-1zM96.5 229.6h1v1h-1zM82.1 236.6h1v1h-1zM66.8 233.3h1v1h-1zM51.7 244.9h1v1h-1zM61.8 238.0h1v1h-1zM66.4 232.2h1v1h-1zM62.0 235.5h1v1h-1zM80.3 230.6h1v1h-1zM80.2 230.7h1v1h-1zM78.0 232.1h1v1h-1zM101.8 226.9h1v1h-1zM86.0 229.1h1v1h-1zM99.8 224.9h1v1h-1zM49.7 244.6h1v1h-1zM60.7 237.4h1v1h-1zM65.8 239.6h1v1h-1zM47.6 244.5h1v1h-1zM83.7 229.0h1v1h-1zM76.8 240.6h1v1h-1zM55.1 236.9h1v1h-1zM75.9 232.9h1v1h-1zM57.1 244.9h1v1h-1zM99.5 226.9h1v1h-1zM53.5 244.1h1v1h-1zM64.0 244.6h1v1h-1zM101.1 226.2h1v1h-1zM53.0 239.8h1v1h-1zM67.7 234.9h1v1h-1zM97.7 220.3h1v1h-1zM91.2 230.7h1v1h-1zM55.4 236.1h1v1h-1zM61.5 245.4h1v1h-1zM88.8 233.1h1v1h-1zM83.5 229.2h1v1h-1zM80.4 234.8h1v1h-1zM98.1 229.6h1v1h-1zM73.8 237.7h1v1h-1zM54.9 239.9h1v1h-1zM95.2 224.9h1v1h-1zM100.3 223.9h1v1h-1zM62.3 240.3h1v1h-1zM57.2 235.8h1v1h-1zM61.5 238.5h1v1h-1zM63.4 237.2h1v1h-1zM60.6 240.8h1v1h-1zM85.7 235.1h1v1h-1zM80.9 228.4h1v1h-1zM51.5 244.0h1v1h-1zM72.4 243.7h1v1h-1zM91.8 226.9h1v1h-1zM47.8 241.8h1v1h-1zM65.1 230.7h1v1h-1zM62.5 239.2h1v1h-1zM67.0 240.5h1v1h-1zM73.9 239.4h1v1h-1zM53.9 240.0h1v1h-1zM97.6 225.4h1v1h-1zM58.5 242.0h1v1h-1zM64.6 236.8h1v1h-1zM99.1 229.0h1v1h-1zM91.2 226.6h1v1h-1zM69.9 236.4h1v1h-1zM55.3 243.1h1v1h-1zM75.7 232.3h1v1h-1zM56.1 241.2h1v1h-1zM79.6 230.9h1v1h-1zM96.6 227.1h1v1h-1zM94.5 229.8h1v1h-1zM77.4 238.4h1v1h-1zM59.1 239.2h1v1h-1zM75.2 232.9h1v1h-1zM88.3 231.1h1v1h-1zM90.2 229.1h1v1h-1zM70.7 240.1h1v1h-1zM69.9 239.2h1v1h-1zM77.8 239.2h1v1h-1zM73.2 235.0h1v1h-1zM63.4 244.0h1v1h-1zM71.9 231.7h1v1h-1zM64.5 242.6h1v1h-1zM51.0 245.3h1v1h-1zM98.3 225.9h1v1h-1zM78.2 231.1h1v1h-1zM62.1 236.4h1v1h-1zM69.9 235.5h1v1h-1zM57.9 237.5h1v1h-1zM54.8 235.4h1v1h-1zM73.4 238.9h1v1h-1zM76.9 236.9h1v1h-1zM75.5 238.6h1v1h-1zM66.8 237.7h1v1h-1zM73.6 236.0h1v1h-1zM53.2 246.3h1v1h-1zM65.5 234.3h1v1h-1zM90.2 230.1h1v1h-1zM88.5 234.8h1v1h-1zM79.9 233.8h1v1h-1zM100.5 225.8h1v1h-1zM67.5 232.2h1v1h-1zM51.7 242.5h1v1h-1zM52.9 244.4h1v1h-1zM97.1 228.1h1v1h-1zM60.4 245.3h1v1h-1zM79.4 234.8h1v1h-1zM97.4 230.3h1v1h-1zM62.1 243.7h1v1h-1zM81.1 234.2h1v1h-1zM88.7 227.3h1v1h-1zM73.4 237.1h1v1h-1zM92.5 230.2h1v1h-1zM66.2 236.9h1v1h-1zM102.2 229.0h1v1h-1zM86.6 228.7h1v1h-1zM57.4 243.9h1v1h-1zM62.6 236.1h1v1h-1zM84.7 232.5h1v1h-1zM64.1 244.3h1v1h-1zM65.9 242.3h1v1h-1zM82.5 231.0h1v1h-1zM92.0 232.2h1v1h-1zM99.4 225.4h1v1h-1zM97.2 223.0h1v1h-1zM89.0 233.6h1v1h-1zM100.0 226.3h1v1h-1zM62.4 240.4h1v1h-1zM65.9 237.0h1v1h-1zM49.3 247.1h1v1h-1zM98.3 225.8h1v1h-1zM88.7 232.8h1v1h-1zM66.0 238.1h1v1h-1zM72.2 231.2h1v1h-1zM99.2 226.5h1v1h-1zM50.3 237.8h1v1h-1zM49.1 240.8h1v1h-1zM89.9 226.2h1v1h-1zM62.4 242.7h1v1h-1zM86.4 233.2h1v1h-1zM57.0 247.7h1v1h-1zM50.2 243.3h1v1h-1zM97.5 222.9h1v1h-1zM64.7 237.8h1v1h-1zM71.3 239.9h1v1h-1zM60.7 242.9h1v1h-1zM63.8 243.2h1v1h-1zM93.4 229.3h1v1h-1zM86.8 230.8h1v1h-1zM67.6 237.6h1v1h-1zM54.5 238.6h1v1h-1zM96.4 227.8h1v1h-1zM96.8 226.6h1v1h-1zM55.5 231.4h1v1h-1zM80.4 231.5h1v1h-1zM92.1 227.8h1v1h-1zM96.5 229.1h1v1h-1zM88.9 234.0h1v1h-1zM49.7 247.4h1v1h-1zM57.5 241.2h1v1h-1zM77.2 233.2h1v1h-1zM99.2 226.5h1v1h-1zM98.1 226.7h1v1h-1zM66.6 233.3h1v1h-1zM52.6 241.5h1v1h-1zM56.7 243.6h1v1h-1zM62.2 236.6h1v1h-1zM91.4 224.1h1v1h-1zM59.0 243.5h1v1h-1zM90.0 228.3h1v1h-1zM84.7 231.6h1v1h-1zM67.2 241.3h1v1h-1zM63.5 239.5h1v1h-1zM61.6 242.8h1v1h-1zM87.0 232.1h1v1h-1zM77.9 232.0h1v1h-1zM52.8 245.7h1v1h-1zM91.2 230.1h1v1h-1zM87.4 225.6h1v1h-1zM86.1 231.5h1v1h-1zM54.9 242.2h1v1h-1zM48.3 238.4h1v1h-1zM58.7 246.6h1v1h-1zM84.5 230.4h1v1h-1zM51.0 242.7h1v1h-1zM95.4 226.9h1v1h-1zM93.1 228.2h1v1h-1zM96.0 229.4h1v1h-1zM101.1 224.1h1v1h-1zM49.9 245.0h1v1h-1zM58.5 235.2h1v1h-1zM82.8 231.2h1v1h-1zM100.8 225.2h1v1h-1zM51.5 241.0h1v1h-1zM95.0 227.9h1v1h-1zM66.7 235.7h1v1h-1zM82.9 229.8h1v1h-1zM101.7 226.4h1v1h-1zM87.4 223.0h1v1h-1zM84.2 227.7h1v1h-1zM50.6 243.0h1v1h-1zM65.2 238.2h1v1h-1zM64.5 235.1h1v1h-1zM56.8 244.8h1v1h-1zM70.8 240.4h1v1h-1zM80.7 235.3h1v1h-1zM62.2 241.5h1v1h-1zM69.5 238.7h1v1h-1zM97.2 225.7h1v1h-1zM72.9 236.8h1v1h-1zM57.4 240.1h1v1h-1zM53.2 238.4h1v1h-1zM91.2 231.9h1v1h-1zM76.6 233.8h1v1h-1zM85.5 231.4h1v1h-1zM89.0 229.0h1v1h-1zM50.5 241.0h1v1h-1zM94.7 228.6h1v1h-1zM99.8 224.9h1v1h-1zM45.8 235.7h1v1h-1zM64.1 241.6h1v1h-1zM46.5 242.2h1v1h-1zM88.4 228.2h1v1h-1zM101.7 225.5h1v1h-1zM65.6 236.5h1v1h-1zM77.0 238.6h1v1h-1zM94.5 232.1h1v1h-1zM77.8 230.6h1v1h-1zM76.4 230.8h1v1h-1zM93.1 227.2h1v1h-1zM85.1 234.5h1v1h-1zM86.3 228.6h1v1h-1zM86.1 233.1h1v1h-1zM96.1 230.6h1v1h-1zM89.3 230.5h1v1h-1zM48.6 241.2h1v1h-1zM78.1 239.4h1v1h-1zM50.6 245.7h1v1h-1zM67.9 242.1h1v1h-1zM87.3 228.1h1v1h-1zM48.2 237.9h1v1h-1zM77.6 230.6h1v1h-1zM93.8 227.2h1v1h-1zM59.8 242.0h1v1h-1zM76.4 235.1h1v1h-1zM71.4 242.7h1v1h-1zM63.4 240.4h1v1h-1zM78.6 229.3h1v1h-1zM57.4 244.7h1v1h-1zM77.2 235.0h1v1h-1zM95.7 229.9h1v1h-1zM86.8 228.9h1v1h-1zM100.1 223.2h1v1h-1zM62.4 241.0h1v1h-1zM71.8 236.2h1v1h-1zM66.2 238.8h1v1h-1zM77.1 234.2h1v1h-1zM51.0 241.8h1v1h-1z"/>
<path fill="#9cc6a4" d="M103.2 228.3h1v1h-1zM84.1 200.3h1v1h-1zM100.7 225.6h1v1h-1zM104.0 213.7h1v1h-1zM79.1 223.2h1v1h-1zM100.2 194.5h1v1h-1zM78.7 220.2h1v1h-1zM77.4 202.9h1v1h-1zM118.1 216.4h1v1h-1zM99.8 188.9h1v1h-1zM101.1 204.1h1v1h-1zM92.0 223.1h1v1h-1zM102.6 222.9h1v1h-1zM117.7 199.6h1v1h-1zM115.0 225.9h1v1h-1zM113.9 209.0h1v1h-1zM78.9 210.8h1v1h-1zM92.6 201.3h1v1h-1zM84.1 217.1h1v1h-1zM105.0 205.7h1v1h-1zM116.4 224.9h1v1h-1zM105.9 225.1h1v1h-1zM109.3 207.5h1v1h-1zM111.0 215.7h1v1h-1zM118.0 211.0h1v1h-1z"/>
<path fill="#6aa874" d="M98.2 198.7h1v1h-1zM110.1 188.8h1v1h-1zM106.2 218.7h1v1h-1zM105.5 227.0h1v1h-1zM114.4 218.9h1v1h-1zM96.0 207.3h1v1h-1zM109.8 193.5h1v1h-1zM101.7 227.3h1v1h-1zM115.6 213.1h1v1h-1zM88.5 199.5h1v1h-1zM116.2 193.8h1v1h-1zM111.4 223.9h1v1h-1zM92.4 211.1h1v1h-1zM89.6 215.8h1v1h-1zM94.9 226.0h1v1h-1zM103.9 200.4h1v1h-1zM111.6 217.2h1v1h-1zM91.1 226.4h1v1h-1zM102.4 205.0h1v1h-1zM79.0 218.8h1v1h-1zM99.2 224.5h1v1h-1zM104.1 193.5h1v1h-1zM100.6 209.3h1v1h-1zM87.5 208.3h1v1h-1zM115.3 222.8h1v1h-1zM116.4 206.0h1v1h-1zM82.3 221.0h1v1h-1z"/>
<path fill="#b8b8b8" d="M111.9 199.7h1v1h-1zM80.0 191.8h1v1h-1zM104.0 209.2h1v1h-1zM105.0 209.4h1v1h-1zM110.2 205.8h1v1h-1zM83.9 228.8h1v1h-1zM87.6 203.6h1v1h-1zM94.9 194.2h1v1h-1zM93.7 204.3h1v1h-1zM98.2 194.1h1v1h-1zM82.4 202.8h1v1h-1zM80.2 197.1h1v1h-1zM83.2 194.6h1v1h-1zM113.5 190.7h1v1h-1zM95.0 204.6h1v1h-1zM114.7 207.5h1v1h-1zM85.6 189.6h1v1h-1zM110.2 229.2h1v1h-1zM85.4 226.5h1v1h-1zM83.2 195.5h1v1h-1zM103.8 225.7h1v1h-1zM78.7 201.5h1v1h-1zM101.8 221.5h1v1h-1zM102.6 198.1h1v1h-1zM95.5 205.2h1v1h-1zM108.2 203.4h1v1h-1zM101.9 212.7h1v1h-1zM87.7 195.8h1v1h-1zM83.0 197.2h1v1h-1zM91.8 201.0h1v1h-1zM107.4 202.0h1v1h-1zM86.8 210.4h1v1h-1zM105.4 219.4h1v1h-1zM97.7 192.8h1v1h-1zM96.8 222.0h1v1h-1zM105.7 208.2h1v1h-1zM111.5 204.8h1v1h-1zM93.5 228.9h1v1h-1zM93.7 209.5h1v1h-1zM87.6 224.3h1v1h-1zM87.7 210.3h1v1h-1zM85.0 212.5h1v1h-1zM109.7 199.9h1v1h-1zM101.7 224.6h1v1h-1zM111.8 194.4h1v1h-1zM113.2 215.8h1v1h-1zM88.6 205.4h1v1h-1zM117.6 223.6h1v1h-1zM106.6 227.8h1v1h-1zM114.9 212.4h1v1h-1zM96.8 205.4h1v1h-1z"/>
<path fill="#8c8c8c" d="M86.8 199.7h1v1h-1zM87.9 199.1h1v1h-1zM92.6 228.8h1v1h-1zM97.4 220.5h1v1h-1zM85.5 202.6h1v1h-1zM81.5 192.7h1v1h-1zM79.8 216.1h1v1h-1zM90.1 214.3h1v1h-1zM113.5 214.0h1v1h-1zM97.6 217.5h1v1h-1zM101.2 211.5h1v1h-1zM114.3 202.8h1v1h-1zM78.9 217.0h1v1h-1zM114.0 189.5h1v1h-1zM79.1 209.4h1v1h-1zM84.4 221.2h1v1h-1zM108.1 215.2h1v1h-1zM94.3 205.3h1v1h-1zM115.5 215.8h1v1h-1zM109.2 198.3h1v1h-1zM105.9 188.8h1v1h-1zM115.0 197.3h1v1h-1zM91.8 190.0h1v1h-1zM110.4 217.1h1v1h-1zM97.6 192.7h1v1h-1zM115.1 224.9h1v1h-1zM115.0 204.1h1v1h-1zM84.7 199.2h1v1h-1zM83.2 225.6h1v1h-1zM81.8 196.0h1v1h-1zM77.9 224.9h1v1h-1zM98.4 190.0h1v1h-1zM94.1 206.5h1v1h-1zM104.3 221.7h1v1h-1zM93.0 200.5h1v1h-1zM111.3 201.0h1v1h-1zM97.4 199.0h1v1h-1zM110.4 225.2h1v1h-1zM78.8 189.0h1v1h-1zM117.5 226.3h1v1h-1zM93.8 200.8h1v1h-1zM77.8 189.9h1v1h-1zM99.2 217.2h1v1h-1zM89.6 219.0h1v1h-1zM104.5 197.4h1v1h-1zM86.2 204.6h1v1h-1zM107.8 197.4h1v1h-1zM104.9 222.2h1v1h-1zM106.1 216.6h1v1h-1zM109.3 192.2h1v1h-1zM97.5 218.6h1v1h-1zM87.7 210.6h1v1h-1zM111.5 191.2h1v1h-1zM100.7 211.4h1v1h-1zM80.6 191.4h1v1h-1zM88.9 197.8h1v1h-1zM116.8 223.7h1v1h-1zM101.3 194.3h1v1h-1zM98.2 192.2h1v1h-1zM109.2 195.3h1v1h-1zM78.0 196.6h1v1h-1zM100.2 213.1h1v1h-1zM115.7 206.1h1v1h-1zM115.1 196.3h1v1h-1zM109.8 227.2h1v1h-1z"/>
<path fill="#c0d8c6" d="M109.7 220.7h1v1h-1zM85.0 208.0h1v1h-1zM88.7 200.5h1v1h-1zM89.9 195.2h1v1h-1zM108.3 224.9h1v1h-1zM110.1 221.8h1v1h-1zM77.1 197.2h1v1h-1zM116.8 214.8h1v1h-1zM97.4 214.9h1v1h-1zM103.5 213.3h1v1h-1zM100.9 228.9h1v1h-1zM91.0 207.2h1v1h-1zM111.1 200.8h1v1h-1zM90.0 215.5h1v1h-1zM92.3 200.0h1v1h-1zM112.5 227.2h1v1h-1zM106.2 212.3h1v1h-1zM84.3 190.6h1v1h-1zM88.0 215.1h1v1h-1zM99.8 221.8h1v1h-1zM92.9 193.0h1v1h-1zM97.1 197.5h1v1h-1zM88.7 197.0h1v1h-1zM78.6 192.1h1v1h-1zM100.1 218.3h1v1h-1zM117.8 206.9h1v1h-1zM102.2 188.8h1v1h-1zM91.6 227.8h1v1h-1zM101.8 223.4h1v1h-1zM92.3 206.3h1v1h-1zM96.5 189.3h1v1h-1zM91.5 190.8h1v1h-1z"/>
<path fill="#e6bcbc" d="M107.1 207.1h1v1h-1zM109.8 200.5h1v1h-1zM87.7 219.8h1v1h-1zM79.6 198.7h1v1h-1zM111.2 201.0h1v1h-1zM105.9 209.1h1v1h-1zM91.3 200.2h1v1h-1zM78.4 214.2h1v1h-1zM83.6 199.6h1v1h-1zM79.7 213.6h1v1h-1zM112.2 197.5h1v1h-1zM108.6 202.3h1v1h-1zM79.7 221.0h1v1h-1zM98.4 208.6h1v1h-1zM81.9 209.8h1v1h-1zM82.5 205.9h1v1h-1zM97.8 221.9h1v1h-1zM82.0 208.4h1v1h-1zM100.0 210.6h1v1h-1zM95.6 218.2h1v1h-1z"/>
<polygon points="78.41,215.17 78.24,216.62 77.74,217.93 76.97,218.97 76.00,219.63 74.92,219.86 73.85,219.63 72.87,218.97 72.10,217.93 71.61,216.62 71.44,215.17 71.61,213.72 72.10,212.41 72.87,211.38 73.85,210.71 74.92,210.48 76.00,210.71 76.97,211.38 77.74,212.41 78.24,213.72" fill="#78b282"/>
<path fill="#3d8a4a" d="M74.9 211.7h1v1h-1zM74.5 214.5h1v1h-1zM75.3 217.1h1v1h-1zM75.3 214.2h1v1h-1zM76.1 214.8h1v1h-1zM73.0 218.2h1v1h-1zM73.3 214.5h1v1h-1z"/>
<path fill="#6aa874" d="M75.6 213.2h1v1h-1zM73.7 215.4h1v1h-1zM72.5 214.6h1v1h-1zM76.8 213.3h1v1h-1zM71.7 216.4h1v1h-1zM72.3 213.2h1v1h-1zM73.8 217.6h1v1h-1zM73.3 216.1h1v1h-1zM72.6 218.3h1v1h-1zM75.4 214.1h1v1h-1zM74.6 218.5h1v1h-1zM77.3 216.1h1v1h-1zM73.2 212.8h1v1h-1zM76.0 213.7h1v1h-1z"/>
<path fill="#2b7a3a" d="M74.3 212.0h1v1h-1zM76.0 213.8h1v1h-1zM75.5 217.9h1v1h-1zM71.2 213.4h1v1h-1zM71.3 214.0h1v1h-1zM72.9 214.1h1v1h-1zM76.2 217.3h1v1h-1zM75.1 210.9h1v1h-1zM71.6 216.0h1v1h-1z"/>
<polygon points="81.89,215.17 81.55,218.07 80.56,220.69 79.02,222.76 77.08,224.10 74.92,224.55 72.77,224.10 70.83,222.76 69.28,220.69 68.29,218.07 67.95,215.17 68.29,212.27 69.28,209.66 70.83,207.58 72.77,206.25 74.92,205.79 77.08,206.25 79.02,207.58 80.56,209.66 81.55,212.27" fill="none" stroke="#cc2a2a" stroke-width="1.5" stroke-linejoin="round"/>
<rect x="41.20" y="185.50" width="80.10" height="63.40" fill="none" stroke="#111" stroke-width="1.3"/>
<line x1="38.00" y1="248.90" x2="41.20" y2="248.90" stroke="#111" stroke-width="1.2" />
<text x="34.20" y="251.15" font-size="6.4" text-anchor="end" fill="#333" stroke="#333" textLength="3.50" lengthAdjust="spacingAndGlyphs" style="stroke-width:0.25px" >0</text>
<line x1="41.20" y1="248.90" x2="41.20" y2="252.10" stroke="#111" stroke-width="1.2" />
<text x="41.60" y="260.40" font-size="6.4" text-anchor="middle" fill="#333" stroke="#333" textLength="3.50" lengthAdjust="spacingAndGlyphs" style="stroke-width:0.25px" >0</text>
<line x1="38.00" y1="236.22" x2="41.20" y2="236.22" stroke="#111" stroke-width="1.2" />
<text x="34.20" y="238.47" font-size="6.4" text-anchor="end" fill="#333" stroke="#333" textLength="10.50" lengthAdjust="spacingAndGlyphs" style="stroke-width:0.25px" >200</text>
<line x1="57.22" y1="248.90" x2="57.22" y2="252.10" stroke="#111" stroke-width="1.2" />
<text x="57.62" y="260.40" font-size="6.4" text-anchor="middle" fill="#333" stroke="#333" textLength="10.50" lengthAdjust="spacingAndGlyphs" style="stroke-width:0.25px" >200</text>
<line x1="38.00" y1="223.54" x2="41.20" y2="223.54" stroke="#111" stroke-width="1.2" />
<text x="34.20" y="225.79" font-size="6.4" text-anchor="end" fill="#333" stroke="#333" textLength="10.50" lengthAdjust="spacingAndGlyphs" style="stroke-width:0.25px" >400</text>
<line x1="73.24" y1="248.90" x2="73.24" y2="252.10" stroke="#111" stroke-width="1.2" />
<text x="73.64" y="260.40" font-size="6.4" text-anchor="middle" fill="#333" stroke="#333" textLength="10.50" lengthAdjust="spacingAndGlyphs" style="stroke-width:0.25px" >400</text>
<line x1="38.00" y1="210.86" x2="41.20" y2="210.86" stroke="#111" stroke-width="1.2" />
<text x="34.20" y="213.11" font-size="6.4" text-anchor="end" fill="#333" stroke="#333" textLength="10.50" lengthAdjust="spacingAndGlyphs" style="stroke-width:0.25px" >600</text>
<line x1="89.26" y1="248.90" x2="89.26" y2="252.10" stroke="#111" stroke-width="1.2" />
<text x="89.66" y="260.40" font-size="6.4" text-anchor="middle" fill="#333" stroke="#333" textLength="10.50" lengthAdjust="spacingAndGlyphs" style="stroke-width:0.25px" >600</text>
<line x1="38.00" y1="198.18" x2="41.20" y2="198.18" stroke="#111" stroke-width="1.2" />
<text x="34.20" y="200.43" font-size="6.4" text-anchor="end" fill="#333" stroke="#333" textLength="10.50" lengthAdjust="spacingAndGlyphs" style="stroke-width:0.25px" >800</text>
<line x1="105.28" y1="248.90" x2="105.28" y2="252.10" stroke="#111" stroke-width="1.2" />
<text x="105.68" y="260.40" font-size="6.4" text-anchor="middle" fill="#333" stroke="#333" textLength="10.50" lengthAdjust="spacingAndGlyphs" style="stroke-width:0.25px" >800</text>
<line x1="38.00" y1="185.50" x2="41.20" y2="185.50" stroke="#111" stroke-width="1.2" />
<text x="34.20" y="187.75" font-size="6.4" text-anchor="end" fill="#333" stroke="#333" textLength="14.00" lengthAdjust="spacingAndGlyphs" style="stroke-width:0.25px" >1000</text>
<line x1="121.30" y1="248.90" x2="121.30" y2="252.10" stroke="#111" stroke-width="1.2" />
<text x="121.70" y="260.40" font-size="6.4" text-anchor="middle" fill="#333" stroke="#333" textLength="14.00" lengthAdjust="spacingAndGlyphs" style="stroke-width:0.25px" >1000</text>
<text x="81.75" y="272.70" font-size="8.8" text-anchor="middle" fill="#333" stroke="none" font-weight="bold" textLength="11.00" lengthAdjust="spacingAndGlyphs" >FSC</text>
<text x="13.80" y="217.20" font-size="8.8" text-anchor="middle" fill="#333" stroke="none" font-weight="bold" textLength="11.20" lengthAdjust="spacingAndGlyphs" transform="rotate(-90 13.80 217.20)" >SSC</text>
<text x="219.45" y="170.80" font-size="7.3" text-anchor="middle" fill="#222" stroke="#222" textLength="54.50" lengthAdjust="spacingAndGlyphs" >E-selectin-bound</text>
<text x="219.65" y="179.80" font-size="7.3" text-anchor="middle" fill="#222" stroke="#222" textLength="101.50" lengthAdjust="spacingAndGlyphs" >peripheral blood leukocytes (5)</text>
<path fill="#9cc6a4" d="M187.9 204.2h1v1h-1zM225.6 239.3h1v1h-1zM216.6 204.8h1v1h-1zM235.3 203.2h1v1h-1zM231.1 199.8h1v1h-1zM207.7 220.5h1v1h-1zM200.1 213.3h1v1h-1zM210.1 242.2h1v1h-1zM206.0 233.0h1v1h-1zM213.4 195.7h1v1h-1zM222.9 224.6h1v1h-1zM203.2 242.4h1v1h-1zM207.2 195.2h1v1h-1zM216.6 211.8h1v1h-1zM209.5 227.7h1v1h-1zM211.7 199.2h1v1h-1zM208.9 245.0h1v1h-1zM212.6 236.6h1v1h-1zM210.4 229.4h1v1h-1zM206.5 222.7h1v1h-1zM217.3 209.4h1v1h-1zM211.2 221.6h1v1h-1zM218.7 197.7h1v1h-1zM206.0 228.0h1v1h-1zM190.1 226.9h1v1h-1zM200.9 215.2h1v1h-1zM221.6 200.7h1v1h-1zM216.2 228.2h1v1h-1zM213.8 221.7h1v1h-1zM211.0 211.3h1v1h-1z"/>
<path fill="#8c8c8c" d="M226.8 223.1h1v1h-1zM218.2 209.2h1v1h-1zM224.4 208.8h1v1h-1zM205.4 234.3h1v1h-1zM223.8 216.2h1v1h-1zM208.2 212.7h1v1h-1zM225.0 200.0h1v1h-1zM223.3 228.7h1v1h-1zM218.2 212.1h1v1h-1zM218.5 210.1h1v1h-1zM216.3 219.5h1v1h-1zM219.6 208.2h1v1h-1zM226.9 219.3h1v1h-1zM195.4 226.3h1v1h-1zM212.0 243.6h1v1h-1zM218.1 224.5h1v1h-1zM212.3 241.1h1v1h-1zM200.6 240.9h1v1h-1z"/>
<path fill="#6aa874" d="M232.7 224.4h1v1h-1zM217.0 229.3h1v1h-1zM218.4 214.6h1v1h-1zM227.1 204.0h1v1h-1zM208.9 206.1h1v1h-1zM199.0 210.3h1v1h-1zM214.5 227.9h1v1h-1zM214.8 224.5h1v1h-1zM217.1 219.7h1v1h-1zM208.9 237.0h1v1h-1zM201.5 216.6h1v1h-1zM224.4 220.8h1v1h-1zM204.0 227.1h1v1h-1zM201.8 216.9h1v1h-1zM191.6 213.1h1v1h-1zM194.0 216.7h1v1h-1zM215.8 219.9h1v1h-1zM202.7 246.9h1v1h-1zM215.4 202.5h1v1h-1zM218.8 239.8h1v1h-1zM216.9 202.2h1v1h-1zM203.3 237.0h1v1h-1zM221.8 189.0h1v1h-1zM200.6 208.5h1v1h-1zM212.2 231.1h1v1h-1zM220.0 211.9h1v1h-1zM212.3 222.2h1v1h-1zM221.9 201.3h1v1h-1zM203.8 244.4h1v1h-1zM245.4 198.2h1v1h-1zM226.5 221.4h1v1h-1zM198.1 245.3h1v1h-1zM221.4 213.7h1v1h-1zM201.9 229.9h1v1h-1zM221.9 222.9h1v1h-1zM218.0 219.8h1v1h-1zM223.7 228.1h1v1h-1zM208.0 229.7h1v1h-1zM199.3 222.8h1v1h-1zM213.6 223.8h1v1h-1zM193.4 239.4h1v1h-1zM206.2 244.5h1v1h-1zM214.1 210.6h1v1h-1zM222.3 211.5h1v1h-1zM220.0 223.3h1v1h-1zM211.3 197.7h1v1h-1zM201.0 221.1h1v1h-1zM219.5 221.8h1v1h-1zM225.1 221.3h1v1h-1zM219.2 223.4h1v1h-1zM210.5 226.0h1v1h-1zM221.6 192.0h1v1h-1zM213.6 197.1h1v1h-1zM216.9 195.3h1v1h-1zM221.8 223.2h1v1h-1zM206.1 222.5h1v1h-1zM209.4 194.1h1v1h-1z"/>
<path fill="#3d8a4a" d="M221.6 197.6h1v1h-1zM215.4 228.8h1v1h-1zM207.6 241.7h1v1h-1zM211.4 235.1h1v1h-1zM223.0 214.4h1v1h-1zM226.7 216.5h1v1h-1zM200.0 221.4h1v1h-1zM216.8 226.2h1v1h-1zM196.3 204.9h1v1h-1zM207.6 219.3h1v1h-1zM209.3 232.4h1v1h-1zM224.4 211.6h1v1h-1zM215.2 228.9h1v1h-1zM220.7 234.2h1v1h-1zM205.8 234.8h1v1h-1zM186.4 233.3h1v1h-1zM223.6 229.8h1v1h-1zM223.3 197.4h1v1h-1zM242.2 219.9h1v1h-1zM216.2 235.6h1v1h-1zM211.2 238.6h1v1h-1z"/>
<path fill="#c0d8c6" d="M244.0 215.7h1v1h-1zM205.7 208.0h1v1h-1zM208.9 221.5h1v1h-1zM199.4 239.8h1v1h-1zM213.7 203.7h1v1h-1zM212.4 243.9h1v1h-1zM212.5 223.2h1v1h-1zM201.9 229.2h1v1h-1zM221.5 209.5h1v1h-1zM194.9 220.7h1v1h-1zM223.4 225.0h1v1h-1zM229.9 225.9h1v1h-1zM202.5 203.2h1v1h-1zM212.6 226.2h1v1h-1zM214.4 233.0h1v1h-1zM225.5 230.3h1v1h-1zM210.5 230.1h1v1h-1zM208.7 217.8h1v1h-1zM230.1 218.0h1v1h-1zM201.4 238.0h1v1h-1zM224.7 209.1h1v1h-1zM195.6 228.7h1v1h-1zM200.9 247.7h1v1h-1zM217.6 198.7h1v1h-1zM200.4 227.3h1v1h-1zM219.7 209.2h1v1h-1zM210.7 227.7h1v1h-1zM214.0 191.6h1v1h-1z"/>
<path fill="#b8b8b8" d="M215.7 221.3h1v1h-1zM194.5 213.8h1v1h-1zM216.0 226.6h1v1h-1zM199.2 226.0h1v1h-1zM223.7 208.2h1v1h-1zM187.6 222.0h1v1h-1zM211.9 208.6h1v1h-1zM206.4 197.9h1v1h-1zM221.1 226.8h1v1h-1zM218.2 223.5h1v1h-1zM196.0 214.6h1v1h-1zM203.0 229.3h1v1h-1zM205.2 220.6h1v1h-1zM200.0 232.2h1v1h-1zM211.1 208.3h1v1h-1zM215.8 188.9h1v1h-1zM226.5 216.7h1v1h-1zM201.1 236.5h1v1h-1zM221.8 245.8h1v1h-1zM214.2 229.7h1v1h-1zM211.0 210.3h1v1h-1zM223.9 222.3h1v1h-1zM203.2 212.4h1v1h-1zM202.6 215.4h1v1h-1zM209.7 220.9h1v1h-1zM203.9 214.7h1v1h-1zM219.0 234.9h1v1h-1zM230.9 192.9h1v1h-1zM214.8 211.0h1v1h-1zM201.9 221.9h1v1h-1zM238.2 204.0h1v1h-1z"/>
<path fill="#e6bcbc" d="M190.8 222.9h1v1h-1zM215.6 209.5h1v1h-1zM201.3 245.1h1v1h-1zM193.2 225.8h1v1h-1zM219.5 199.2h1v1h-1z"/>
<path fill="#6aa874" d="M209.9 224.5h1v1h-1zM195.6 239.4h1v1h-1zM203.7 241.6h1v1h-1zM220.4 229.5h1v1h-1zM228.6 203.3h1v1h-1zM209.8 225.6h1v1h-1zM192.5 234.6h1v1h-1zM207.5 222.5h1v1h-1zM225.4 219.4h1v1h-1zM226.6 209.4h1v1h-1zM218.8 215.9h1v1h-1zM219.3 226.0h1v1h-1zM204.4 235.3h1v1h-1zM210.8 231.6h1v1h-1zM218.3 224.7h1v1h-1zM230.0 205.6h1v1h-1zM218.1 224.2h1v1h-1zM207.1 229.2h1v1h-1zM213.8 234.0h1v1h-1zM215.8 227.2h1v1h-1zM238.9 208.6h1v1h-1zM217.6 219.5h1v1h-1zM227.3 208.0h1v1h-1zM206.8 240.7h1v1h-1zM237.1 200.3h1v1h-1zM221.6 215.6h1v1h-1zM222.9 204.6h1v1h-1zM214.5 238.0h1v1h-1zM221.7 214.8h1v1h-1zM233.9 198.4h1v1h-1zM204.2 222.9h1v1h-1zM209.4 233.7h1v1h-1zM202.7 227.8h1v1h-1zM202.3 230.7h1v1h-1zM199.4 236.6h1v1h-1zM236.9 202.3h1v1h-1zM235.4 207.1h1v1h-1zM202.3 226.8h1v1h-1zM206.4 226.0h1v1h-1zM233.2 199.8h1v1h-1zM232.5 205.3h1v1h-1zM209.1 223.4h1v1h-1zM203.0 210.1h1v1h-1z"/>
<path fill="#9cc6a4" d="M227.0 205.9h1v1h-1zM241.0 210.7h1v1h-1zM232.3 207.7h1v1h-1zM212.0 222.7h1v1h-1zM207.1 235.8h1v1h-1zM213.8 230.1h1v1h-1zM196.8 230.0h1v1h-1zM224.9 204.2h1v1h-1zM227.8 206.7h1v1h-1zM220.4 217.1h1v1h-1zM223.3 203.1h1v1h-1zM199.5 239.9h1v1h-1z"/>
<path fill="#3d8a4a" d="M207.1 227.5h1v1h-1zM229.5 202.9h1v1h-1zM227.6 197.2h1v1h-1zM204.5 240.8h1v1h-1zM232.0 205.5h1v1h-1zM231.0 196.0h1v1h-1zM237.4 204.6h1v1h-1zM201.8 216.1h1v1h-1zM202.2 232.2h1v1h-1zM205.9 216.3h1v1h-1zM205.0 237.5h1v1h-1zM225.0 211.2h1v1h-1zM222.9 209.8h1v1h-1zM190.3 234.0h1v1h-1z"/>
<path fill="#e6bcbc" d="M214.1 233.4h1v1h-1zM197.3 239.7h1v1h-1zM220.2 203.0h1v1h-1zM222.6 206.8h1v1h-1zM233.4 200.4h1v1h-1zM207.4 241.4h1v1h-1z"/>
<path fill="#c0d8c6" d="M215.9 219.6h1v1h-1zM229.7 197.5h1v1h-1zM231.1 208.5h1v1h-1zM236.4 204.0h1v1h-1zM209.4 209.2h1v1h-1zM185.8 230.1h1v1h-1zM208.1 234.4h1v1h-1zM209.0 203.8h1v1h-1zM230.8 201.3h1v1h-1zM217.9 220.7h1v1h-1zM224.6 203.6h1v1h-1zM220.8 214.7h1v1h-1zM210.9 222.9h1v1h-1zM205.9 228.9h1v1h-1zM215.4 220.2h1v1h-1zM211.9 223.1h1v1h-1zM222.1 210.1h1v1h-1zM234.1 202.4h1v1h-1zM204.7 239.1h1v1h-1zM216.4 214.9h1v1h-1zM217.4 221.7h1v1h-1zM196.0 240.4h1v1h-1zM218.6 211.8h1v1h-1zM208.9 236.8h1v1h-1z"/>
<path fill="#8c8c8c" d="M208.6 226.6h1v1h-1zM226.0 201.1h1v1h-1zM213.5 233.1h1v1h-1zM203.3 226.8h1v1h-1zM211.9 220.8h1v1h-1zM192.5 233.4h1v1h-1zM195.7 232.6h1v1h-1zM230.7 213.2h1v1h-1zM218.8 223.9h1v1h-1zM236.0 200.5h1v1h-1zM199.2 237.1h1v1h-1zM231.7 211.4h1v1h-1zM222.3 217.6h1v1h-1z"/>
<path fill="#b8b8b8" d="M223.5 199.9h1v1h-1zM225.0 204.4h1v1h-1zM195.6 240.1h1v1h-1zM195.2 232.8h1v1h-1zM220.4 208.1h1v1h-1zM223.3 220.4h1v1h-1zM221.7 198.8h1v1h-1zM218.3 219.3h1v1h-1zM234.6 202.7h1v1h-1zM212.3 215.1h1v1h-1zM226.8 207.6h1v1h-1zM235.5 217.6h1v1h-1zM211.6 229.2h1v1h-1zM193.3 236.9h1v1h-1zM216.2 217.1h1v1h-1zM219.3 225.8h1v1h-1zM234.5 204.7h1v1h-1zM212.9 224.0h1v1h-1z"/>
<path fill="#8c8c8c" d="M246.9 200.9h1v1h-1zM236.8 195.9h1v1h-1zM247.1 219.5h1v1h-1zM235.3 200.3h1v1h-1zM248.4 216.0h1v1h-1zM228.3 207.7h1v1h-1zM240.7 210.1h1v1h-1zM249.1 213.1h1v1h-1zM252.0 229.2h1v1h-1zM239.7 229.0h1v1h-1zM221.9 213.5h1v1h-1zM221.7 208.7h1v1h-1zM244.9 200.1h1v1h-1zM253.7 197.9h1v1h-1zM232.3 228.9h1v1h-1z"/>
<path fill="#9cc6a4" d="M248.2 188.5h1v1h-1zM250.9 217.2h1v1h-1zM251.1 210.9h1v1h-1zM226.1 226.7h1v1h-1zM250.1 220.0h1v1h-1zM222.4 224.2h1v1h-1zM226.9 206.6h1v1h-1z"/>
<path fill="#b8b8b8" d="M235.7 194.8h1v1h-1zM224.4 202.5h1v1h-1zM251.2 196.5h1v1h-1zM244.2 192.2h1v1h-1zM228.8 219.8h1v1h-1zM222.7 210.0h1v1h-1zM248.4 197.8h1v1h-1z"/>
<path fill="#6aa874" d="M225.1 221.2h1v1h-1zM220.1 216.8h1v1h-1zM257.3 193.2h1v1h-1zM221.3 207.2h1v1h-1zM247.3 188.8h1v1h-1z"/>
<path fill="#e6bcbc" d="M251.1 206.4h1v1h-1zM257.1 203.3h1v1h-1zM256.2 197.1h1v1h-1zM252.9 199.4h1v1h-1zM236.6 221.1h1v1h-1z"/>
<path fill="#c0d8c6" d="M226.4 207.0h1v1h-1z"/>
<polygon points="205.96,212.85 207.57,210.72 210.27,210.30 212.96,211.15 214.31,213.70 214.31,217.95 212.96,221.35 210.81,223.90 208.65,223.48 206.50,221.35 205.69,217.10" fill="#4aa65a"/>
<path fill="#6aa874" d="M208.8 217.6h1v1h-1zM213.0 211.9h1v1h-1zM208.2 213.1h1v1h-1zM209.4 214.4h1v1h-1zM210.1 221.4h1v1h-1zM209.9 220.7h1v1h-1zM208.2 218.9h1v1h-1zM210.1 218.7h1v1h-1zM212.0 214.6h1v1h-1zM213.2 214.1h1v1h-1zM209.2 221.7h1v1h-1zM208.7 221.5h1v1h-1zM212.2 210.6h1v1h-1zM211.1 215.1h1v1h-1zM206.4 212.7h1v1h-1zM208.6 219.7h1v1h-1zM210.3 211.5h1v1h-1zM207.0 216.6h1v1h-1zM208.8 217.2h1v1h-1zM209.2 217.0h1v1h-1zM210.7 221.9h1v1h-1z"/>
<path fill="#3d8a4a" d="M208.5 216.0h1v1h-1zM209.0 211.6h1v1h-1zM208.0 218.2h1v1h-1zM209.9 218.6h1v1h-1zM210.2 213.9h1v1h-1zM209.2 216.4h1v1h-1zM209.7 210.6h1v1h-1zM212.8 213.2h1v1h-1zM208.5 216.3h1v1h-1zM210.8 221.6h1v1h-1zM206.6 212.2h1v1h-1z"/>
<path fill="#2b7a3a" d="M210.3 215.7h1v1h-1zM209.9 221.7h1v1h-1zM209.6 214.6h1v1h-1zM205.8 215.6h1v1h-1zM208.4 218.4h1v1h-1zM213.4 215.4h1v1h-1zM209.7 210.5h1v1h-1zM210.3 218.4h1v1h-1zM212.5 214.0h1v1h-1zM208.7 220.0h1v1h-1zM212.7 213.8h1v1h-1zM208.5 221.9h1v1h-1zM206.9 213.7h1v1h-1zM211.0 217.7h1v1h-1zM206.4 212.1h1v1h-1zM209.3 211.3h1v1h-1zM207.1 216.2h1v1h-1zM211.2 210.5h1v1h-1z"/>
<polygon points="204.38,211.34 206.63,208.39 210.37,207.80 214.12,208.98 215.99,212.53 215.99,218.43 214.12,223.16 211.12,226.70 208.13,226.11 205.13,223.16 204.01,217.25" fill="none" stroke="#cc2a2a" stroke-width="1.5" stroke-linejoin="round"/>
<rect x="179.80" y="185.50" width="80.50" height="63.50" fill="none" stroke="#111" stroke-width="1.3"/>
<line x1="176.60" y1="249.00" x2="179.80" y2="249.00" stroke="#111" stroke-width="1.2" />
<text x="172.80" y="251.25" font-size="6.4" text-anchor="end" fill="#333" stroke="#333" textLength="3.50" lengthAdjust="spacingAndGlyphs" style="stroke-width:0.25px" >0</text>
<line x1="179.80" y1="249.00" x2="179.80" y2="252.20" stroke="#111" stroke-width="1.2" />
<text x="180.20" y="260.50" font-size="6.4" text-anchor="middle" fill="#333" stroke="#333" textLength="3.50" lengthAdjust="spacingAndGlyphs" style="stroke-width:0.25px" >0</text>
<line x1="176.60" y1="236.30" x2="179.80" y2="236.30" stroke="#111" stroke-width="1.2" />
<text x="172.80" y="238.55" font-size="6.4" text-anchor="end" fill="#333" stroke="#333" textLength="10.50" lengthAdjust="spacingAndGlyphs" style="stroke-width:0.25px" >200</text>
<line x1="195.90" y1="249.00" x2="195.90" y2="252.20" stroke="#111" stroke-width="1.2" />
<text x="196.30" y="260.50" font-size="6.4" text-anchor="middle" fill="#333" stroke="#333" textLength="10.50" lengthAdjust="spacingAndGlyphs" style="stroke-width:0.25px" >200</text>
<line x1="176.60" y1="223.60" x2="179.80" y2="223.60" stroke="#111" stroke-width="1.2" />
<text x="172.80" y="225.85" font-size="6.4" text-anchor="end" fill="#333" stroke="#333" textLength="10.50" lengthAdjust="spacingAndGlyphs" style="stroke-width:0.25px" >400</text>
<line x1="212.00" y1="249.00" x2="212.00" y2="252.20" stroke="#111" stroke-width="1.2" />
<text x="212.40" y="260.50" font-size="6.4" text-anchor="middle" fill="#333" stroke="#333" textLength="10.50" lengthAdjust="spacingAndGlyphs" style="stroke-width:0.25px" >400</text>
<line x1="176.60" y1="210.90" x2="179.80" y2="210.90" stroke="#111" stroke-width="1.2" />
<text x="172.80" y="213.15" font-size="6.4" text-anchor="end" fill="#333" stroke="#333" textLength="10.50" lengthAdjust="spacingAndGlyphs" style="stroke-width:0.25px" >600</text>
<line x1="228.10" y1="249.00" x2="228.10" y2="252.20" stroke="#111" stroke-width="1.2" />
<text x="228.50" y="260.50" font-size="6.4" text-anchor="middle" fill="#333" stroke="#333" textLength="10.50" lengthAdjust="spacingAndGlyphs" style="stroke-width:0.25px" >600</text>
<line x1="176.60" y1="198.20" x2="179.80" y2="198.20" stroke="#111" stroke-width="1.2" />
<text x="172.80" y="200.45" font-size="6.4" text-anchor="end" fill="#333" stroke="#333" textLength="10.50" lengthAdjust="spacingAndGlyphs" style="stroke-width:0.25px" >800</text>
<line x1="244.20" y1="249.00" x2="244.20" y2="252.20" stroke="#111" stroke-width="1.2" />
<text x="244.60" y="260.50" font-size="6.4" text-anchor="middle" fill="#333" stroke="#333" textLength="10.50" lengthAdjust="spacingAndGlyphs" style="stroke-width:0.25px" >800</text>
<line x1="176.60" y1="185.50" x2="179.80" y2="185.50" stroke="#111" stroke-width="1.2" />
<text x="172.80" y="187.75" font-size="6.4" text-anchor="end" fill="#333" stroke="#333" textLength="14.00" lengthAdjust="spacingAndGlyphs" style="stroke-width:0.25px" >1000</text>
<line x1="260.30" y1="249.00" x2="260.30" y2="252.20" stroke="#111" stroke-width="1.2" />
<text x="260.70" y="260.50" font-size="6.4" text-anchor="middle" fill="#333" stroke="#333" textLength="14.00" lengthAdjust="spacingAndGlyphs" style="stroke-width:0.25px" >1000</text>
<text x="220.55" y="272.80" font-size="8.8" text-anchor="middle" fill="#333" stroke="none" font-weight="bold" textLength="11.00" lengthAdjust="spacingAndGlyphs" >FSC</text>
<text x="152.40" y="217.25" font-size="8.8" text-anchor="middle" fill="#333" stroke="none" font-weight="bold" textLength="11.20" lengthAdjust="spacingAndGlyphs" transform="rotate(-90 152.40 217.25)" >SSC</text>
<polygon points="318.70,248.85 319.14,246.17 321.98,242.43 325.25,233.87 327.44,229.59 328.75,228.52 330.72,229.06 332.25,232.80 334.00,240.82 336.18,246.71 338.37,248.58 338.37,248.85" fill="#6a16d6" stroke="#4c12a0" stroke-width="0.6" stroke-linejoin="round"/>
<polygon points="330.72,248.85 330.72,248.14 331.40,247.79 332.08,248.29 332.77,247.09 333.45,247.20 334.13,247.92 334.81,245.07 335.50,246.46 336.18,248.18 336.86,248.18 337.55,247.83 338.23,248.13 338.91,247.97 339.59,248.07 340.28,248.10 340.96,246.60 341.64,248.31 342.33,248.01 343.01,247.94 343.69,248.12 344.37,247.94 345.06,247.05 345.74,246.58 346.42,247.02 347.11,247.95 347.79,248.29 348.47,247.27 349.15,248.29 349.84,246.42 350.52,248.28 351.20,246.50 351.88,247.07 352.57,245.94 353.25,246.52 353.93,247.87 354.62,248.22 355.30,247.79 355.98,247.08 356.66,246.60 357.35,248.02 358.03,245.54 358.71,248.11 359.40,248.18 360.08,248.21 360.76,246.92 361.44,247.56 362.13,245.42 362.81,248.27 363.49,248.14 364.18,246.30 364.86,247.33 365.54,245.12 366.22,244.67 366.91,247.60 367.59,247.97 368.27,247.83 368.95,245.27 369.64,247.38 370.32,247.87 371.00,248.24 371.69,247.06 372.37,246.75 373.05,248.23 373.73,247.77 374.42,248.04 375.10,247.83 375.78,247.64 376.47,248.27 377.15,248.27 377.83,247.38 378.51,247.58 379.20,248.12 379.88,247.86 379.88,248.85" fill="#c09ae0" stroke="#c09ae0" stroke-width="0.5"/>
<polyline points="371.14,249.05 371.81,249.05 372.48,249.05 373.16,249.05 373.83,249.05 374.50,249.05 375.17,249.05 375.85,249.04 376.52,249.04 377.19,249.02 377.86,248.98 378.54,248.89 379.21,248.72 379.88,248.41 380.55,247.87 381.22,247.00 381.90,245.67 382.57,243.80 383.24,241.34 383.91,238.33 384.59,234.97 385.26,231.55 385.93,228.49 386.60,226.22 387.28,225.07 387.95,226.01 388.62,231.14 389.29,237.93 389.96,243.53 390.64,246.86 391.31,248.36 391.98,248.87 392.65,249.01 393.33,249.04 394.00,249.05 394.67,249.05 395.34,249.05 396.02,249.05 396.69,249.05 397.36,249.05 398.03,249.05 398.70,249.05 399.38,249.05 400.05,249.05 400.72,249.05 401.39,249.05 402.07,249.05 402.74,249.05 403.41,249.05 404.08,249.05 404.76,249.05 405.43,249.05" fill="none" stroke="#222" stroke-width="1.0" stroke-linejoin="round"/>
<polyline points="371.14,249.05 371.81,249.05 372.48,249.05 373.16,249.05 373.83,249.05 374.50,249.05 375.17,249.05 375.85,249.05 376.52,249.04 377.19,249.02 377.86,248.99 378.54,248.92 379.21,248.78 379.88,248.52 380.55,248.08 381.22,247.36 381.90,246.27 382.57,244.74 383.24,242.71 383.91,240.24 384.59,237.47 385.26,234.66 385.93,232.15 386.60,230.28 387.28,229.33 387.95,229.99 388.62,233.71 389.29,238.88 389.96,243.49 390.64,246.54 391.31,248.12 391.98,248.76 392.65,248.98 393.33,249.04 394.00,249.05 394.67,249.05 395.34,249.05 396.02,249.05 396.69,249.05 397.36,249.05 398.03,249.05 398.70,249.05 399.38,249.05 400.05,249.05 400.72,249.05 401.39,249.05 402.07,249.05 402.74,249.05 403.41,249.05 404.08,249.05 404.76,249.05 405.43,249.05" fill="none" stroke="#4a8a5a" stroke-width="1.0" stroke-linejoin="round"/>
<polyline points="371.14,249.05 371.81,249.05 372.48,249.05 373.16,249.05 373.83,249.05 374.50,249.05 375.17,249.05 375.85,249.04 376.52,249.02 377.19,248.99 377.86,248.93 378.54,248.82 379.21,248.61 379.88,248.27 380.55,247.70 381.22,246.84 381.90,245.61 382.57,243.94 383.24,241.81 383.91,239.29 384.59,236.50 385.26,233.67 385.93,231.10 386.60,229.09 387.28,227.90 387.95,227.84 388.62,230.87 389.29,236.21 389.96,241.58 390.64,245.46 391.31,247.63 391.98,248.59 392.65,248.93 393.33,249.02 394.00,249.04 394.67,249.05 395.34,249.05 396.02,249.05 396.69,249.05 397.36,249.05 398.03,249.05 398.70,249.05 399.38,249.05 400.05,249.05 400.72,249.05 401.39,249.05 402.07,249.05 402.74,249.05 403.41,249.05 404.08,249.05 404.76,249.05 405.43,249.05" fill="none" stroke="#c03050" stroke-width="1.0" stroke-linejoin="round"/>
<polyline points="371.14,249.05 371.81,249.05 372.48,249.05 373.16,249.05 373.83,249.05 374.50,249.05 375.17,249.05 375.85,249.05 376.52,249.04 377.19,249.04 377.86,249.02 378.54,248.99 379.21,248.93 379.88,248.81 380.55,248.60 381.22,248.25 381.90,247.71 382.57,246.89 383.24,245.74 383.91,244.22 384.59,242.33 385.26,240.15 385.93,237.81 386.60,235.53 387.28,233.56 387.95,232.13 388.62,231.44 389.29,232.06 389.96,235.11 390.64,239.38 391.31,243.38 391.98,246.24 392.65,247.88 393.33,248.63 394.00,248.93 394.67,249.02 395.34,249.04 396.02,249.05 396.69,249.05 397.36,249.05 398.03,249.05 398.70,249.05 399.38,249.05 400.05,249.05 400.72,249.05 401.39,249.05 402.07,249.05 402.74,249.05 403.41,249.05 404.08,249.05 404.76,249.05 405.43,249.05" fill="none" stroke="#4a4aa0" stroke-width="1.0" stroke-linejoin="round"/>
<polygon points="330.13,248.85 330.13,249.05 330.80,248.48 331.47,247.54 332.15,247.09 332.82,248.62 333.49,247.90 334.16,247.81 334.84,248.65 335.51,246.88 336.18,248.51 336.85,248.51 337.52,248.60 338.20,248.02 338.87,247.49 339.54,247.74 340.21,247.94 340.89,248.27 341.56,247.17 342.23,248.26 342.90,247.89 343.58,247.47 344.25,248.69 344.92,248.44 345.59,247.87 346.26,248.22 346.94,248.38 347.61,246.92 348.28,248.70 348.95,248.15 349.63,248.41 350.30,248.33 350.97,246.98 351.64,248.05 352.32,247.63 352.99,247.56 353.66,247.02 354.33,247.00 355.00,248.08 355.68,247.49 356.35,248.54 357.02,247.49 357.69,248.28 358.37,248.71 359.04,247.29 359.71,246.86 360.38,247.42 361.06,247.26 361.73,246.98 362.40,248.08 363.07,247.08 363.74,247.81 364.42,247.76 365.09,248.59 365.76,248.21 366.43,247.98 367.11,247.70 367.78,248.30 368.45,246.90 369.12,247.10 369.80,248.46 370.47,248.52 371.14,248.63 371.81,248.36 372.48,247.28 373.16,248.29 373.83,247.61 374.50,247.67 375.17,246.92 375.85,247.89 376.52,248.28 377.19,247.66 377.86,247.84 378.54,248.18 379.21,248.49 379.88,248.14 380.55,247.63 381.22,246.90 381.90,245.92 382.57,244.66 383.24,243.11 383.91,241.30 384.59,239.32 385.26,237.26 385.93,235.30 386.60,233.58 387.28,232.29 387.95,231.54 388.62,231.55 389.29,233.82 389.96,237.85 390.64,242.09 391.31,245.39 391.98,247.43 392.65,248.44 393.33,248.86 394.00,249.00 394.67,249.04 395.34,249.05 396.02,249.05 396.69,249.05 397.36,249.05 398.03,249.05 398.70,249.05 399.38,249.05 400.05,249.05 400.72,249.05 401.39,249.05 402.07,249.05 402.74,249.05 403.41,249.05 404.08,249.05 404.76,249.05 405.43,249.05 405.43,248.85" fill="#f4e2f2"/>
<polyline points="330.13,249.05 330.80,248.48 331.47,247.54 332.15,247.09 332.82,248.62 333.49,247.90 334.16,247.81 334.84,248.65 335.51,246.88 336.18,248.51 336.85,248.51 337.52,248.60 338.20,248.02 338.87,247.49 339.54,247.74 340.21,247.94 340.89,248.27 341.56,247.17 342.23,248.26 342.90,247.89 343.58,247.47 344.25,248.69 344.92,248.44 345.59,247.87 346.26,248.22 346.94,248.38 347.61,246.92 348.28,248.70 348.95,248.15 349.63,248.41 350.30,248.33 350.97,246.98 351.64,248.05 352.32,247.63 352.99,247.56 353.66,247.02 354.33,247.00 355.00,248.08 355.68,247.49 356.35,248.54 357.02,247.49 357.69,248.28 358.37,248.71 359.04,247.29 359.71,246.86 360.38,247.42 361.06,247.26 361.73,246.98 362.40,248.08 363.07,247.08 363.74,247.81 364.42,247.76 365.09,248.59 365.76,248.21 366.43,247.98 367.11,247.70 367.78,248.30 368.45,246.90 369.12,247.10 369.80,248.46 370.47,248.52 371.14,248.63 371.81,248.36 372.48,247.28 373.16,248.29 373.83,247.61 374.50,247.67 375.17,246.92 375.85,247.89 376.52,248.28 377.19,247.66 377.86,247.84 378.54,248.18 379.21,248.49 379.88,248.14 380.55,247.63 381.22,246.90 381.90,245.92 382.57,244.66 383.24,243.11 383.91,241.30 384.59,239.32 385.26,237.26 385.93,235.30 386.60,233.58 387.28,232.29 387.95,231.54 388.62,231.55 389.29,233.82 389.96,237.85 390.64,242.09 391.31,245.39 391.98,247.43 392.65,248.44 393.33,248.86 394.00,249.00 394.67,249.04 395.34,249.05 396.02,249.05 396.69,249.05 397.36,249.05 398.03,249.05 398.70,249.05 399.38,249.05 400.05,249.05 400.72,249.05 401.39,249.05 402.07,249.05 402.74,249.05 403.41,249.05 404.08,249.05 404.76,249.05 405.43,249.05" fill="none" stroke="#b04a9a" stroke-width="1.0" stroke-linejoin="round"/>
<line x1="318.70" y1="249.45" x2="318.70" y2="181.65" stroke="#111" stroke-width="1.4" />
<line x1="318.10" y1="248.85" x2="407.10" y2="248.85" stroke="#111" stroke-width="1.4" />
<line x1="315.50" y1="248.85" x2="318.70" y2="248.85" stroke="#111" stroke-width="1.2" />
<text x="313.20" y="251.05" font-size="6.5" text-anchor="end" fill="#333" stroke="#333" textLength="3.45" lengthAdjust="spacingAndGlyphs" style="stroke-width:0.25px" >0</text>
<line x1="315.50" y1="227.45" x2="318.70" y2="227.45" stroke="#111" stroke-width="1.2" />
<text x="313.20" y="229.65" font-size="6.5" text-anchor="end" fill="#333" stroke="#333" textLength="6.90" lengthAdjust="spacingAndGlyphs" style="stroke-width:0.25px" >40</text>
<line x1="315.50" y1="206.05" x2="318.70" y2="206.05" stroke="#111" stroke-width="1.2" />
<text x="313.20" y="208.25" font-size="6.5" text-anchor="end" fill="#333" stroke="#333" textLength="6.90" lengthAdjust="spacingAndGlyphs" style="stroke-width:0.25px" >80</text>
<line x1="315.50" y1="184.65" x2="318.70" y2="184.65" stroke="#111" stroke-width="1.2" />
<text x="313.20" y="186.85" font-size="6.5" text-anchor="end" fill="#333" stroke="#333" textLength="10.35" lengthAdjust="spacingAndGlyphs" style="stroke-width:0.25px" >120</text>
<line x1="318.70" y1="248.85" x2="318.70" y2="251.55" stroke="#111" stroke-width="1.1" />
<text x="314.30" y="260.25" font-size="6.1" text-anchor="start" fill="#333" stroke="#333" textLength="6.70" lengthAdjust="spacingAndGlyphs" style="stroke-width:0.2px" >10</text>
<text x="321.20" y="257.25" font-size="4.2" text-anchor="start" fill="#333" stroke="#333" style="stroke-width:0.15px" >0</text>
<line x1="340.55" y1="248.85" x2="340.55" y2="251.55" stroke="#111" stroke-width="1.1" />
<text x="336.15" y="260.25" font-size="6.1" text-anchor="start" fill="#333" stroke="#333" textLength="6.70" lengthAdjust="spacingAndGlyphs" style="stroke-width:0.2px" >10</text>
<text x="343.05" y="257.25" font-size="4.2" text-anchor="start" fill="#333" stroke="#333" style="stroke-width:0.15px" >1</text>
<line x1="362.40" y1="248.85" x2="362.40" y2="251.55" stroke="#111" stroke-width="1.1" />
<text x="358.00" y="260.25" font-size="6.1" text-anchor="start" fill="#333" stroke="#333" textLength="6.70" lengthAdjust="spacingAndGlyphs" style="stroke-width:0.2px" >10</text>
<text x="364.90" y="257.25" font-size="4.2" text-anchor="start" fill="#333" stroke="#333" style="stroke-width:0.15px" >2</text>
<line x1="384.25" y1="248.85" x2="384.25" y2="251.55" stroke="#111" stroke-width="1.1" />
<text x="379.85" y="260.25" font-size="6.1" text-anchor="start" fill="#333" stroke="#333" textLength="6.70" lengthAdjust="spacingAndGlyphs" style="stroke-width:0.2px" >10</text>
<text x="386.75" y="257.25" font-size="4.2" text-anchor="start" fill="#333" stroke="#333" style="stroke-width:0.15px" >3</text>
<line x1="406.10" y1="248.85" x2="406.10" y2="251.55" stroke="#111" stroke-width="1.1" />
<text x="401.70" y="260.25" font-size="6.1" text-anchor="start" fill="#333" stroke="#333" textLength="6.70" lengthAdjust="spacingAndGlyphs" style="stroke-width:0.2px" >10</text>
<text x="408.60" y="257.25" font-size="4.2" text-anchor="start" fill="#333" stroke="#333" style="stroke-width:0.15px" >4</text>
<line x1="332.80" y1="186.90" x2="340.90" y2="186.90" stroke="#2a2a2a" stroke-width="1.7" />
<text x="345.00" y="189.00" font-size="6.0" text-anchor="middle" fill="#555" stroke="#555" >1</text>
<line x1="351.70" y1="186.90" x2="359.90" y2="186.90" stroke="#b84a5a" stroke-width="1.7" />
<text x="363.70" y="189.00" font-size="6.0" text-anchor="middle" fill="#555" stroke="#555" >2</text>
<line x1="370.10" y1="186.90" x2="378.80" y2="186.90" stroke="#3a3a6a" stroke-width="1.7" />
<text x="382.70" y="189.00" font-size="6.0" text-anchor="middle" fill="#555" stroke="#555" >3</text>
<line x1="332.80" y1="195.90" x2="340.90" y2="195.90" stroke="#4a9a5a" stroke-width="1.7" />
<text x="345.00" y="198.00" font-size="6.0" text-anchor="middle" fill="#555" stroke="#555" >4</text>
<line x1="351.70" y1="195.90" x2="359.90" y2="195.90" stroke="#a86ab8" stroke-width="1.7" />
<text x="363.70" y="198.00" font-size="6.0" text-anchor="middle" fill="#555" stroke="#555" >5</text>
<text x="348.90" y="214.60" font-size="5.3" text-anchor="middle" fill="#222" stroke="#222" textLength="16.60" lengthAdjust="spacingAndGlyphs" >Control</text>
<line x1="342.30" y1="217.70" x2="336.83" y2="227.30" stroke="#111" stroke-width="1.4" />
<polygon points="334.20,231.90 334.47,225.38 339.68,228.35" fill="#111"/>
<text x="363.85" y="271.35" font-size="8.4" text-anchor="middle" fill="#333" stroke="none" font-weight="bold" textLength="19.30" lengthAdjust="spacingAndGlyphs" >Ly6G-PE</text>
<text x="295.40" y="215.90" font-size="7.2" text-anchor="middle" fill="#333" stroke="none" font-weight="bold" textLength="52.50" lengthAdjust="spacingAndGlyphs" transform="rotate(-90 295.40 215.90)" >Relative cell number</text>
<polygon points="37.20,363.00 37.47,361.81 39.92,356.65 42.92,347.53 43.74,347.13 45.64,353.08 47.42,360.22 48.78,362.80 48.78,363.00" fill="#6a16d6" stroke="#4c12a0" stroke-width="0.6" stroke-linejoin="round"/>
<polyline points="69.89,363.20 70.57,363.20 71.25,362.41 71.93,361.61 72.61,360.82 73.29,360.03 73.97,359.23 74.66,358.44 75.34,357.65 76.02,356.26 76.70,354.87 77.38,353.48 78.06,352.09 78.74,354.87 79.42,357.65 80.10,358.84 80.78,360.03 81.47,361.22 82.15,363.20 82.83,363.20 83.51,363.20 84.19,363.20 84.87,363.20" fill="none" stroke="#4a8a5a" stroke-width="1.0" stroke-linejoin="round"/>
<polyline points="68.53,363.20 69.21,363.20 69.89,362.41 70.57,361.81 71.25,361.22 71.93,360.62 72.61,360.03 73.29,359.43 73.97,358.84 74.66,358.24 75.34,357.65 76.02,356.26 76.70,354.87 77.38,353.48 78.06,352.09 78.74,354.87 79.42,357.65 80.10,358.84 80.78,360.03 81.47,361.22 82.15,363.20 82.83,363.20 83.51,363.20 84.19,363.20 84.87,363.20" fill="none" stroke="#b060b0" stroke-width="1.0" stroke-linejoin="round"/>
<polyline points="67.16,363.20 67.84,363.00 68.53,362.56 69.21,362.11 69.89,361.66 70.57,361.22 71.25,360.56 71.93,359.89 72.61,359.23 73.29,358.44 73.97,357.65 74.66,356.85 75.34,356.46 76.02,356.06 76.70,354.87 77.38,353.68 78.06,353.11 78.74,354.97 79.42,358.44 80.10,360.22 80.78,362.01 81.47,362.21 82.15,362.41 82.83,362.60 83.51,363.20 84.19,363.20 84.87,363.20" fill="none" stroke="#8a2a3a" stroke-width="1.1" stroke-linejoin="round"/>
<polyline points="37.88,363.20 38.56,363.20 39.24,363.20 39.92,363.20 40.61,363.20 41.29,363.20 41.97,363.20 42.65,363.20 43.33,363.20 44.01,363.20 44.69,363.20 45.37,363.20 46.05,363.20 46.73,363.20 47.42,363.20 48.10,363.20 48.78,363.20 49.46,362.80 50.14,362.80 50.82,362.80 51.50,362.80 52.18,362.80 52.86,362.80 53.54,362.80 54.23,362.80 54.91,362.80 55.59,362.80 56.27,362.80 56.95,362.80 57.63,362.80 58.31,362.80 58.99,362.80 59.67,362.80 60.35,362.80 61.03,362.80 61.72,362.80 62.40,362.80 63.08,362.80 63.76,362.80 64.44,362.80 65.12,362.80 65.80,362.80 66.48,362.80 67.16,362.80 67.84,362.67 68.53,362.54 69.21,362.41 69.89,362.27 70.57,362.14 71.25,362.01 71.93,361.30 72.61,360.58 73.29,359.87 73.97,359.15 74.66,358.44 75.34,357.12 76.02,355.79 76.70,354.47 77.38,352.89 78.06,351.30 78.74,352.09 79.42,355.27 80.10,358.44 80.78,360.03 81.47,361.61 82.15,361.88 82.83,362.14 83.51,362.41 84.19,362.45 84.87,362.49 85.55,362.53 86.23,362.57 86.91,362.60 87.59,362.64 88.28,362.68 88.96,362.72 89.64,362.76 90.32,363.20 91.00,363.20" fill="none" stroke="#444" stroke-width="1.1" stroke-linejoin="round"/>
<polyline points="71.25,363.20 71.93,363.20 72.61,362.80 73.29,362.09 73.97,361.38 74.66,360.66 75.34,359.95 76.02,359.23 76.70,356.85 77.38,354.47 78.06,345.75 78.74,345.75 79.42,354.47 80.10,357.84 80.78,361.22 81.47,361.75 82.15,362.27 82.83,362.80 83.51,363.20 84.19,363.20 84.87,363.20" fill="none" stroke="#2020a0" stroke-width="1.6" stroke-linejoin="round"/>
<line x1="91.48" y1="363.00" x2="91.48" y2="339.99" stroke="#b0b0b0" stroke-width="0.7" />
<line x1="37.20" y1="363.60" x2="37.20" y2="312.40" stroke="#111" stroke-width="1.4" />
<line x1="36.60" y1="363.00" x2="92.68" y2="363.00" stroke="#111" stroke-width="1.4" />
<line x1="34.00" y1="363.00" x2="37.20" y2="363.00" stroke="#111" stroke-width="1.2" />
<text x="31.20" y="365.20" font-size="6.5" text-anchor="end" fill="#333" stroke="#333" textLength="3.45" lengthAdjust="spacingAndGlyphs" style="stroke-width:0.25px" >0</text>
<line x1="34.00" y1="347.13" x2="37.20" y2="347.13" stroke="#111" stroke-width="1.2" />
<text x="31.20" y="349.33" font-size="6.5" text-anchor="end" fill="#333" stroke="#333" textLength="6.90" lengthAdjust="spacingAndGlyphs" style="stroke-width:0.25px" >40</text>
<line x1="34.00" y1="331.26" x2="37.20" y2="331.26" stroke="#111" stroke-width="1.2" />
<text x="31.20" y="333.46" font-size="6.5" text-anchor="end" fill="#333" stroke="#333" textLength="6.90" lengthAdjust="spacingAndGlyphs" style="stroke-width:0.25px" >80</text>
<line x1="34.00" y1="315.40" x2="37.20" y2="315.40" stroke="#111" stroke-width="1.2" />
<text x="31.20" y="317.60" font-size="6.5" text-anchor="end" fill="#333" stroke="#333" textLength="10.35" lengthAdjust="spacingAndGlyphs" style="stroke-width:0.25px" >120</text>
<line x1="37.20" y1="363.00" x2="37.20" y2="365.70" stroke="#111" stroke-width="1.1" />
<text x="32.80" y="374.20" font-size="6.1" text-anchor="start" fill="#333" stroke="#333" textLength="6.70" lengthAdjust="spacingAndGlyphs" style="stroke-width:0.2px" >10</text>
<text x="39.70" y="371.20" font-size="4.2" text-anchor="start" fill="#333" stroke="#333" style="stroke-width:0.15px" >0</text>
<line x1="50.82" y1="363.00" x2="50.82" y2="365.70" stroke="#111" stroke-width="1.1" />
<text x="46.42" y="374.20" font-size="6.1" text-anchor="start" fill="#333" stroke="#333" textLength="6.70" lengthAdjust="spacingAndGlyphs" style="stroke-width:0.2px" >10</text>
<text x="53.32" y="371.20" font-size="4.2" text-anchor="start" fill="#333" stroke="#333" style="stroke-width:0.15px" >1</text>
<line x1="64.44" y1="363.00" x2="64.44" y2="365.70" stroke="#111" stroke-width="1.1" />
<text x="60.04" y="374.20" font-size="6.1" text-anchor="start" fill="#333" stroke="#333" textLength="6.70" lengthAdjust="spacingAndGlyphs" style="stroke-width:0.2px" >10</text>
<text x="66.94" y="371.20" font-size="4.2" text-anchor="start" fill="#333" stroke="#333" style="stroke-width:0.15px" >2</text>
<line x1="78.06" y1="363.00" x2="78.06" y2="365.70" stroke="#111" stroke-width="1.1" />
<text x="73.66" y="374.20" font-size="6.1" text-anchor="start" fill="#333" stroke="#333" textLength="6.70" lengthAdjust="spacingAndGlyphs" style="stroke-width:0.2px" >10</text>
<text x="80.56" y="371.20" font-size="4.2" text-anchor="start" fill="#333" stroke="#333" style="stroke-width:0.15px" >3</text>
<line x1="91.68" y1="363.00" x2="91.68" y2="365.70" stroke="#111" stroke-width="1.1" />
<text x="87.28" y="374.20" font-size="6.1" text-anchor="start" fill="#333" stroke="#333" textLength="6.70" lengthAdjust="spacingAndGlyphs" style="stroke-width:0.2px" >10</text>
<text x="94.18" y="371.20" font-size="4.2" text-anchor="start" fill="#333" stroke="#333" style="stroke-width:0.15px" >4</text>
<line x1="40.00" y1="308.80" x2="48.10" y2="308.80" stroke="#2a2a2a" stroke-width="1.7" />
<text x="51.70" y="310.90" font-size="6.0" text-anchor="middle" fill="#555" stroke="#555" >1</text>
<line x1="57.90" y1="308.80" x2="67.20" y2="308.80" stroke="#b84a5a" stroke-width="1.7" />
<text x="70.40" y="310.90" font-size="6.0" text-anchor="middle" fill="#555" stroke="#555" >2</text>
<line x1="77.00" y1="308.80" x2="86.20" y2="308.80" stroke="#3a3a6a" stroke-width="1.7" />
<text x="89.40" y="310.90" font-size="6.0" text-anchor="middle" fill="#555" stroke="#555" >3</text>
<line x1="40.00" y1="318.20" x2="48.10" y2="318.20" stroke="#4a9a5a" stroke-width="1.7" />
<text x="51.70" y="320.30" font-size="6.0" text-anchor="middle" fill="#555" stroke="#555" >4</text>
<line x1="57.90" y1="318.20" x2="67.20" y2="318.20" stroke="#a86ab8" stroke-width="1.7" />
<text x="70.40" y="320.30" font-size="6.0" text-anchor="middle" fill="#555" stroke="#555" >5</text>
<text x="54.90" y="331.90" font-size="5.3" text-anchor="middle" fill="#222" stroke="#222" textLength="16.90" lengthAdjust="spacingAndGlyphs" >Control</text>
<line x1="55.20" y1="335.10" x2="49.32" y2="345.48" stroke="#111" stroke-width="1.4" />
<polygon points="47.10,349.40 47.30,343.77 51.83,346.33" fill="#111"/>
<text x="65.70" y="386.30" font-size="8.4" text-anchor="middle" fill="#333" stroke="none" font-weight="bold" textLength="34.00" lengthAdjust="spacingAndGlyphs" >PSGL-1-FITC</text>
<text x="14.40" y="337.40" font-size="7.2" text-anchor="middle" fill="#333" stroke="none" font-weight="bold" textLength="52.50" lengthAdjust="spacingAndGlyphs" transform="rotate(-90 14.40 337.40)" >Relative cell number</text>
<polygon points="141.27,363.00 141.54,361.81 144.67,355.86 147.54,347.93 148.76,347.13 150.53,353.08 152.44,360.62 153.80,362.80 153.80,363.00" fill="#6a16d6" stroke="#4c12a0" stroke-width="0.6" stroke-linejoin="round"/>
<polyline points="180.77,362.80 181.45,362.76 182.13,362.72 182.81,362.68 183.49,362.64 184.17,362.60 184.85,362.57 185.53,362.53 186.22,362.49 186.90,362.45 187.58,362.41 188.26,362.14 188.94,361.88 189.62,361.61 190.30,361.35 190.98,361.08 191.66,360.82 192.34,358.97 193.03,357.12 193.71,355.27 194.39,349.32 195.07,361.94" fill="none" stroke="#4a8a5a" stroke-width="1.0" stroke-linejoin="round"/>
<polyline points="153.53,362.80 154.21,362.80 154.89,362.80 155.57,362.80 156.25,362.80 156.93,362.80 157.61,362.80 158.29,362.80 158.98,362.80 159.66,362.80 160.34,362.80 161.02,362.80 161.70,362.80 162.38,362.80 163.06,362.80 163.74,362.80 164.42,362.80 165.10,362.80 165.79,362.80 166.47,362.80 167.15,362.80 167.83,362.80 168.51,362.80 169.19,362.80 169.87,362.80 170.55,362.80 171.23,362.80 171.91,362.80 172.60,362.80 173.28,362.80 173.96,362.80 174.64,362.80 175.32,362.80 176.00,362.80 176.68,362.80 177.36,362.80 178.04,362.80 178.72,362.80 179.41,362.80 180.09,362.80 180.77,362.80 181.45,362.75 182.13,362.70 182.81,362.65 183.49,362.60 184.17,362.56 184.85,362.51 185.53,362.46 186.22,362.41 186.90,362.21 187.58,362.01 188.26,361.81 188.94,361.61 189.62,361.41 190.30,361.22 190.98,360.56 191.66,359.89 192.34,359.23 193.03,356.26 193.71,353.28 194.39,347.33 195.07,360.82" fill="none" stroke="#333" stroke-width="1.0" stroke-linejoin="round"/>
<polyline points="180.77,362.80 181.45,362.75 182.13,362.70 182.81,362.65 183.49,362.60 184.17,362.56 184.85,362.51 185.53,362.46 186.22,362.41 186.90,362.27 187.58,362.14 188.26,362.01 188.94,361.88 189.62,361.75 190.30,361.61 190.98,361.08 191.66,360.56 192.34,360.03 193.03,357.25 193.71,354.47 194.39,345.35 195.07,360.82" fill="none" stroke="#b04060" stroke-width="1.0" stroke-linejoin="round"/>
<polygon points="179.41,363.00 179.41,362.80 180.09,362.70 180.77,362.60 181.45,362.51 182.13,362.41 182.81,362.31 183.49,362.21 184.17,362.11 184.85,362.01 185.53,361.94 186.22,361.88 186.90,361.81 187.58,361.75 188.26,361.68 188.94,361.61 189.62,361.02 190.30,360.42 190.98,359.83 191.66,359.23 192.34,357.25 193.03,355.27 193.71,348.18 194.39,340.19 195.07,361.11 195.07,363.00" fill="#e4d4f4"/>
<polyline points="179.41,362.80 180.09,362.70 180.77,362.60 181.45,362.51 182.13,362.41 182.81,362.31 183.49,362.21 184.17,362.11 184.85,362.01 185.53,361.94 186.22,361.88 186.90,361.81 187.58,361.75 188.26,361.68 188.94,361.61 189.62,361.02 190.30,360.42 190.98,359.83 191.66,359.23 192.34,357.25 193.03,355.27 193.71,348.18 194.39,340.19 195.07,361.11" fill="none" stroke="#9050c8" stroke-width="1.2" stroke-linejoin="round"/>
<polyline points="180.77,362.80 181.45,362.75 182.13,362.70 182.81,362.65 183.49,362.60 184.17,362.56 184.85,362.51 185.53,362.46 186.22,362.41 186.90,362.27 187.58,362.14 188.26,362.01 188.94,361.88 189.62,361.75 190.30,361.61 190.98,360.95 191.66,360.29 192.34,359.63 193.03,357.08 193.71,349.63 194.39,330.67 195.07,358.44" fill="none" stroke="#3a1aa0" stroke-width="1.3" stroke-linejoin="round"/>
<line x1="141.27" y1="363.60" x2="141.27" y2="312.40" stroke="#111" stroke-width="1.4" />
<line x1="140.67" y1="363.00" x2="196.75" y2="363.00" stroke="#111" stroke-width="1.4" />
<line x1="138.07" y1="363.00" x2="141.27" y2="363.00" stroke="#111" stroke-width="1.2" />
<text x="135.27" y="365.20" font-size="6.5" text-anchor="end" fill="#333" stroke="#333" textLength="3.45" lengthAdjust="spacingAndGlyphs" style="stroke-width:0.25px" >0</text>
<line x1="138.07" y1="347.13" x2="141.27" y2="347.13" stroke="#111" stroke-width="1.2" />
<text x="135.27" y="349.33" font-size="6.5" text-anchor="end" fill="#333" stroke="#333" textLength="6.90" lengthAdjust="spacingAndGlyphs" style="stroke-width:0.25px" >40</text>
<line x1="138.07" y1="331.26" x2="141.27" y2="331.26" stroke="#111" stroke-width="1.2" />
<text x="135.27" y="333.46" font-size="6.5" text-anchor="end" fill="#333" stroke="#333" textLength="6.90" lengthAdjust="spacingAndGlyphs" style="stroke-width:0.25px" >80</text>
<line x1="138.07" y1="315.40" x2="141.27" y2="315.40" stroke="#111" stroke-width="1.2" />
<text x="135.27" y="317.60" font-size="6.5" text-anchor="end" fill="#333" stroke="#333" textLength="10.35" lengthAdjust="spacingAndGlyphs" style="stroke-width:0.25px" >120</text>
<line x1="141.27" y1="363.00" x2="141.27" y2="365.70" stroke="#111" stroke-width="1.1" />
<text x="136.87" y="374.20" font-size="6.1" text-anchor="start" fill="#333" stroke="#333" textLength="6.70" lengthAdjust="spacingAndGlyphs" style="stroke-width:0.2px" >10</text>
<text x="143.77" y="371.20" font-size="4.2" text-anchor="start" fill="#333" stroke="#333" style="stroke-width:0.15px" >0</text>
<line x1="154.89" y1="363.00" x2="154.89" y2="365.70" stroke="#111" stroke-width="1.1" />
<text x="150.49" y="374.20" font-size="6.1" text-anchor="start" fill="#333" stroke="#333" textLength="6.70" lengthAdjust="spacingAndGlyphs" style="stroke-width:0.2px" >10</text>
<text x="157.39" y="371.20" font-size="4.2" text-anchor="start" fill="#333" stroke="#333" style="stroke-width:0.15px" >1</text>
<line x1="168.51" y1="363.00" x2="168.51" y2="365.70" stroke="#111" stroke-width="1.1" />
<text x="164.11" y="374.20" font-size="6.1" text-anchor="start" fill="#333" stroke="#333" textLength="6.70" lengthAdjust="spacingAndGlyphs" style="stroke-width:0.2px" >10</text>
<text x="171.01" y="371.20" font-size="4.2" text-anchor="start" fill="#333" stroke="#333" style="stroke-width:0.15px" >2</text>
<line x1="182.13" y1="363.00" x2="182.13" y2="365.70" stroke="#111" stroke-width="1.1" />
<text x="177.73" y="374.20" font-size="6.1" text-anchor="start" fill="#333" stroke="#333" textLength="6.70" lengthAdjust="spacingAndGlyphs" style="stroke-width:0.2px" >10</text>
<text x="184.63" y="371.20" font-size="4.2" text-anchor="start" fill="#333" stroke="#333" style="stroke-width:0.15px" >3</text>
<line x1="195.75" y1="363.00" x2="195.75" y2="365.70" stroke="#111" stroke-width="1.1" />
<text x="191.35" y="374.20" font-size="6.1" text-anchor="start" fill="#333" stroke="#333" textLength="6.70" lengthAdjust="spacingAndGlyphs" style="stroke-width:0.2px" >10</text>
<text x="198.25" y="371.20" font-size="4.2" text-anchor="start" fill="#333" stroke="#333" style="stroke-width:0.15px" >4</text>
<line x1="144.07" y1="308.80" x2="152.17" y2="308.80" stroke="#2a2a2a" stroke-width="1.7" />
<text x="155.77" y="310.90" font-size="6.0" text-anchor="middle" fill="#555" stroke="#555" >1</text>
<line x1="161.97" y1="308.80" x2="171.27" y2="308.80" stroke="#b84a5a" stroke-width="1.7" />
<text x="174.47" y="310.90" font-size="6.0" text-anchor="middle" fill="#555" stroke="#555" >2</text>
<line x1="181.07" y1="308.80" x2="190.27" y2="308.80" stroke="#3a3a6a" stroke-width="1.7" />
<text x="193.47" y="310.90" font-size="6.0" text-anchor="middle" fill="#555" stroke="#555" >3</text>
<line x1="144.07" y1="318.20" x2="152.17" y2="318.20" stroke="#4a9a5a" stroke-width="1.7" />
<text x="155.77" y="320.30" font-size="6.0" text-anchor="middle" fill="#555" stroke="#555" >4</text>
<line x1="161.97" y1="318.20" x2="171.27" y2="318.20" stroke="#a86ab8" stroke-width="1.7" />
<text x="174.47" y="320.30" font-size="6.0" text-anchor="middle" fill="#555" stroke="#555" >5</text>
<text x="158.97" y="331.90" font-size="5.3" text-anchor="middle" fill="#222" stroke="#222" textLength="16.90" lengthAdjust="spacingAndGlyphs" >Control</text>
<line x1="159.27" y1="335.10" x2="153.39" y2="345.48" stroke="#111" stroke-width="1.4" />
<polygon points="151.17,349.40 151.37,343.77 155.90,346.33" fill="#111"/>
<text x="169.77" y="386.30" font-size="8.4" text-anchor="middle" fill="#333" stroke="none" font-weight="bold" textLength="27.60" lengthAdjust="spacingAndGlyphs" >CD44-FITC</text>
<text x="118.47" y="337.40" font-size="7.2" text-anchor="middle" fill="#333" stroke="none" font-weight="bold" textLength="52.50" lengthAdjust="spacingAndGlyphs" transform="rotate(-90 118.47 337.40)" >Relative cell number</text>
<polygon points="245.34,363.00 245.61,361.81 248.74,355.86 251.61,347.93 252.69,347.13 254.60,353.08 256.24,360.62 257.60,362.80 257.60,363.00" fill="#6a16d6" stroke="#4c12a0" stroke-width="0.6" stroke-linejoin="round"/>
<polyline points="278.03,363.20 278.71,362.80 279.39,361.95 280.07,361.10 280.75,360.25 281.43,359.40 282.11,358.55 282.79,357.70 283.48,356.85 284.16,355.47 284.84,354.09 285.52,352.71 286.20,351.33 286.88,351.56 287.56,354.21 288.24,356.85 288.92,358.84 289.60,360.82 290.29,363.20 290.97,363.20" fill="none" stroke="#4a8a5a" stroke-width="1.0" stroke-linejoin="round"/>
<polyline points="257.60,362.80 258.28,362.80 258.96,362.80 259.64,362.80 260.32,362.80 261.00,362.80 261.68,362.80 262.36,362.80 263.05,362.80 263.73,362.80 264.41,362.80 265.09,362.80 265.77,362.80 266.45,362.80 267.13,362.80 267.81,362.80 268.49,362.80 269.17,362.80 269.86,362.80 270.54,362.80 271.22,362.80 271.90,362.80 272.58,362.80 273.26,362.80 273.94,362.80 274.62,362.80 275.30,362.80 275.98,362.80 276.67,362.80 277.35,362.80 278.03,362.80 278.71,362.60 279.39,362.41 280.07,361.38 280.75,360.34 281.43,359.31 282.11,358.28 282.79,357.25 283.48,355.58 284.16,353.92 284.84,352.25 285.52,350.58 286.20,348.92 286.88,349.32 287.56,352.36 288.24,355.40 288.92,358.44 289.60,360.62 290.29,362.80 290.97,362.80 291.65,362.80 292.33,362.80 293.01,362.80 293.69,362.80 294.37,362.80 295.05,362.80 295.73,362.80 296.41,362.80 297.10,362.80 297.78,362.80 298.46,363.20 299.14,363.20" fill="none" stroke="#444" stroke-width="1.0" stroke-linejoin="round"/>
<polyline points="278.03,362.80 278.71,362.41 279.39,362.01 280.07,361.61 280.75,360.50 281.43,359.39 282.11,358.28 282.79,357.17 283.48,356.06 284.16,354.47 284.84,352.89 285.52,351.30 286.20,349.71 286.88,348.13 287.56,351.30 288.24,354.18 288.92,357.05 289.60,359.93 290.29,363.20 290.97,363.20" fill="none" stroke="#c04060" stroke-width="1.0" stroke-linejoin="round"/>
<polygon points="278.03,363.00 278.03,362.80 278.71,361.96 279.39,361.12 280.07,360.27 280.75,359.43 281.43,358.59 282.11,357.75 282.79,356.90 283.48,356.06 284.16,354.31 284.84,352.57 285.52,350.82 286.20,349.08 286.88,347.33 287.56,350.17 288.24,353.22 288.92,356.41 289.60,359.61 290.29,363.20 290.97,363.20 290.97,363.00" fill="#ecdcf4"/>
<polyline points="278.03,362.80 278.71,361.96 279.39,361.12 280.07,360.27 280.75,359.43 281.43,358.59 282.11,357.75 282.79,356.90 283.48,356.06 284.16,354.31 284.84,352.57 285.52,350.82 286.20,349.08 286.88,347.33 287.56,350.17 288.24,353.22 288.92,356.41 289.60,359.61 290.29,363.20 290.97,363.20" fill="none" stroke="#b060c0" stroke-width="1.0" stroke-linejoin="round"/>
<polyline points="276.67,363.00 277.35,362.01 278.03,361.02 278.71,360.03 279.39,358.12 280.07,356.22 280.75,354.31 281.43,352.41 282.11,350.51 282.79,347.89 283.48,345.27 284.16,342.65 284.84,340.03 285.52,337.41 286.20,337.41 286.88,343.08 287.56,347.82 288.24,351.94 288.92,356.06 289.60,359.43 290.29,363.20 290.97,363.20" fill="none" stroke="#2a2aa0" stroke-width="1.3" stroke-linejoin="round"/>
<line x1="245.34" y1="363.60" x2="245.34" y2="312.40" stroke="#111" stroke-width="1.4" />
<line x1="244.74" y1="363.00" x2="300.82" y2="363.00" stroke="#111" stroke-width="1.4" />
<line x1="242.14" y1="363.00" x2="245.34" y2="363.00" stroke="#111" stroke-width="1.2" />
<text x="239.34" y="365.20" font-size="6.5" text-anchor="end" fill="#333" stroke="#333" textLength="3.45" lengthAdjust="spacingAndGlyphs" style="stroke-width:0.25px" >0</text>
<line x1="242.14" y1="347.13" x2="245.34" y2="347.13" stroke="#111" stroke-width="1.2" />
<text x="239.34" y="349.33" font-size="6.5" text-anchor="end" fill="#333" stroke="#333" textLength="6.90" lengthAdjust="spacingAndGlyphs" style="stroke-width:0.25px" >40</text>
<line x1="242.14" y1="331.26" x2="245.34" y2="331.26" stroke="#111" stroke-width="1.2" />
<text x="239.34" y="333.46" font-size="6.5" text-anchor="end" fill="#333" stroke="#333" textLength="6.90" lengthAdjust="spacingAndGlyphs" style="stroke-width:0.25px" >80</text>
<line x1="242.14" y1="315.40" x2="245.34" y2="315.40" stroke="#111" stroke-width="1.2" />
<text x="239.34" y="317.60" font-size="6.5" text-anchor="end" fill="#333" stroke="#333" textLength="10.35" lengthAdjust="spacingAndGlyphs" style="stroke-width:0.25px" >120</text>
<line x1="245.34" y1="363.00" x2="245.34" y2="365.70" stroke="#111" stroke-width="1.1" />
<text x="240.94" y="374.20" font-size="6.1" text-anchor="start" fill="#333" stroke="#333" textLength="6.70" lengthAdjust="spacingAndGlyphs" style="stroke-width:0.2px" >10</text>
<text x="247.84" y="371.20" font-size="4.2" text-anchor="start" fill="#333" stroke="#333" style="stroke-width:0.15px" >0</text>
<line x1="258.96" y1="363.00" x2="258.96" y2="365.70" stroke="#111" stroke-width="1.1" />
<text x="254.56" y="374.20" font-size="6.1" text-anchor="start" fill="#333" stroke="#333" textLength="6.70" lengthAdjust="spacingAndGlyphs" style="stroke-width:0.2px" >10</text>
<text x="261.46" y="371.20" font-size="4.2" text-anchor="start" fill="#333" stroke="#333" style="stroke-width:0.15px" >1</text>
<line x1="272.58" y1="363.00" x2="272.58" y2="365.70" stroke="#111" stroke-width="1.1" />
<text x="268.18" y="374.20" font-size="6.1" text-anchor="start" fill="#333" stroke="#333" textLength="6.70" lengthAdjust="spacingAndGlyphs" style="stroke-width:0.2px" >10</text>
<text x="275.08" y="371.20" font-size="4.2" text-anchor="start" fill="#333" stroke="#333" style="stroke-width:0.15px" >2</text>
<line x1="286.20" y1="363.00" x2="286.20" y2="365.70" stroke="#111" stroke-width="1.1" />
<text x="281.80" y="374.20" font-size="6.1" text-anchor="start" fill="#333" stroke="#333" textLength="6.70" lengthAdjust="spacingAndGlyphs" style="stroke-width:0.2px" >10</text>
<text x="288.70" y="371.20" font-size="4.2" text-anchor="start" fill="#333" stroke="#333" style="stroke-width:0.15px" >3</text>
<line x1="299.82" y1="363.00" x2="299.82" y2="365.70" stroke="#111" stroke-width="1.1" />
<text x="295.42" y="374.20" font-size="6.1" text-anchor="start" fill="#333" stroke="#333" textLength="6.70" lengthAdjust="spacingAndGlyphs" style="stroke-width:0.2px" >10</text>
<text x="302.32" y="371.20" font-size="4.2" text-anchor="start" fill="#333" stroke="#333" style="stroke-width:0.15px" >4</text>
<line x1="248.14" y1="308.80" x2="256.24" y2="308.80" stroke="#2a2a2a" stroke-width="1.7" />
<text x="259.84" y="310.90" font-size="6.0" text-anchor="middle" fill="#555" stroke="#555" >1</text>
<line x1="266.04" y1="308.80" x2="275.34" y2="308.80" stroke="#b84a5a" stroke-width="1.7" />
<text x="278.54" y="310.90" font-size="6.0" text-anchor="middle" fill="#555" stroke="#555" >2</text>
<line x1="285.14" y1="308.80" x2="294.34" y2="308.80" stroke="#3a3a6a" stroke-width="1.7" />
<text x="297.54" y="310.90" font-size="6.0" text-anchor="middle" fill="#555" stroke="#555" >3</text>
<line x1="248.14" y1="318.20" x2="256.24" y2="318.20" stroke="#4a9a5a" stroke-width="1.7" />
<text x="259.84" y="320.30" font-size="6.0" text-anchor="middle" fill="#555" stroke="#555" >4</text>
<line x1="266.04" y1="318.20" x2="275.34" y2="318.20" stroke="#a86ab8" stroke-width="1.7" />
<text x="278.54" y="320.30" font-size="6.0" text-anchor="middle" fill="#555" stroke="#555" >5</text>
<text x="263.04" y="331.90" font-size="5.3" text-anchor="middle" fill="#222" stroke="#222" textLength="16.90" lengthAdjust="spacingAndGlyphs" >Control</text>
<line x1="263.34" y1="335.10" x2="257.46" y2="345.48" stroke="#111" stroke-width="1.4" />
<polygon points="255.24,349.40 255.44,343.77 259.97,346.33" fill="#111"/>
<text x="273.84" y="386.30" font-size="8.4" text-anchor="middle" fill="#333" stroke="none" font-weight="bold" textLength="29.20" lengthAdjust="spacingAndGlyphs" >CD11a-FITC</text>
<text x="222.54" y="337.40" font-size="7.2" text-anchor="middle" fill="#333" stroke="none" font-weight="bold" textLength="52.50" lengthAdjust="spacingAndGlyphs" transform="rotate(-90 222.54 337.40)" >Relative cell number</text>
<polygon points="349.41,363.00 351.04,362.21 353.50,355.07 356.22,345.15 356.90,344.36 358.67,351.89 360.31,360.62 361.26,362.80 361.26,363.00" fill="#6a16d6" stroke="#4c12a0" stroke-width="0.6" stroke-linejoin="round"/>
<polygon points="360.99,363.00 360.99,359.80 361.70,361.91 362.41,362.27 363.13,359.95 363.84,360.10 364.55,362.13 365.27,361.31 365.98,361.54 366.69,360.97 367.41,361.14 368.12,361.96 368.83,360.69 369.55,362.25 370.26,362.21 370.97,362.15 371.69,361.73 372.40,361.49 373.12,362.24 373.83,362.05 374.54,362.12 375.26,361.69 375.97,361.64 375.97,363.00" fill="#8a5ad8" stroke="#8a5ad8" stroke-width="0.5"/>
<polyline points="373.93,362.01 374.61,360.75 375.29,359.50 375.97,358.24 376.65,356.99 377.33,355.73 378.01,354.47 378.69,353.68 379.37,352.89 380.05,352.09 380.74,351.30 381.42,351.79 382.10,352.29 382.78,352.79 383.46,353.28 384.14,354.41 384.82,355.53 385.50,356.65 386.18,357.78 386.86,358.90 387.55,360.03 388.23,360.77 388.91,361.51 389.59,362.26 390.27,363.00 390.95,363.20 391.63,363.20" fill="none" stroke="#4a8a5a" stroke-width="1.0" stroke-linejoin="round"/>
<polygon points="361.67,363.00 361.67,363.20 362.35,363.20 363.03,362.01 363.71,361.98 364.39,361.95 365.07,361.92 365.75,361.90 366.43,361.87 367.12,361.84 367.80,361.81 368.48,361.78 369.16,361.75 369.84,361.73 370.52,361.70 371.20,361.67 371.88,361.64 372.56,361.61 373.24,360.89 373.93,360.16 374.61,359.43 375.29,358.70 375.97,357.98 376.65,357.25 377.33,356.26 378.01,355.27 378.69,354.27 379.37,353.28 380.05,352.29 380.74,351.30 381.42,350.64 382.10,349.98 382.78,349.32 383.46,350.51 384.14,351.70 384.82,352.89 385.50,354.08 386.18,355.27 386.86,356.56 387.55,357.84 388.23,359.13 388.91,360.42 389.59,361.71 390.27,363.00 390.95,363.20 391.63,363.20 391.63,363.00" fill="#f0e8f8"/>
<polyline points="361.67,363.20 362.35,363.20 363.03,362.01 363.71,361.98 364.39,361.95 365.07,361.92 365.75,361.90 366.43,361.87 367.12,361.84 367.80,361.81 368.48,361.78 369.16,361.75 369.84,361.73 370.52,361.70 371.20,361.67 371.88,361.64 372.56,361.61 373.24,360.89 373.93,360.16 374.61,359.43 375.29,358.70 375.97,357.98 376.65,357.25 377.33,356.26 378.01,355.27 378.69,354.27 379.37,353.28 380.05,352.29 380.74,351.30 381.42,350.64 382.10,349.98 382.78,349.32 383.46,350.51 384.14,351.70 384.82,352.89 385.50,354.08 386.18,355.27 386.86,356.56 387.55,357.84 388.23,359.13 388.91,360.42 389.59,361.71 390.27,363.00 390.95,363.20 391.63,363.20" fill="none" stroke="#a060c8" stroke-width="1.0" stroke-linejoin="round"/>
<polyline points="373.93,362.01 374.61,361.22 375.29,360.42 375.97,359.63 376.65,358.84 377.33,358.04 378.01,357.25 378.69,355.76 379.37,354.27 380.05,352.79 380.74,351.30 381.42,349.90 382.10,348.50 382.78,347.10 383.46,347.64 384.14,349.47 384.82,351.30 385.50,353.08 386.18,354.87 386.86,356.65 387.55,358.44 388.23,359.58 388.91,360.72 389.59,361.86 390.27,363.00 390.95,363.20 391.63,363.20" fill="none" stroke="#c03040" stroke-width="1.0" stroke-linejoin="round"/>
<polyline points="375.29,362.01 375.97,360.89 376.65,359.76 377.33,358.64 378.01,357.51 378.69,356.39 379.37,355.27 380.05,353.55 380.74,351.83 381.42,350.11 382.10,350.24 382.78,350.37 383.46,350.51 384.14,351.89 384.82,353.28 385.50,354.67 386.18,356.06 386.86,357.35 387.55,358.64 388.23,359.93 388.91,361.22 389.59,362.11 390.27,363.00 390.95,363.20 391.63,363.20" fill="none" stroke="#3020a0" stroke-width="1.5" stroke-linejoin="round"/>
<polyline points="369.84,362.60 370.52,362.60 371.20,362.60 371.88,362.31 372.56,362.01 373.24,361.08 373.93,360.16 374.61,359.23 375.29,357.25 375.97,355.27 376.65,353.28 377.33,351.83 378.01,350.37 378.69,348.92 379.37,350.11 380.05,351.30 380.74,350.51 381.42,349.71 382.10,350.24 382.78,350.77 383.46,351.30 384.14,352.62 384.82,353.94 385.50,355.27 386.18,356.59 386.86,357.91 387.55,359.23 388.23,360.18 388.91,361.12 389.59,362.06 390.27,363.00 390.95,363.00 391.63,363.00 392.31,363.00 392.99,363.00 393.67,363.00 394.36,363.00 395.04,363.00 395.72,363.00 396.40,363.00 397.08,363.00 397.76,363.00 398.44,363.00 399.12,363.00 399.80,363.00 400.48,363.00 401.17,363.00 401.85,363.00 402.53,363.20 403.21,363.20" fill="none" stroke="#222" stroke-width="1.0" stroke-linejoin="round"/>
<line x1="349.41" y1="363.60" x2="349.41" y2="312.40" stroke="#111" stroke-width="1.4" />
<line x1="348.81" y1="363.00" x2="404.89" y2="363.00" stroke="#111" stroke-width="1.4" />
<line x1="346.21" y1="363.00" x2="349.41" y2="363.00" stroke="#111" stroke-width="1.2" />
<text x="343.41" y="365.20" font-size="6.5" text-anchor="end" fill="#333" stroke="#333" textLength="3.45" lengthAdjust="spacingAndGlyphs" style="stroke-width:0.25px" >0</text>
<line x1="346.21" y1="347.13" x2="349.41" y2="347.13" stroke="#111" stroke-width="1.2" />
<text x="343.41" y="349.33" font-size="6.5" text-anchor="end" fill="#333" stroke="#333" textLength="6.90" lengthAdjust="spacingAndGlyphs" style="stroke-width:0.25px" >40</text>
<line x1="346.21" y1="331.26" x2="349.41" y2="331.26" stroke="#111" stroke-width="1.2" />
<text x="343.41" y="333.46" font-size="6.5" text-anchor="end" fill="#333" stroke="#333" textLength="6.90" lengthAdjust="spacingAndGlyphs" style="stroke-width:0.25px" >80</text>
<line x1="346.21" y1="315.40" x2="349.41" y2="315.40" stroke="#111" stroke-width="1.2" />
<text x="343.41" y="317.60" font-size="6.5" text-anchor="end" fill="#333" stroke="#333" textLength="10.35" lengthAdjust="spacingAndGlyphs" style="stroke-width:0.25px" >120</text>
<line x1="349.41" y1="363.00" x2="349.41" y2="365.70" stroke="#111" stroke-width="1.1" />
<text x="345.01" y="374.20" font-size="6.1" text-anchor="start" fill="#333" stroke="#333" textLength="6.70" lengthAdjust="spacingAndGlyphs" style="stroke-width:0.2px" >10</text>
<text x="351.91" y="371.20" font-size="4.2" text-anchor="start" fill="#333" stroke="#333" style="stroke-width:0.15px" >0</text>
<line x1="363.03" y1="363.00" x2="363.03" y2="365.70" stroke="#111" stroke-width="1.1" />
<text x="358.63" y="374.20" font-size="6.1" text-anchor="start" fill="#333" stroke="#333" textLength="6.70" lengthAdjust="spacingAndGlyphs" style="stroke-width:0.2px" >10</text>
<text x="365.53" y="371.20" font-size="4.2" text-anchor="start" fill="#333" stroke="#333" style="stroke-width:0.15px" >1</text>
<line x1="376.65" y1="363.00" x2="376.65" y2="365.70" stroke="#111" stroke-width="1.1" />
<text x="372.25" y="374.20" font-size="6.1" text-anchor="start" fill="#333" stroke="#333" textLength="6.70" lengthAdjust="spacingAndGlyphs" style="stroke-width:0.2px" >10</text>
<text x="379.15" y="371.20" font-size="4.2" text-anchor="start" fill="#333" stroke="#333" style="stroke-width:0.15px" >2</text>
<line x1="390.27" y1="363.00" x2="390.27" y2="365.70" stroke="#111" stroke-width="1.1" />
<text x="385.87" y="374.20" font-size="6.1" text-anchor="start" fill="#333" stroke="#333" textLength="6.70" lengthAdjust="spacingAndGlyphs" style="stroke-width:0.2px" >10</text>
<text x="392.77" y="371.20" font-size="4.2" text-anchor="start" fill="#333" stroke="#333" style="stroke-width:0.15px" >3</text>
<line x1="403.89" y1="363.00" x2="403.89" y2="365.70" stroke="#111" stroke-width="1.1" />
<text x="399.49" y="374.20" font-size="6.1" text-anchor="start" fill="#333" stroke="#333" textLength="6.70" lengthAdjust="spacingAndGlyphs" style="stroke-width:0.2px" >10</text>
<text x="406.39" y="371.20" font-size="4.2" text-anchor="start" fill="#333" stroke="#333" style="stroke-width:0.15px" >4</text>
<line x1="352.21" y1="308.80" x2="360.31" y2="308.80" stroke="#2a2a2a" stroke-width="1.7" />
<text x="363.91" y="310.90" font-size="6.0" text-anchor="middle" fill="#555" stroke="#555" >1</text>
<line x1="370.11" y1="308.80" x2="379.41" y2="308.80" stroke="#b84a5a" stroke-width="1.7" />
<text x="382.61" y="310.90" font-size="6.0" text-anchor="middle" fill="#555" stroke="#555" >2</text>
<line x1="389.21" y1="308.80" x2="398.41" y2="308.80" stroke="#3a3a6a" stroke-width="1.7" />
<text x="401.61" y="310.90" font-size="6.0" text-anchor="middle" fill="#555" stroke="#555" >3</text>
<line x1="352.21" y1="318.20" x2="360.31" y2="318.20" stroke="#4a9a5a" stroke-width="1.7" />
<text x="363.91" y="320.30" font-size="6.0" text-anchor="middle" fill="#555" stroke="#555" >4</text>
<line x1="370.11" y1="318.20" x2="379.41" y2="318.20" stroke="#a86ab8" stroke-width="1.7" />
<text x="382.61" y="320.30" font-size="6.0" text-anchor="middle" fill="#555" stroke="#555" >5</text>
<text x="367.11" y="331.90" font-size="5.3" text-anchor="middle" fill="#222" stroke="#222" textLength="16.90" lengthAdjust="spacingAndGlyphs" >Control</text>
<line x1="367.41" y1="335.10" x2="361.53" y2="345.48" stroke="#111" stroke-width="1.4" />
<polygon points="359.31,349.40 359.51,343.77 364.04,346.33" fill="#111"/>
<text x="377.91" y="386.30" font-size="8.4" text-anchor="middle" fill="#333" stroke="none" font-weight="bold" textLength="30.00" lengthAdjust="spacingAndGlyphs" >CD11b-FITC</text>
<text x="326.61" y="337.40" font-size="7.2" text-anchor="middle" fill="#333" stroke="none" font-weight="bold" textLength="52.50" lengthAdjust="spacingAndGlyphs" transform="rotate(-90 326.61 337.40)" >Relative cell number</text>
<polygon points="453.48,363.00 453.75,361.81 456.48,355.07 459.20,343.96 460.02,342.37 461.92,351.10 463.83,359.83 465.19,362.80 465.19,363.00" fill="#6a16d6" stroke="#4c12a0" stroke-width="0.6" stroke-linejoin="round"/>
<polyline points="480.72,363.20 481.40,363.00 482.08,361.85 482.76,360.70 483.44,359.55 484.12,358.40 484.81,357.25 485.49,355.27 486.17,353.28 486.85,351.30 487.53,350.51 488.21,353.63 488.89,356.75 489.57,359.88 490.25,363.00 490.93,363.20" fill="none" stroke="#4a8a5a" stroke-width="1.0" stroke-linejoin="round"/>
<polyline points="480.72,363.20 481.40,363.00 482.08,361.85 482.76,360.70 483.44,359.55 484.12,358.40 484.81,357.25 485.49,354.60 486.17,351.96 486.85,349.32 487.53,347.33 488.21,351.30 488.89,355.20 489.57,359.10 490.25,363.00 490.93,363.20" fill="none" stroke="#3a3a80" stroke-width="1.3" stroke-linejoin="round"/>
<polyline points="480.04,363.20 480.72,363.00 481.40,361.84 482.08,360.69 482.76,359.53 483.44,358.37 484.12,357.22 484.81,356.06 485.49,353.25 486.17,350.44 486.85,346.34 487.53,344.69 488.21,348.31 488.89,353.21 489.57,358.10 490.25,363.00 490.93,363.20" fill="none" stroke="#c03050" stroke-width="1.0" stroke-linejoin="round"/>
<polyline points="480.04,363.20 480.72,363.00 481.40,361.71 482.08,360.42 482.76,359.13 483.44,357.84 484.12,356.56 484.81,355.27 485.49,352.29 486.17,349.32 486.85,344.56 487.53,342.73 488.21,347.43 488.89,352.62 489.57,357.81 490.25,363.00 490.93,363.20" fill="none" stroke="#b0508a" stroke-width="1.3" stroke-linejoin="round"/>
<polyline points="465.06,363.20 465.74,362.60 466.42,362.57 467.10,362.54 467.78,362.51 468.46,362.47 469.14,362.44 469.82,362.41 470.50,362.11 471.19,361.81 471.87,362.08 472.55,362.34 473.23,362.60 473.91,362.65 474.59,362.69 475.27,362.73 475.95,362.78 476.63,362.24 477.31,360.83 478.00,359.42 478.68,358.02 479.36,356.61 480.04,355.20 480.72,354.06 481.40,353.96 482.08,353.87 482.76,353.77 483.44,353.68 484.12,352.89 484.81,352.09 485.49,351.30 486.17,349.71 486.85,348.13 487.53,348.98 488.21,351.60 488.89,355.40 489.57,359.20 490.25,363.00 490.93,363.00 491.62,363.00 492.30,363.00 492.98,363.00 493.66,363.00 494.34,363.00 495.02,363.00 495.70,363.00 496.38,363.00 497.06,363.00 497.74,363.00 498.43,363.00 499.11,363.00 499.79,363.00 500.47,363.00 501.15,363.00 501.83,363.00 502.51,363.00 503.19,363.00 503.87,363.00 504.55,363.00 505.24,363.00 505.92,363.00 506.60,363.20 507.28,363.20" fill="none" stroke="#1a1a1a" stroke-width="1.2" stroke-linejoin="round"/>
<line x1="453.48" y1="363.60" x2="453.48" y2="312.40" stroke="#111" stroke-width="1.4" />
<line x1="452.88" y1="363.00" x2="508.96" y2="363.00" stroke="#111" stroke-width="1.4" />
<line x1="450.28" y1="363.00" x2="453.48" y2="363.00" stroke="#111" stroke-width="1.2" />
<text x="447.48" y="365.20" font-size="6.5" text-anchor="end" fill="#333" stroke="#333" textLength="3.45" lengthAdjust="spacingAndGlyphs" style="stroke-width:0.25px" >0</text>
<line x1="450.28" y1="347.13" x2="453.48" y2="347.13" stroke="#111" stroke-width="1.2" />
<text x="447.48" y="349.33" font-size="6.5" text-anchor="end" fill="#333" stroke="#333" textLength="6.90" lengthAdjust="spacingAndGlyphs" style="stroke-width:0.25px" >40</text>
<line x1="450.28" y1="331.26" x2="453.48" y2="331.26" stroke="#111" stroke-width="1.2" />
<text x="447.48" y="333.46" font-size="6.5" text-anchor="end" fill="#333" stroke="#333" textLength="6.90" lengthAdjust="spacingAndGlyphs" style="stroke-width:0.25px" >80</text>
<line x1="450.28" y1="315.40" x2="453.48" y2="315.40" stroke="#111" stroke-width="1.2" />
<text x="447.48" y="317.60" font-size="6.5" text-anchor="end" fill="#333" stroke="#333" textLength="10.35" lengthAdjust="spacingAndGlyphs" style="stroke-width:0.25px" >120</text>
<line x1="453.48" y1="363.00" x2="453.48" y2="365.70" stroke="#111" stroke-width="1.1" />
<text x="449.08" y="374.20" font-size="6.1" text-anchor="start" fill="#333" stroke="#333" textLength="6.70" lengthAdjust="spacingAndGlyphs" style="stroke-width:0.2px" >10</text>
<text x="455.98" y="371.20" font-size="4.2" text-anchor="start" fill="#333" stroke="#333" style="stroke-width:0.15px" >0</text>
<line x1="467.10" y1="363.00" x2="467.10" y2="365.70" stroke="#111" stroke-width="1.1" />
<text x="462.70" y="374.20" font-size="6.1" text-anchor="start" fill="#333" stroke="#333" textLength="6.70" lengthAdjust="spacingAndGlyphs" style="stroke-width:0.2px" >10</text>
<text x="469.60" y="371.20" font-size="4.2" text-anchor="start" fill="#333" stroke="#333" style="stroke-width:0.15px" >1</text>
<line x1="480.72" y1="363.00" x2="480.72" y2="365.70" stroke="#111" stroke-width="1.1" />
<text x="476.32" y="374.20" font-size="6.1" text-anchor="start" fill="#333" stroke="#333" textLength="6.70" lengthAdjust="spacingAndGlyphs" style="stroke-width:0.2px" >10</text>
<text x="483.22" y="371.20" font-size="4.2" text-anchor="start" fill="#333" stroke="#333" style="stroke-width:0.15px" >2</text>
<line x1="494.34" y1="363.00" x2="494.34" y2="365.70" stroke="#111" stroke-width="1.1" />
<text x="489.94" y="374.20" font-size="6.1" text-anchor="start" fill="#333" stroke="#333" textLength="6.70" lengthAdjust="spacingAndGlyphs" style="stroke-width:0.2px" >10</text>
<text x="496.84" y="371.20" font-size="4.2" text-anchor="start" fill="#333" stroke="#333" style="stroke-width:0.15px" >3</text>
<line x1="507.96" y1="363.00" x2="507.96" y2="365.70" stroke="#111" stroke-width="1.1" />
<text x="503.56" y="374.20" font-size="6.1" text-anchor="start" fill="#333" stroke="#333" textLength="6.70" lengthAdjust="spacingAndGlyphs" style="stroke-width:0.2px" >10</text>
<text x="510.46" y="371.20" font-size="4.2" text-anchor="start" fill="#333" stroke="#333" style="stroke-width:0.15px" >4</text>
<line x1="456.28" y1="308.80" x2="464.38" y2="308.80" stroke="#2a2a2a" stroke-width="1.7" />
<text x="467.98" y="310.90" font-size="6.0" text-anchor="middle" fill="#555" stroke="#555" >1</text>
<line x1="474.18" y1="308.80" x2="483.48" y2="308.80" stroke="#b84a5a" stroke-width="1.7" />
<text x="486.68" y="310.90" font-size="6.0" text-anchor="middle" fill="#555" stroke="#555" >2</text>
<line x1="493.28" y1="308.80" x2="502.48" y2="308.80" stroke="#3a3a6a" stroke-width="1.7" />
<text x="505.68" y="310.90" font-size="6.0" text-anchor="middle" fill="#555" stroke="#555" >3</text>
<line x1="456.28" y1="318.20" x2="464.38" y2="318.20" stroke="#4a9a5a" stroke-width="1.7" />
<text x="467.98" y="320.30" font-size="6.0" text-anchor="middle" fill="#555" stroke="#555" >4</text>
<line x1="474.18" y1="318.20" x2="483.48" y2="318.20" stroke="#a86ab8" stroke-width="1.7" />
<text x="486.68" y="320.30" font-size="6.0" text-anchor="middle" fill="#555" stroke="#555" >5</text>
<text x="471.18" y="331.90" font-size="5.3" text-anchor="middle" fill="#222" stroke="#222" textLength="16.90" lengthAdjust="spacingAndGlyphs" >Control</text>
<line x1="471.48" y1="335.10" x2="465.60" y2="345.48" stroke="#111" stroke-width="1.4" />
<polygon points="463.38,349.40 463.58,343.77 468.11,346.33" fill="#111"/>
<text x="481.98" y="386.30" font-size="8.4" text-anchor="middle" fill="#333" stroke="none" font-weight="bold" textLength="31.20" lengthAdjust="spacingAndGlyphs" >CXCR2-FITC</text>
<text x="430.68" y="337.40" font-size="7.2" text-anchor="middle" fill="#333" stroke="none" font-weight="bold" textLength="52.50" lengthAdjust="spacingAndGlyphs" transform="rotate(-90 430.68 337.40)" >Relative cell number</text>
<rect x="69.20" y="432.40" width="5.00" height="5.00" fill="#b5002d"/>
<text x="76.80" y="437.40" font-size="6.8" text-anchor="start" fill="#222" stroke="#222" textLength="68.00" lengthAdjust="spacingAndGlyphs" >Bone marrow leukocytes</text>
<rect x="69.20" y="441.60" width="5.00" height="5.00" fill="#2c4a88"/>
<text x="76.80" y="446.60" font-size="6.8" text-anchor="start" fill="#222" stroke="#222" textLength="91.60" lengthAdjust="spacingAndGlyphs" >Purified bone marrow neutrophils</text>
<rect x="69.20" y="450.80" width="5.00" height="5.00" fill="#66aa3c"/>
<text x="76.80" y="455.80" font-size="6.8" text-anchor="start" fill="#222" stroke="#222" textLength="76.20" lengthAdjust="spacingAndGlyphs" >Peripheral blood leukocytes</text>
<rect x="65.20" y="476.42" width="8.80" height="32.88" fill="#b5002d"/>
<line x1="69.60" y1="476.42" x2="69.60" y2="473.30" stroke="#1a1a1a" stroke-width="0.9" />
<line x1="68.30" y1="473.30" x2="70.90" y2="473.30" stroke="#1a1a1a" stroke-width="1.2" />
<rect x="75.50" y="489.50" width="8.80" height="19.80" fill="#b5002d"/>
<line x1="79.90" y1="489.50" x2="79.90" y2="486.32" stroke="#1a1a1a" stroke-width="0.9" />
<line x1="78.60" y1="486.32" x2="81.20" y2="486.32" stroke="#1a1a1a" stroke-width="1.2" />
<rect x="85.80" y="475.70" width="8.80" height="33.60" fill="#b5002d"/>
<line x1="90.20" y1="475.70" x2="90.20" y2="472.10" stroke="#1a1a1a" stroke-width="0.9" />
<line x1="88.90" y1="472.10" x2="91.50" y2="472.10" stroke="#1a1a1a" stroke-width="1.2" />
<rect x="96.10" y="487.10" width="8.80" height="22.20" fill="#b5002d"/>
<line x1="100.50" y1="487.10" x2="100.50" y2="482.48" stroke="#1a1a1a" stroke-width="0.9" />
<line x1="99.20" y1="482.48" x2="101.80" y2="482.48" stroke="#1a1a1a" stroke-width="1.2" />
<rect x="106.40" y="478.70" width="8.80" height="30.60" fill="#b5002d"/>
<line x1="110.80" y1="478.70" x2="110.80" y2="476.42" stroke="#1a1a1a" stroke-width="0.9" />
<line x1="109.50" y1="476.42" x2="112.10" y2="476.42" stroke="#1a1a1a" stroke-width="1.2" />
<line x1="69.20" y1="471.20" x2="80.70" y2="471.20" stroke="#1a1a1a" stroke-width="1.1" />
<text x="75.20" y="470.80" font-size="7.0" text-anchor="middle" fill="#111" stroke="#111" >*</text>
<line x1="69.20" y1="465.20" x2="99.80" y2="465.20" stroke="#1a1a1a" stroke-width="1.1" />
<text x="84.50" y="464.80" font-size="7.0" text-anchor="middle" fill="#111" stroke="#111" >*</text>
<rect x="118.10" y="476.90" width="8.80" height="32.40" fill="#2c4a88"/>
<line x1="122.50" y1="476.90" x2="122.50" y2="473.30" stroke="#1a1a1a" stroke-width="0.9" />
<line x1="121.20" y1="473.30" x2="123.80" y2="473.30" stroke="#1a1a1a" stroke-width="1.2" />
<rect x="128.40" y="488.90" width="8.80" height="20.40" fill="#2c4a88"/>
<line x1="132.80" y1="488.90" x2="132.80" y2="483.92" stroke="#1a1a1a" stroke-width="0.9" />
<line x1="131.50" y1="483.92" x2="134.10" y2="483.92" stroke="#1a1a1a" stroke-width="1.2" />
<rect x="138.70" y="476.60" width="8.80" height="32.70" fill="#2c4a88"/>
<line x1="143.10" y1="476.60" x2="143.10" y2="473.18" stroke="#1a1a1a" stroke-width="0.9" />
<line x1="141.80" y1="473.18" x2="144.40" y2="473.18" stroke="#1a1a1a" stroke-width="1.2" />
<rect x="149.00" y="487.70" width="8.80" height="21.60" fill="#2c4a88"/>
<line x1="153.40" y1="487.70" x2="153.40" y2="483.92" stroke="#1a1a1a" stroke-width="0.9" />
<line x1="152.10" y1="483.92" x2="154.70" y2="483.92" stroke="#1a1a1a" stroke-width="1.2" />
<rect x="159.30" y="478.10" width="8.80" height="31.20" fill="#2c4a88"/>
<line x1="163.70" y1="478.10" x2="163.70" y2="474.92" stroke="#1a1a1a" stroke-width="0.9" />
<line x1="162.40" y1="474.92" x2="165.00" y2="474.92" stroke="#1a1a1a" stroke-width="1.2" />
<line x1="122.10" y1="471.40" x2="133.60" y2="471.40" stroke="#1a1a1a" stroke-width="1.1" />
<text x="128.10" y="471.00" font-size="7.0" text-anchor="middle" fill="#111" stroke="#111" >*</text>
<line x1="122.10" y1="464.90" x2="152.70" y2="464.90" stroke="#1a1a1a" stroke-width="1.1" />
<text x="137.40" y="464.50" font-size="7.0" text-anchor="middle" fill="#111" stroke="#111" >*</text>
<rect x="171.10" y="476.60" width="8.80" height="32.70" fill="#66aa3c"/>
<line x1="175.50" y1="476.60" x2="175.50" y2="470.42" stroke="#1a1a1a" stroke-width="0.9" />
<line x1="174.20" y1="470.42" x2="176.80" y2="470.42" stroke="#1a1a1a" stroke-width="1.2" />
<rect x="181.40" y="485.30" width="8.80" height="24.00" fill="#66aa3c"/>
<line x1="185.80" y1="485.30" x2="185.80" y2="481.88" stroke="#1a1a1a" stroke-width="0.9" />
<line x1="184.50" y1="481.88" x2="187.10" y2="481.88" stroke="#1a1a1a" stroke-width="1.2" />
<rect x="191.70" y="474.50" width="8.80" height="34.80" fill="#66aa3c"/>
<line x1="196.10" y1="474.50" x2="196.10" y2="469.28" stroke="#1a1a1a" stroke-width="0.9" />
<line x1="194.80" y1="469.28" x2="197.40" y2="469.28" stroke="#1a1a1a" stroke-width="1.2" />
<rect x="202.00" y="487.10" width="8.80" height="22.20" fill="#66aa3c"/>
<line x1="206.40" y1="487.10" x2="206.40" y2="483.20" stroke="#1a1a1a" stroke-width="0.9" />
<line x1="205.10" y1="483.20" x2="207.70" y2="483.20" stroke="#1a1a1a" stroke-width="1.2" />
<rect x="212.30" y="475.40" width="8.80" height="33.90" fill="#66aa3c"/>
<line x1="216.70" y1="475.40" x2="216.70" y2="471.92" stroke="#1a1a1a" stroke-width="0.9" />
<line x1="215.40" y1="471.92" x2="218.00" y2="471.92" stroke="#1a1a1a" stroke-width="1.2" />
<line x1="175.10" y1="470.00" x2="186.60" y2="470.00" stroke="#1a1a1a" stroke-width="1.1" />
<text x="181.10" y="469.60" font-size="7.0" text-anchor="middle" fill="#111" stroke="#111" >*</text>
<line x1="175.10" y1="463.90" x2="205.70" y2="463.90" stroke="#1a1a1a" stroke-width="1.1" />
<text x="190.40" y="463.50" font-size="7.0" text-anchor="middle" fill="#111" stroke="#111" >*</text>
<line x1="64.40" y1="509.90" x2="64.40" y2="446.20" stroke="#111" stroke-width="1.3" />
<line x1="63.80" y1="509.30" x2="224.30" y2="509.30" stroke="#111" stroke-width="1.3" />
<line x1="61.80" y1="509.30" x2="64.40" y2="509.30" stroke="#111" stroke-width="1.0" />
<text x="58.50" y="511.60" font-size="6.5" text-anchor="end" fill="#333" stroke="#333" textLength="3.45" lengthAdjust="spacingAndGlyphs" style="stroke-width:0.25px" >0</text>
<line x1="61.80" y1="497.30" x2="64.40" y2="497.30" stroke="#111" stroke-width="1.0" />
<text x="58.50" y="499.60" font-size="6.5" text-anchor="end" fill="#333" stroke="#333" textLength="3.45" lengthAdjust="spacingAndGlyphs" style="stroke-width:0.25px" >2</text>
<line x1="61.80" y1="485.30" x2="64.40" y2="485.30" stroke="#111" stroke-width="1.0" />
<text x="58.50" y="487.60" font-size="6.5" text-anchor="end" fill="#333" stroke="#333" textLength="3.45" lengthAdjust="spacingAndGlyphs" style="stroke-width:0.25px" >4</text>
<line x1="61.80" y1="473.30" x2="64.40" y2="473.30" stroke="#111" stroke-width="1.0" />
<text x="58.50" y="475.60" font-size="6.5" text-anchor="end" fill="#333" stroke="#333" textLength="3.45" lengthAdjust="spacingAndGlyphs" style="stroke-width:0.25px" >6</text>
<line x1="61.80" y1="461.30" x2="64.40" y2="461.30" stroke="#111" stroke-width="1.0" />
<text x="58.50" y="463.60" font-size="6.5" text-anchor="end" fill="#333" stroke="#333" textLength="3.45" lengthAdjust="spacingAndGlyphs" style="stroke-width:0.25px" >8</text>
<line x1="61.80" y1="449.30" x2="64.40" y2="449.30" stroke="#111" stroke-width="1.0" />
<text x="58.50" y="451.60" font-size="6.5" text-anchor="end" fill="#333" stroke="#333" textLength="6.90" lengthAdjust="spacingAndGlyphs" style="stroke-width:0.25px" >10</text>
<line x1="64.40" y1="509.30" x2="64.40" y2="511.90" stroke="#111" stroke-width="0.9" />
<line x1="74.40" y1="509.30" x2="74.40" y2="511.90" stroke="#111" stroke-width="0.9" />
<line x1="84.70" y1="509.30" x2="84.70" y2="511.90" stroke="#111" stroke-width="0.9" />
<line x1="95.00" y1="509.30" x2="95.00" y2="511.90" stroke="#111" stroke-width="0.9" />
<line x1="105.30" y1="509.30" x2="105.30" y2="511.90" stroke="#111" stroke-width="0.9" />
<line x1="115.60" y1="509.30" x2="115.60" y2="511.90" stroke="#111" stroke-width="0.9" />
<line x1="127.30" y1="509.30" x2="127.30" y2="511.90" stroke="#111" stroke-width="0.9" />
<line x1="137.60" y1="509.30" x2="137.60" y2="511.90" stroke="#111" stroke-width="0.9" />
<line x1="147.90" y1="509.30" x2="147.90" y2="511.90" stroke="#111" stroke-width="0.9" />
<line x1="158.20" y1="509.30" x2="158.20" y2="511.90" stroke="#111" stroke-width="0.9" />
<line x1="168.50" y1="509.30" x2="168.50" y2="511.90" stroke="#111" stroke-width="0.9" />
<line x1="116.50" y1="509.30" x2="116.50" y2="511.90" stroke="#111" stroke-width="0.9" />
<line x1="180.30" y1="509.30" x2="180.30" y2="511.90" stroke="#111" stroke-width="0.9" />
<line x1="190.60" y1="509.30" x2="190.60" y2="511.90" stroke="#111" stroke-width="0.9" />
<line x1="200.90" y1="509.30" x2="200.90" y2="511.90" stroke="#111" stroke-width="0.9" />
<line x1="211.20" y1="509.30" x2="211.20" y2="511.90" stroke="#111" stroke-width="0.9" />
<line x1="221.50" y1="509.30" x2="221.50" y2="511.90" stroke="#111" stroke-width="0.9" />
<line x1="169.50" y1="509.30" x2="169.50" y2="511.90" stroke="#111" stroke-width="0.9" />
<text x="45.20" y="478.20" font-size="7.4" text-anchor="middle" fill="#333" stroke="none" font-weight="bold" textLength="61.00" lengthAdjust="spacingAndGlyphs" transform="rotate(-90 45.20 478.20)" >Rolling velocity (µm/s)</text>
<text x="58.60" y="521.60" font-size="6.3" text-anchor="end" fill="#111" stroke="#111" textLength="28.60" lengthAdjust="spacingAndGlyphs" >E-selectin:</text>
<text x="58.60" y="529.00" font-size="6.3" text-anchor="end" fill="#111" stroke="#111" textLength="22.90" lengthAdjust="spacingAndGlyphs" >ICAM-1:</text>
<text x="58.60" y="536.90" font-size="6.3" text-anchor="end" fill="#111" stroke="#111" textLength="28.60" lengthAdjust="spacingAndGlyphs" >Treatment:</text>
<line x1="64.20" y1="519.30" x2="222.00" y2="519.30" stroke="#111" stroke-width="1.0" />
<line x1="74.50" y1="526.80" x2="115.20" y2="526.80" stroke="#111" stroke-width="1.0" />
<line x1="126.80" y1="526.80" x2="167.50" y2="526.80" stroke="#111" stroke-width="1.0" />
<line x1="180.50" y1="526.80" x2="221.20" y2="526.80" stroke="#111" stroke-width="1.0" />
<path d="M26.6,516.9 H25.3 V528.2 H26.6" fill="none" stroke="#222" stroke-width="1.3"/>
<text x="13.00" y="522.50" font-size="6.4" text-anchor="middle" fill="#444" stroke="#444" textLength="32.00" lengthAdjust="spacingAndGlyphs" transform="rotate(-90 13.00 522.50)" >Immobilized</text>
<text x="19.70" y="522.50" font-size="6.4" text-anchor="middle" fill="#444" stroke="#444" textLength="18.40" lengthAdjust="spacingAndGlyphs" transform="rotate(-90 19.70 522.50)" >protein</text>
<text x="90.40" y="536.60" font-size="5.4" text-anchor="end" fill="#111" stroke="#111" transform="rotate(-45 90.40 536.60)" >PP2</text>
<text x="101.90" y="536.60" font-size="5.4" text-anchor="end" fill="#111" stroke="#111" transform="rotate(-45 101.90 536.60)" >PP3</text>
<text x="113.50" y="538.90" font-size="5.8" text-anchor="end" fill="#111" stroke="#111" transform="rotate(-45 113.50 538.90)" >anti-ICAM-1</text>
<text x="143.30" y="536.60" font-size="5.4" text-anchor="end" fill="#111" stroke="#111" transform="rotate(-45 143.30 536.60)" >PP2</text>
<text x="154.80" y="536.60" font-size="5.4" text-anchor="end" fill="#111" stroke="#111" transform="rotate(-45 154.80 536.60)" >PP3</text>
<text x="166.40" y="538.90" font-size="5.8" text-anchor="end" fill="#111" stroke="#111" transform="rotate(-45 166.40 538.90)" >anti-ICAM-1</text>
<text x="196.30" y="536.60" font-size="5.4" text-anchor="end" fill="#111" stroke="#111" transform="rotate(-45 196.30 536.60)" >PP2</text>
<text x="207.80" y="536.60" font-size="5.4" text-anchor="end" fill="#111" stroke="#111" transform="rotate(-45 207.80 536.60)" >PP3</text>
<text x="219.40" y="538.90" font-size="5.8" text-anchor="end" fill="#111" stroke="#111" transform="rotate(-45 219.40 538.90)" >anti-ICAM-1</text>
<text x="351.60" y="427.50" font-size="8.3" text-anchor="middle" fill="#222" stroke="#222" textLength="142.00" lengthAdjust="spacingAndGlyphs" >E-selectin/ICAM-1/CXCL1 (1.0 µg/ml)</text>
<text x="288.00" y="438.80" font-size="6.4" text-anchor="middle" fill="#222" stroke="#222" textLength="37.40" lengthAdjust="spacingAndGlyphs" >Bone marrow</text>
<text x="287.90" y="446.40" font-size="6.4" text-anchor="middle" fill="#222" stroke="#222" textLength="29.40" lengthAdjust="spacingAndGlyphs" >leukocytes</text>
<text x="345.40" y="438.80" font-size="6.4" text-anchor="middle" fill="#222" stroke="#222" textLength="36.00" lengthAdjust="spacingAndGlyphs" >Purified bone</text>
<text x="345.65" y="446.40" font-size="6.4" text-anchor="middle" fill="#222" stroke="#222" textLength="53.00" lengthAdjust="spacingAndGlyphs" >marrow neutrophils</text>
<text x="411.65" y="438.80" font-size="6.4" text-anchor="middle" fill="#222" stroke="#222" textLength="45.20" lengthAdjust="spacingAndGlyphs" >Peripheral blood</text>
<text x="411.90" y="446.40" font-size="6.4" text-anchor="middle" fill="#222" stroke="#222" textLength="29.60" lengthAdjust="spacingAndGlyphs" >leukocytes</text>
<rect x="274.90" y="454.30" width="10.40" height="16.25" fill="#66aa3c"/>
<rect x="274.90" y="470.55" width="10.40" height="19.84" fill="#2c4a88"/>
<rect x="274.90" y="490.39" width="10.40" height="19.01" fill="#b5002d"/>
<line x1="280.10" y1="490.39" x2="280.10" y2="488.90" stroke="#111" stroke-width="1.2" />
<line x1="279.00" y1="488.90" x2="281.20" y2="488.90" stroke="#111" stroke-width="1.2" />
<line x1="280.10" y1="470.55" x2="280.10" y2="468.63" stroke="#111" stroke-width="1.2" />
<line x1="279.00" y1="468.63" x2="281.20" y2="468.63" stroke="#111" stroke-width="1.2" />
<rect x="288.10" y="454.30" width="10.50" height="1.93" fill="#7aa860"/>
<rect x="288.10" y="456.23" width="10.50" height="1.38" fill="#5a4a7a"/>
<rect x="288.10" y="457.61" width="10.50" height="51.79" fill="#b5002d"/>
<line x1="293.35" y1="457.61" x2="293.35" y2="454.02" stroke="#111" stroke-width="1.3" />
<line x1="292.25" y1="454.02" x2="294.45" y2="454.02" stroke="#111" stroke-width="1.2" />
<text x="303.60" y="461.56" font-size="6.4" text-anchor="middle" fill="#222" stroke="none" font-weight="bold" >#</text>
<line x1="273.40" y1="510.00" x2="273.40" y2="452.80" stroke="#111" stroke-width="1.3" />
<line x1="272.80" y1="509.40" x2="300.90" y2="509.40" stroke="#111" stroke-width="1.3" />
<line x1="273.40" y1="509.40" x2="273.40" y2="512.00" stroke="#111" stroke-width="1.0" />
<line x1="286.50" y1="509.40" x2="286.50" y2="512.00" stroke="#111" stroke-width="1.0" />
<line x1="299.80" y1="509.40" x2="299.80" y2="512.00" stroke="#111" stroke-width="1.0" />
<line x1="270.10" y1="509.40" x2="273.40" y2="509.40" stroke="#111" stroke-width="1.1" />
<text x="267.10" y="511.60" font-size="6.3" text-anchor="end" fill="#333" stroke="#333" textLength="3.40" lengthAdjust="spacingAndGlyphs" style="stroke-width:0.25px" >0</text>
<line x1="270.10" y1="498.38" x2="273.40" y2="498.38" stroke="#111" stroke-width="1.1" />
<text x="267.10" y="500.58" font-size="6.3" text-anchor="end" fill="#333" stroke="#333" textLength="6.80" lengthAdjust="spacingAndGlyphs" style="stroke-width:0.25px" >20</text>
<line x1="270.10" y1="487.36" x2="273.40" y2="487.36" stroke="#111" stroke-width="1.1" />
<text x="267.10" y="489.56" font-size="6.3" text-anchor="end" fill="#333" stroke="#333" textLength="6.80" lengthAdjust="spacingAndGlyphs" style="stroke-width:0.25px" >40</text>
<line x1="270.10" y1="476.34" x2="273.40" y2="476.34" stroke="#111" stroke-width="1.1" />
<text x="267.10" y="478.54" font-size="6.3" text-anchor="end" fill="#333" stroke="#333" textLength="6.80" lengthAdjust="spacingAndGlyphs" style="stroke-width:0.25px" >60</text>
<line x1="270.10" y1="465.32" x2="273.40" y2="465.32" stroke="#111" stroke-width="1.1" />
<text x="267.10" y="467.52" font-size="6.3" text-anchor="end" fill="#333" stroke="#333" textLength="6.80" lengthAdjust="spacingAndGlyphs" style="stroke-width:0.25px" >80</text>
<line x1="270.10" y1="454.30" x2="273.40" y2="454.30" stroke="#111" stroke-width="1.1" />
<text x="267.10" y="456.50" font-size="6.3" text-anchor="end" fill="#333" stroke="#333" textLength="10.20" lengthAdjust="spacingAndGlyphs" style="stroke-width:0.25px" >100</text>
<text x="282.10" y="519.50" font-size="6.1" text-anchor="end" fill="#111" stroke="#111" transform="rotate(-45 282.10 519.50)" >DMSO</text>
<text x="296.00" y="519.90" font-size="5.9" text-anchor="end" fill="#111" stroke="#111" transform="rotate(-45 296.00 519.90)" >PTx</text>
<rect x="332.70" y="454.30" width="10.40" height="18.73" fill="#66aa3c"/>
<rect x="332.70" y="473.03" width="10.40" height="19.95" fill="#2c4a88"/>
<rect x="332.70" y="492.98" width="10.40" height="16.42" fill="#b5002d"/>
<line x1="337.90" y1="492.98" x2="337.90" y2="489.40" stroke="#111" stroke-width="1.2" />
<line x1="336.80" y1="489.40" x2="339.00" y2="489.40" stroke="#111" stroke-width="1.2" />
<line x1="337.90" y1="473.03" x2="337.90" y2="467.74" stroke="#111" stroke-width="1.2" />
<line x1="336.80" y1="467.74" x2="339.00" y2="467.74" stroke="#111" stroke-width="1.2" />
<rect x="345.90" y="454.30" width="10.50" height="2.20" fill="#7aa860"/>
<rect x="345.90" y="456.50" width="10.50" height="1.27" fill="#5a4a7a"/>
<rect x="345.90" y="457.77" width="10.50" height="51.63" fill="#b5002d"/>
<line x1="351.15" y1="457.77" x2="351.15" y2="454.02" stroke="#111" stroke-width="1.3" />
<line x1="350.05" y1="454.02" x2="352.25" y2="454.02" stroke="#111" stroke-width="1.2" />
<text x="361.40" y="461.56" font-size="6.4" text-anchor="middle" fill="#222" stroke="none" font-weight="bold" >#</text>
<line x1="331.20" y1="510.00" x2="331.20" y2="452.80" stroke="#111" stroke-width="1.3" />
<line x1="330.60" y1="509.40" x2="358.70" y2="509.40" stroke="#111" stroke-width="1.3" />
<line x1="331.20" y1="509.40" x2="331.20" y2="512.00" stroke="#111" stroke-width="1.0" />
<line x1="344.30" y1="509.40" x2="344.30" y2="512.00" stroke="#111" stroke-width="1.0" />
<line x1="357.60" y1="509.40" x2="357.60" y2="512.00" stroke="#111" stroke-width="1.0" />
<line x1="327.90" y1="509.40" x2="331.20" y2="509.40" stroke="#111" stroke-width="1.1" />
<text x="324.90" y="511.60" font-size="6.3" text-anchor="end" fill="#333" stroke="#333" textLength="3.40" lengthAdjust="spacingAndGlyphs" style="stroke-width:0.25px" >0</text>
<line x1="327.90" y1="498.38" x2="331.20" y2="498.38" stroke="#111" stroke-width="1.1" />
<text x="324.90" y="500.58" font-size="6.3" text-anchor="end" fill="#333" stroke="#333" textLength="6.80" lengthAdjust="spacingAndGlyphs" style="stroke-width:0.25px" >20</text>
<line x1="327.90" y1="487.36" x2="331.20" y2="487.36" stroke="#111" stroke-width="1.1" />
<text x="324.90" y="489.56" font-size="6.3" text-anchor="end" fill="#333" stroke="#333" textLength="6.80" lengthAdjust="spacingAndGlyphs" style="stroke-width:0.25px" >40</text>
<line x1="327.90" y1="476.34" x2="331.20" y2="476.34" stroke="#111" stroke-width="1.1" />
<text x="324.90" y="478.54" font-size="6.3" text-anchor="end" fill="#333" stroke="#333" textLength="6.80" lengthAdjust="spacingAndGlyphs" style="stroke-width:0.25px" >60</text>
<line x1="327.90" y1="465.32" x2="331.20" y2="465.32" stroke="#111" stroke-width="1.1" />
<text x="324.90" y="467.52" font-size="6.3" text-anchor="end" fill="#333" stroke="#333" textLength="6.80" lengthAdjust="spacingAndGlyphs" style="stroke-width:0.25px" >80</text>
<line x1="327.90" y1="454.30" x2="331.20" y2="454.30" stroke="#111" stroke-width="1.1" />
<text x="324.90" y="456.50" font-size="6.3" text-anchor="end" fill="#333" stroke="#333" textLength="10.20" lengthAdjust="spacingAndGlyphs" style="stroke-width:0.25px" >100</text>
<text x="339.90" y="519.50" font-size="6.1" text-anchor="end" fill="#111" stroke="#111" transform="rotate(-45 339.90 519.50)" >DMSO</text>
<text x="353.80" y="519.90" font-size="5.9" text-anchor="end" fill="#111" stroke="#111" transform="rotate(-45 353.80 519.90)" >PTx</text>
<rect x="398.60" y="454.30" width="10.40" height="17.63" fill="#66aa3c"/>
<rect x="398.60" y="471.93" width="10.40" height="18.18" fill="#2c4a88"/>
<rect x="398.60" y="490.11" width="10.40" height="19.29" fill="#b5002d"/>
<line x1="403.80" y1="490.11" x2="403.80" y2="487.36" stroke="#111" stroke-width="1.2" />
<line x1="402.70" y1="487.36" x2="404.90" y2="487.36" stroke="#111" stroke-width="1.2" />
<line x1="403.80" y1="471.93" x2="403.80" y2="467.80" stroke="#111" stroke-width="1.2" />
<line x1="402.70" y1="467.80" x2="404.90" y2="467.80" stroke="#111" stroke-width="1.2" />
<rect x="411.80" y="454.30" width="10.50" height="1.93" fill="#7aa860"/>
<rect x="411.80" y="456.23" width="10.50" height="1.38" fill="#5a4a7a"/>
<rect x="411.80" y="457.61" width="10.50" height="51.79" fill="#b5002d"/>
<line x1="417.05" y1="457.61" x2="417.05" y2="454.02" stroke="#111" stroke-width="1.3" />
<line x1="415.95" y1="454.02" x2="418.15" y2="454.02" stroke="#111" stroke-width="1.2" />
<text x="427.30" y="461.56" font-size="6.4" text-anchor="middle" fill="#222" stroke="none" font-weight="bold" >#</text>
<line x1="397.10" y1="510.00" x2="397.10" y2="452.80" stroke="#111" stroke-width="1.3" />
<line x1="396.50" y1="509.40" x2="424.60" y2="509.40" stroke="#111" stroke-width="1.3" />
<line x1="397.10" y1="509.40" x2="397.10" y2="512.00" stroke="#111" stroke-width="1.0" />
<line x1="410.20" y1="509.40" x2="410.20" y2="512.00" stroke="#111" stroke-width="1.0" />
<line x1="423.50" y1="509.40" x2="423.50" y2="512.00" stroke="#111" stroke-width="1.0" />
<line x1="393.80" y1="509.40" x2="397.10" y2="509.40" stroke="#111" stroke-width="1.1" />
<text x="390.80" y="511.60" font-size="6.3" text-anchor="end" fill="#333" stroke="#333" textLength="3.40" lengthAdjust="spacingAndGlyphs" style="stroke-width:0.25px" >0</text>
<line x1="393.80" y1="498.38" x2="397.10" y2="498.38" stroke="#111" stroke-width="1.1" />
<text x="390.80" y="500.58" font-size="6.3" text-anchor="end" fill="#333" stroke="#333" textLength="6.80" lengthAdjust="spacingAndGlyphs" style="stroke-width:0.25px" >20</text>
<line x1="393.80" y1="487.36" x2="397.10" y2="487.36" stroke="#111" stroke-width="1.1" />
<text x="390.80" y="489.56" font-size="6.3" text-anchor="end" fill="#333" stroke="#333" textLength="6.80" lengthAdjust="spacingAndGlyphs" style="stroke-width:0.25px" >40</text>
<line x1="393.80" y1="476.34" x2="397.10" y2="476.34" stroke="#111" stroke-width="1.1" />
<text x="390.80" y="478.54" font-size="6.3" text-anchor="end" fill="#333" stroke="#333" textLength="6.80" lengthAdjust="spacingAndGlyphs" style="stroke-width:0.25px" >60</text>
<line x1="393.80" y1="465.32" x2="397.10" y2="465.32" stroke="#111" stroke-width="1.1" />
<text x="390.80" y="467.52" font-size="6.3" text-anchor="end" fill="#333" stroke="#333" textLength="6.80" lengthAdjust="spacingAndGlyphs" style="stroke-width:0.25px" >80</text>
<line x1="393.80" y1="454.30" x2="397.10" y2="454.30" stroke="#111" stroke-width="1.1" />
<text x="390.80" y="456.50" font-size="6.3" text-anchor="end" fill="#333" stroke="#333" textLength="10.20" lengthAdjust="spacingAndGlyphs" style="stroke-width:0.25px" >100</text>
<text x="405.80" y="519.50" font-size="6.1" text-anchor="end" fill="#111" stroke="#111" transform="rotate(-45 405.80 519.50)" >DMSO</text>
<text x="419.70" y="519.90" font-size="5.9" text-anchor="end" fill="#111" stroke="#111" transform="rotate(-45 419.70 519.90)" >PTx</text>
<text x="249.10" y="480.00" font-size="7.2" text-anchor="middle" fill="#222" stroke="#222" textLength="42.00" lengthAdjust="spacingAndGlyphs" transform="rotate(-90 249.10 480.00)" font-weight="bold">Neutrophils (%)</text>
<rect x="440.60" y="470.10" width="6.20" height="6.20" fill="#66aa3c"/>
<text x="449.90" y="475.40" font-size="6.6" text-anchor="start" fill="#222" stroke="#222" textLength="19.80" lengthAdjust="spacingAndGlyphs" >Spread</text>
<rect x="440.60" y="479.30" width="6.20" height="6.20" fill="#2c4a88"/>
<text x="449.90" y="484.60" font-size="6.6" text-anchor="start" fill="#222" stroke="#222" textLength="17.10" lengthAdjust="spacingAndGlyphs" >Round</text>
<rect x="440.60" y="490.70" width="6.20" height="6.20" fill="#b5002d"/>
<text x="449.90" y="496.00" font-size="6.6" text-anchor="start" fill="#222" stroke="#222" textLength="17.80" lengthAdjust="spacingAndGlyphs" >Rolling</text>
<path d="M472.4,471.4 H474.0 V483.9 H472.4" fill="none" stroke="#222" stroke-width="1.3"/>
<text x="478.20" y="477.70" font-size="6.3" text-anchor="middle" fill="#222" stroke="#222" textLength="15.90" lengthAdjust="spacingAndGlyphs" transform="rotate(90 478.20 477.70)" >Arrest</text>
<rect x="0.00" y="0.00" width="520.00" height="1.20" fill="#000"/>
<rect x="0.00" y="0.00" width="1.50" height="568.00" fill="#000"/>
<rect x="518.60" y="0.00" width="1.40" height="568.00" fill="#000"/>
<rect x="0.00" y="566.30" width="520.00" height="1.70" fill="#000"/>
</svg>
</body></html>
